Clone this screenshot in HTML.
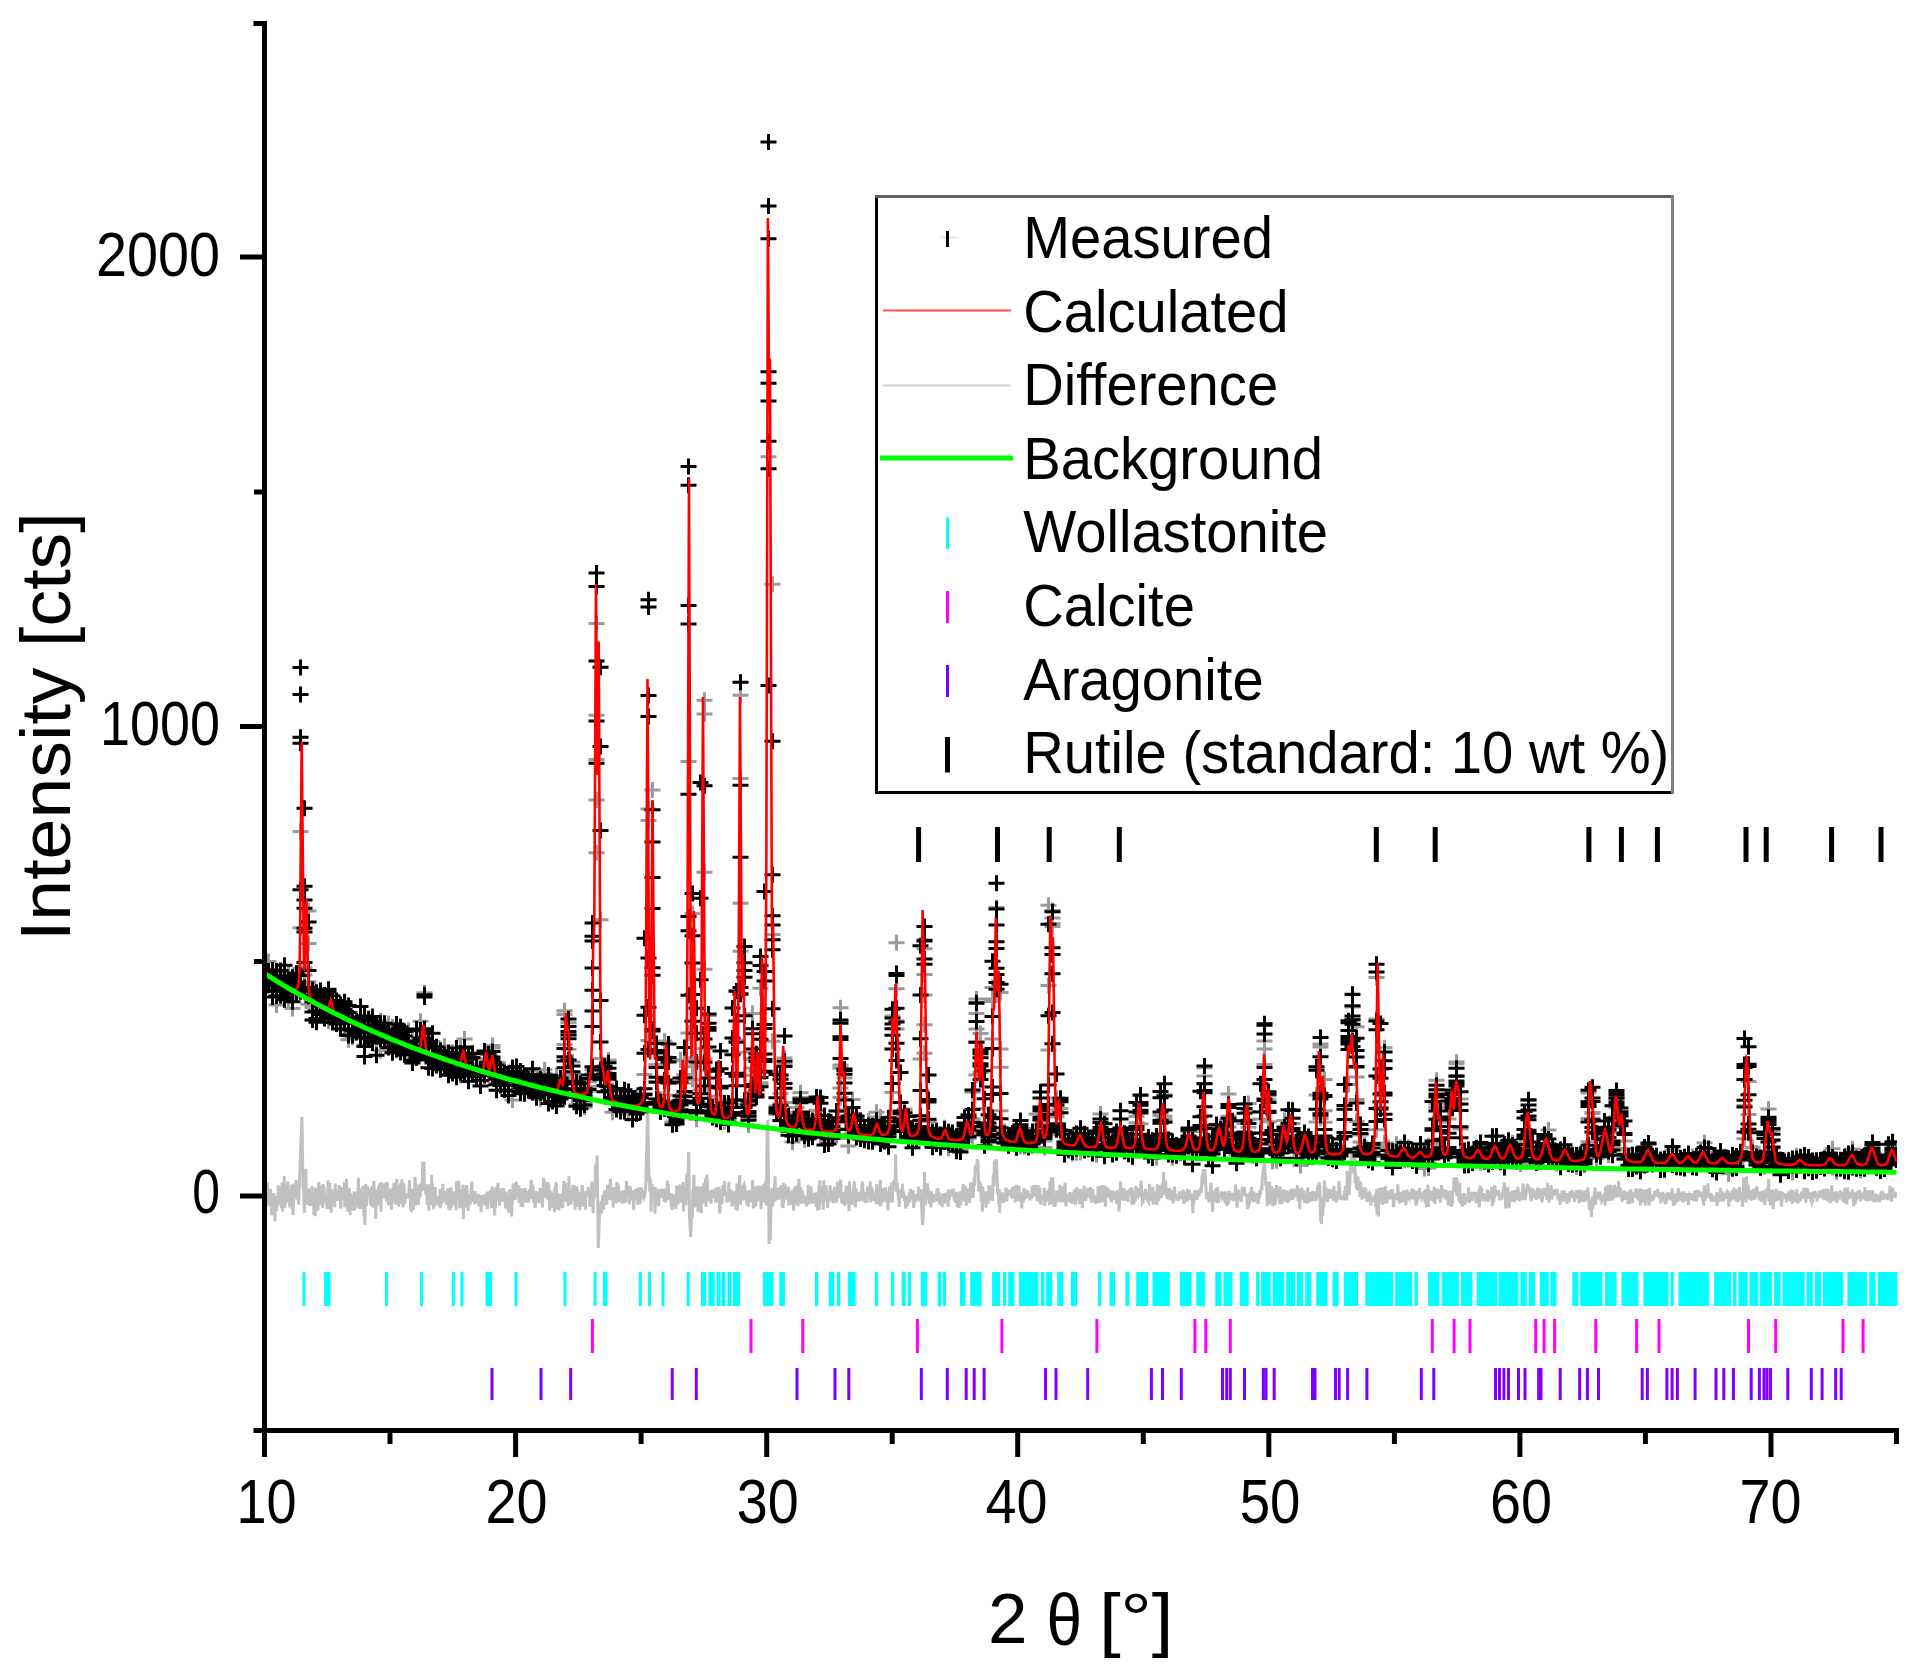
<!DOCTYPE html>
<html><head><meta charset="utf-8"><title>XRD Rietveld plot</title>
<style>
html,body{margin:0;padding:0;background:#fff;}
body{width:1912px;height:1675px;overflow:hidden;}
svg{display:block;}
text{font-family:"Liberation Sans",Arial,sans-serif;fill:#000;}
</style></head><body>
<svg width="1912" height="1675" viewBox="0 0 1912 1675">
<rect width="1912" height="1675" fill="#fff"/>
<defs><clipPath id="pc"><rect x="262" y="0" width="1635" height="1428"/></clipPath></defs>
<g clip-path="url(#pc)">
<polyline fill="none" stroke="#c0c0c0" stroke-width="3" stroke-linejoin="miter" points="264.5,1196 264.9,1192.9 265.7,1205.1 266.1,1200.6 266.5,1206.1 267.3,1182.3 267.7,1201 268.5,1191 269.7,1205.4 270.5,1188.9 271.7,1215.2 272.1,1209 272.5,1214.6 272.9,1198.3 273.3,1208.8 273.7,1193.2 274.5,1197.8 274.9,1221.3 275.7,1196.4 276.6,1211.3 277,1200.8 277.4,1205.8 277.8,1204.1 278.2,1185.3 278.6,1204 279.4,1187.1 279.8,1201.8 281,1195.3 281.4,1208.2 282.2,1182.4 282.6,1211.4 283,1187.4 283.8,1202.3 284.2,1176 285,1207.8 285.8,1190.2 286.2,1197.8 286.6,1189.1 287,1196.5 287.8,1181.6 288.2,1202.5 288.6,1193.8 289,1200.4 289.4,1194.6 289.8,1207.5 291.4,1184.5 291.8,1208.8 292.6,1189.3 293,1215.3 294.2,1183.2 295.4,1199 296.2,1180.1 296.6,1199.3 297.4,1191.2 298.6,1204.5 301.9,1116.9 303.1,1188.8 303.5,1179.8 304.3,1212.8 305.9,1168.8 306.3,1204.6 307.5,1189.9 308.3,1197.5 308.7,1188.6 309.5,1205.6 310.3,1195.3 310.7,1205.9 311.1,1193.2 311.5,1204 311.9,1186.4 313.1,1201.5 313.5,1196.9 313.9,1214.9 314.7,1192.4 315.1,1216.2 315.5,1187.8 315.9,1212.5 316.3,1188.7 316.7,1203.9 317.1,1188.5 317.9,1210.5 318.7,1182.2 320.3,1205.1 320.7,1185.5 321.1,1201.1 321.5,1196.4 322.8,1208 323.2,1184.1 323.6,1197.4 324,1186.9 324.8,1202.5 326,1195.9 327.2,1208.9 328,1180.4 328.8,1205.9 329.6,1182.6 330,1209.9 330.4,1198 331.2,1212.8 331.6,1189 332.8,1203 333.2,1191.7 334.8,1207.3 335.2,1183.6 335.6,1200.7 336,1193.3 337.2,1200.7 337.6,1190.2 338,1198.8 338.8,1195.8 339.2,1185.1 340.8,1208.7 341.2,1187.3 342,1197.3 342.4,1191 343.6,1187.5 344,1200.1 344.4,1182.1 344.8,1207.4 345.2,1188.1 345.6,1191.5 346.5,1178.8 347.7,1211.4 348.1,1188.6 348.5,1205.2 349.3,1188.4 350.1,1215.1 350.5,1193.6 351.3,1198.2 351.7,1195.6 352.5,1209.7 352.9,1197.5 353.7,1210.8 354.1,1191.4 354.5,1196.5 354.9,1192.3 355.3,1204.9 355.7,1201.9 356.1,1205 356.5,1204 356.9,1194.2 357.3,1203 358.5,1177.8 358.9,1208.5 359.3,1188 360.5,1209 361.3,1189.3 362.5,1198.6 362.9,1185.7 363.7,1215.6 364.1,1202.1 364.9,1224.9 365.7,1184.1 366.5,1206.4 367.3,1186 368.5,1196.5 369.4,1188.9 369.8,1191.1 370.6,1205.2 371.8,1186.3 372.2,1207.2 373,1196 373.4,1207.6 373.8,1180.9 374.6,1200.1 375,1189.2 375.4,1192.7 375.8,1218.9 376.2,1193.8 376.6,1196.5 377,1195.3 377.4,1205.4 378.6,1185.6 379.4,1196 379.8,1182.7 381,1211.8 381.4,1182.3 383.8,1198.2 385,1182.9 386.6,1201.5 387,1182.1 388.6,1205.5 389.4,1188.5 389.8,1199.4 391,1195 391.4,1209.6 392.7,1188.4 393.1,1202.6 393.9,1182.9 394.3,1198.6 394.7,1201.1 395.1,1194.3 395.9,1204.4 396.7,1178.8 397.1,1198.2 397.9,1204.9 398.3,1193.2 398.7,1206.6 399.5,1185.1 399.9,1203.6 400.3,1186.8 400.7,1183 401.1,1193.8 401.9,1179.4 403.1,1207.4 403.9,1183.4 404.7,1203.9 405.9,1193.5 406.3,1197.6 407.1,1193.4 407.5,1198.4 408.3,1194.2 408.7,1196.6 409.5,1180.2 410.7,1210 411.1,1192.6 411.5,1212.1 412.3,1188.7 413.5,1210 415.1,1176.8 416.4,1205.3 416.8,1195.9 417.6,1204.9 418,1194.3 418.4,1204.7 418.8,1185.7 419.6,1185.3 420,1197.6 420.4,1188.2 420.8,1191.7 421.6,1186.7 422,1190.1 422.8,1161.6 423.2,1167.9 424,1161.6 424.4,1190.8 425.2,1184.1 426,1194.6 426.4,1184.5 427.2,1204.5 428,1188.4 428.4,1191.4 428.8,1210.8 429.2,1184.3 429.6,1190.5 430,1184.5 431.2,1204.8 431.6,1175 432,1197.1 432.4,1182.8 433.6,1209.4 434.4,1187.8 434.8,1206 435.2,1187.1 436,1204.3 437.2,1196.3 438,1202.6 438.4,1198.4 439.3,1206.3 440.1,1188.8 440.5,1208.2 440.9,1195.9 441.7,1203.8 442.1,1189.1 442.5,1200.1 442.9,1183.9 443.3,1202.2 443.7,1192.8 444.5,1202 444.9,1191.2 445.3,1197.2 445.7,1191.1 446.5,1204.6 447.7,1188.3 448.9,1209.7 449.3,1190.8 450.1,1210.4 450.9,1187.2 451.3,1208.1 452.1,1201.9 452.5,1204.9 452.9,1193 453.7,1201.7 454.1,1191.3 454.5,1202 454.9,1192.5 456.1,1210.5 456.5,1181.3 456.9,1198.5 457.3,1194 457.7,1196.2 458.1,1194.7 458.5,1195.6 458.9,1180.9 459.7,1208.3 460.1,1204 460.5,1206.6 461.3,1189.4 462.2,1207.3 463,1184.5 463.4,1219.3 463.8,1191.6 464.2,1204.8 464.6,1187.6 465,1204.6 465.4,1198.3 465.8,1207.9 466.6,1185.1 468.2,1210.8 469,1196.2 469.8,1196.7 470.2,1204.7 471.8,1181.5 472.6,1201.9 473,1196.5 473.8,1201.7 474.2,1196.4 474.6,1204.1 475,1191.3 477,1203.3 478.2,1194.2 479,1206.5 479.4,1195.5 479.8,1206.3 480.6,1198.3 481,1211.9 481.4,1195.3 483,1198.9 483.4,1203.6 484.6,1195.3 485,1205.7 485.5,1194.1 486.7,1199.6 487.1,1191.6 487.5,1209.2 487.9,1192.4 488.3,1194.1 489.1,1193 489.5,1201 490.3,1191 491.5,1208.2 492.3,1186.5 493.5,1208.3 493.9,1188.6 494.7,1215.4 495.1,1193.1 495.5,1207.3 496.7,1186.4 497.1,1198.8 497.9,1182.8 499.5,1205.5 500.3,1192.8 501.1,1195.2 501.5,1188.5 501.9,1201.8 503.5,1188 504.3,1198.3 504.7,1193.3 505.5,1208.2 505.9,1191.7 506.3,1196.4 506.7,1193.7 507.1,1208.6 507.5,1198.7 508.8,1212.7 509.6,1189.3 510.4,1200.4 511.2,1190.4 511.6,1216.4 513.2,1183.4 514,1193.7 514.8,1190.2 515.2,1200 516.4,1181.6 516.8,1197.2 518,1186.1 518.4,1196.2 518.8,1185.2 519.2,1203.1 520.8,1188.4 521.2,1207 522,1193.5 522.8,1207.1 523.2,1188.4 524.4,1199.5 524.8,1188.5 525.2,1197.7 525.6,1188 526,1202.6 526.8,1194.5 527.2,1201.1 527.6,1191.1 528.4,1202.7 529.6,1189.4 530.4,1199.2 531.2,1179.8 532.1,1195.5 532.9,1184.9 533.7,1203 534.5,1192.7 535.3,1207.8 536.1,1191.2 536.5,1201.4 537.7,1191.6 538.1,1198.4 538.5,1192.4 538.9,1202.4 539.3,1198.6 539.7,1203.3 540.1,1187.9 540.9,1201.3 542.1,1191 542.5,1207.4 543.7,1177.9 544.5,1196.8 545.3,1181.4 545.7,1197.7 546.5,1187.4 547.7,1199.6 548.1,1182.3 549.3,1191.1 549.7,1210.4 550.1,1191.5 550.5,1197.4 551.3,1191.2 552.1,1207.9 552.5,1193.4 552.9,1201.2 553.3,1198.3 553.7,1200.3 554.1,1198.4 554.5,1212.3 554.9,1187.4 555.4,1194.2 556.2,1182 557,1208.7 558.6,1195.4 559,1210.5 559.4,1193.5 559.8,1207.1 560.2,1193.8 562.2,1200.4 562.6,1208.2 563.8,1181.1 565,1201.8 565.4,1183 565.8,1196.5 566.6,1198.6 567,1195.2 567.4,1199.8 567.8,1196.7 568.2,1205.6 569,1176.4 569.4,1196.6 569.8,1197.9 570.6,1190.5 571,1204.6 571.8,1189 572.6,1195.1 573,1184.8 573.4,1200.8 573.8,1195.4 574.2,1199.6 574.6,1185.6 575,1209.6 577,1186.3 577.4,1206.9 577.8,1190.8 578.7,1200.6 579.1,1192.3 579.9,1210.3 580.3,1198.5 580.7,1206.3 582.3,1185 583.1,1206.6 583.5,1201.2 584.3,1204.4 584.7,1192.9 585.5,1209.7 585.9,1191.1 586.3,1196.7 587.5,1191.5 587.9,1195.7 588.3,1187.1 588.7,1192.8 589.5,1192.8 589.9,1206.8 591.1,1194.1 591.5,1206.6 591.9,1181.7 593.1,1213.4 593.5,1197.6 593.9,1194.2 594.3,1198.7 594.7,1184.9 595.1,1188.8 595.5,1164.4 595.9,1182 597.1,1155.6 598.3,1248 599.9,1204 600.3,1209.2 601.1,1201 601.5,1213.4 602.8,1195.2 603.6,1209.8 604.4,1190.3 605.6,1202.5 606,1191.5 606.8,1204.8 607.6,1184.9 608,1194.3 608.4,1187.2 608.8,1199.6 609.2,1189.1 609.6,1200.3 610.4,1178.7 611.2,1199.4 612.4,1187.9 613.2,1207.6 614.8,1187.2 616,1203.3 616.8,1182.1 618,1195 618.4,1184.2 618.8,1202.1 620,1191.1 620.4,1198.8 620.8,1193.9 621.2,1197.8 621.6,1195.2 622.4,1203.5 623.2,1190.2 623.6,1202.3 624.4,1191.6 624.9,1203 625.3,1194.7 625.7,1202.9 626.5,1180.8 627.3,1197.4 627.7,1191.1 628.5,1195.3 628.9,1185.8 629.3,1204.5 629.7,1189 630.1,1196.2 630.5,1186.7 631.3,1200.3 632.1,1191.1 632.5,1195.6 632.9,1192.7 633.7,1209.7 634.1,1190 635.3,1195.4 635.7,1189 636.5,1200.4 637.3,1188 637.7,1204.7 638.1,1187.9 638.9,1202.8 639.3,1187.3 640.1,1204 641.3,1187.4 641.7,1198 642.5,1190.1 642.9,1199 643.3,1192 644.1,1197.3 644.5,1196.3 645.7,1186.8 647.7,1106.7 649,1182.1 649.4,1176.4 649.8,1191.7 650.6,1178.8 651,1211.7 652.2,1184.2 653,1196 653.8,1188.7 654.2,1196 654.6,1187 655,1213.6 655.4,1190.4 655.8,1203.9 656.2,1187.9 657,1202.3 657.4,1193 658.6,1206.2 659.8,1189.1 660.2,1196.7 660.6,1189 661.4,1196.4 662.2,1189 662.6,1198.1 663.8,1195.3 664.2,1202 664.6,1188.6 665.8,1202.7 666.2,1192.9 667,1199.3 667.4,1180.5 667.8,1193.2 668.2,1183.7 669,1200.2 669.8,1193.1 671,1197.8 671.5,1207.4 671.9,1197.4 672.3,1210 672.7,1193.6 673.1,1200.5 674.3,1194.2 674.7,1205 675.1,1207 675.5,1202.7 675.9,1208.8 676.7,1185.9 677.1,1202.6 677.5,1191.8 677.9,1204.6 678.3,1194 678.7,1198 679.1,1196.3 679.9,1184.6 681.1,1202.6 681.5,1191.7 681.9,1197.8 682.3,1189.4 682.7,1196.2 683.1,1182 683.5,1211.2 684.3,1189.4 685.9,1205.2 686.7,1173.9 687.5,1198.7 688.7,1152 689.5,1216.2 690.7,1237 691.9,1206.8 692.3,1217.7 692.7,1190.1 693.1,1203.6 693.9,1175 694.8,1207.4 695.6,1187.3 696,1201.4 696.8,1196.8 697.2,1206.6 697.6,1186.3 698,1211.8 698.8,1197.7 700,1193.9 700.4,1197.1 700.8,1186.7 701.2,1213.1 701.6,1193.8 702,1200.9 702.8,1186 703.2,1203.1 704,1182.7 704.8,1200.7 705.6,1178.3 706,1206.7 706.8,1174.9 708.4,1200.7 708.8,1197.7 709.2,1200.2 709.6,1190.5 710.8,1203.7 712.4,1189.5 712.8,1193.7 713.2,1192.8 714.8,1197.9 715.2,1191.2 715.6,1202.7 716,1187.5 716.8,1201 717.2,1199.4 717.6,1200.9 718.1,1194.7 718.5,1201.6 718.9,1186.8 719.7,1213.4 721.3,1189.1 722.1,1204.3 722.9,1185.1 723.7,1195.9 724.5,1181.1 725.3,1195.1 726.1,1192.2 726.9,1202.3 727.3,1195.6 727.7,1201.7 728.5,1195.3 728.9,1181.7 729.3,1201.1 730.9,1189.4 732.1,1206.7 732.9,1191.8 733.7,1204.7 734.9,1190.8 736.1,1209.8 736.9,1183.5 737.3,1210.5 739.7,1175.1 740.5,1204.6 740.9,1185.3 741.4,1197.5 743,1185.5 743.4,1200.5 743.8,1186.2 744.2,1185 744.6,1186.5 745,1185.6 745.4,1196.7 746.2,1190.5 746.6,1204.3 747,1194.5 748.2,1206.6 749.4,1190.2 751,1202 751.4,1192.7 751.8,1197.9 752.6,1180.4 753.4,1208.4 753.8,1202.7 754.2,1206.8 754.6,1204.5 755,1186.7 755.8,1206.8 756.6,1185.9 757.4,1201.4 759,1187.5 759.8,1187.5 760.2,1185.7 761,1209.2 762.6,1186.3 763.4,1202.5 763.8,1183.7 764.7,1192.1 765.5,1181.7 766.3,1205.4 767.1,1130.3 767.9,1120 769.1,1244 769.5,1195.8 770.3,1240.1 771.1,1193.8 771.5,1206.3 771.9,1187.7 772.7,1206.6 773.5,1187.8 773.9,1202 775.1,1176.2 775.5,1200.6 775.9,1187 776.7,1196.7 777.9,1188.2 778.7,1199.6 780.3,1187.2 780.7,1193.2 781.5,1185.2 782.3,1207.7 782.7,1205.7 783.1,1208 783.5,1182.7 783.9,1202.7 784.3,1186.6 784.7,1191.8 785.1,1184.4 785.9,1196.6 786.3,1197.2 787.1,1194.9 787.5,1199 788.4,1186.7 788.8,1205.8 789.2,1194.5 789.6,1201.2 790.4,1191.2 790.8,1196.3 791.2,1191.6 791.6,1205 792,1189.7 792.4,1199.4 792.8,1192.4 793.2,1194.9 793.6,1210.7 794.8,1187.1 796,1204.1 796.8,1185.4 798,1205.9 798.8,1178.8 800.4,1202.4 800.8,1187.4 801.2,1203.8 802.4,1190.7 804,1203.3 804.4,1195.6 805.2,1203.3 806,1198.7 806.4,1206.3 806.8,1203.5 807.2,1205.1 808.4,1184.8 808.8,1204.3 809.6,1190.9 810.4,1197.8 810.9,1186.5 812.1,1203.3 812.5,1194.1 813.3,1203.6 814.1,1193 814.9,1199.7 815.7,1192.5 816.1,1207 816.9,1193.2 817.7,1210.6 818.9,1185.8 819.3,1209.6 819.7,1180.2 820.1,1202.6 820.5,1190.5 820.9,1189 821.3,1190.5 822.1,1202.4 822.5,1192.5 823.3,1209.9 823.7,1180.4 824.9,1201 825.3,1187.9 826.1,1187.4 827.7,1208 828.5,1195.4 828.9,1201.4 829.7,1196.5 830.1,1185.3 830.9,1196.2 831.3,1189.3 831.7,1200.2 832.5,1190.9 832.9,1202.7 833.3,1197.4 833.7,1203.1 834.6,1186.8 835,1199.9 835.4,1194.5 836.6,1202.5 837.4,1181.6 838.2,1198.6 838.6,1188.5 839,1194 839.4,1183.6 839.8,1185.2 840.6,1179.6 841.8,1203.4 842.2,1194.9 842.6,1203.7 843,1195.2 843.4,1202.1 844.2,1192 844.6,1205.9 846.2,1185.6 847,1197.8 847.4,1187.6 847.8,1204.3 848.2,1187.5 849,1211.3 849.4,1181.2 850.2,1201.7 850.6,1195 851,1197.1 851.4,1195.3 851.8,1204.6 853.4,1188.5 853.8,1195.4 854.2,1181.4 855.4,1207.4 856.2,1188.3 856.6,1201.3 857,1193 857.9,1201.7 858.3,1197.9 859.1,1198.6 859.5,1191.9 860.7,1200.8 862.3,1181.7 863.9,1200.6 864.7,1201.3 865.5,1198.3 865.9,1192 867.1,1202.5 867.5,1187.2 867.9,1193.3 868.3,1186.4 868.7,1191.7 869.1,1188 869.5,1197.3 870.3,1181.5 870.7,1202.5 871.5,1186.9 871.9,1193.7 872.7,1189.1 873.1,1199.6 873.5,1193.7 873.9,1200.8 875.9,1193.3 876.3,1204.3 876.7,1184.2 877.9,1198.1 879.1,1193.6 879.5,1205.4 880.3,1179.7 880.8,1206.2 881.2,1190.4 882,1196.5 882.4,1188.4 882.8,1202.4 883.6,1187.9 884,1197 884.4,1198.2 884.8,1195.2 885.2,1198.3 885.6,1187.3 886,1200.9 886.4,1191 886.8,1202.8 887.2,1192.1 888,1210.3 888.4,1195.8 888.8,1201.8 889.6,1186.6 890.4,1202.2 890.8,1185.7 891.2,1194.5 891.6,1182.7 892.4,1202.8 893.2,1181.3 894,1187.1 894.8,1179.4 895.2,1180.7 895.6,1154.4 896.4,1191.7 897.2,1182.7 898.4,1199.9 898.8,1194.7 899.2,1207.2 900,1190.4 900.4,1198.4 901.2,1188.6 902,1195.6 902.4,1183.7 903.2,1197.8 903.6,1191.5 904.5,1201.1 904.9,1195.4 905.3,1196.9 905.7,1208.8 906.1,1197 907.3,1206.1 908.1,1196.1 908.9,1202.3 909.3,1192.4 909.7,1202.6 910.5,1188.8 910.9,1199.7 911.7,1190.1 912.1,1198 913.3,1190.2 913.7,1208 914.1,1200.5 914.9,1201.9 915.7,1200.6 916.1,1194.3 916.5,1200.9 917.3,1193.8 917.7,1200.1 918.5,1186.7 919.3,1199.8 919.7,1196.3 920.1,1201.6 920.9,1189.4 922.5,1225 924.1,1200.4 924.5,1171.9 924.9,1199.4 925.7,1201 926.5,1191.2 926.9,1194.7 927.4,1183.3 927.8,1194.7 928.2,1187.8 929.4,1203.8 929.8,1196.7 930.6,1197.3 931,1207.4 931.4,1191.3 931.8,1198 933,1197.2 933.4,1193.8 933.8,1202.6 934.6,1194.4 936.2,1200.3 937,1189.8 937.4,1201.4 937.8,1188.1 938.6,1198.3 939,1191.9 939.8,1204.9 940.6,1198.1 941.4,1198.6 941.8,1195.4 942.2,1207.2 942.6,1193.3 943,1203.6 943.8,1198.2 944.6,1203.6 945.8,1192.7 946.6,1201.3 947,1200.2 947.4,1200.8 947.8,1193.6 948.2,1206.6 948.6,1189.5 949.4,1200 950.2,1190.6 950.7,1194.2 951.1,1190.5 951.5,1195.2 952.3,1189.5 952.7,1196.4 953.1,1188.5 954.3,1200.6 955.1,1191.9 955.5,1202.6 955.9,1192.5 956.7,1194.4 957.1,1207.2 957.9,1192.5 959.1,1208 959.5,1192.4 959.9,1199.2 960.3,1191.3 960.7,1205.3 961.1,1192.2 961.5,1197 961.9,1191.6 962.7,1199 963.1,1184 963.5,1200.1 964.3,1197.2 964.7,1201.3 965.5,1185.8 966.3,1205.6 966.7,1188.6 967.5,1190.6 967.9,1188.7 968.3,1200.3 968.7,1196.2 969.5,1202.9 970.7,1182.5 971.5,1197.7 972.3,1183.3 973.1,1198 974,1177.5 974.4,1185.9 974.8,1183.8 975.2,1165.6 976,1173.2 977.2,1159.1 977.6,1164.3 978,1160.6 978.8,1191.4 979.2,1180.8 980,1186.2 980.4,1183.3 981.2,1201.4 981.6,1186.1 982.4,1211.6 982.8,1187.2 984,1203.5 985.6,1193.3 986,1207.7 986.4,1191.3 986.8,1201.7 987.6,1191.7 988.4,1203.6 988.8,1185.4 989.2,1200 990.4,1187 990.8,1197.9 991.2,1188.3 991.6,1200.3 992,1185.7 992.4,1201 993.2,1174.9 994,1186.3 994.4,1160.8 995.2,1179.8 995.6,1159 996,1181.2 996.4,1159.9 997.7,1194.4 998.1,1189.5 998.9,1204 999.3,1189.1 999.7,1212.8 1000.1,1198.5 1001.3,1193.6 1001.7,1202.4 1002.1,1192.3 1003.3,1202.9 1004.1,1193.8 1004.5,1200.7 1006.1,1187.8 1006.9,1201.4 1007.3,1190.6 1007.7,1194.2 1008.1,1190.1 1008.5,1195.8 1008.9,1189.8 1010.9,1194.7 1011.7,1190.9 1012.1,1198.5 1012.5,1187.1 1012.9,1196.4 1013.3,1190.9 1014.1,1197.2 1014.5,1185.7 1015.3,1202.4 1016.5,1184.8 1017.7,1201.2 1018.9,1185.9 1019.3,1199.8 1019.7,1192.5 1020.6,1201.7 1021,1196 1021.4,1197.4 1021.8,1208.5 1022.2,1192.8 1023.4,1202.8 1023.8,1188.4 1024.2,1194.6 1025,1188.9 1025.4,1198.6 1025.8,1191.9 1026.2,1197.2 1027.4,1196 1027.8,1190.4 1028.6,1196.7 1029.4,1194.2 1029.8,1200.4 1030.6,1196.2 1031,1198.8 1031.4,1196.5 1031.8,1199 1032.2,1185.9 1033.4,1196.2 1033.8,1185 1034.6,1196.4 1035.8,1188.8 1036.2,1196 1036.6,1185.1 1037,1200.6 1037.4,1192.2 1037.8,1201.5 1038.2,1185.4 1038.6,1197.9 1039.8,1187.5 1040.2,1203.4 1040.6,1198.2 1041,1204.7 1041.4,1195.1 1042.6,1199.6 1043,1197.9 1043.5,1199.8 1044.3,1187.9 1044.7,1205.9 1045.9,1193.1 1046.3,1200.8 1046.7,1196.3 1047.1,1201.3 1047.5,1190.9 1048.3,1194.8 1048.7,1189.4 1049.5,1204.9 1049.9,1181.1 1050.7,1189.3 1051.5,1177.3 1051.9,1204.1 1052.7,1177.4 1053.9,1206.8 1054.7,1199.5 1055.1,1206.7 1055.5,1195.6 1056.3,1202.9 1056.7,1190.5 1057.1,1199.9 1058.3,1190.5 1059.5,1201.4 1059.9,1184.8 1060.7,1202.3 1062.3,1186.5 1063.9,1202.3 1065.1,1182.6 1065.9,1206.3 1066.8,1195.4 1067.2,1202.1 1068.4,1194.3 1069.2,1200.3 1069.6,1192.1 1070.8,1202.7 1071.6,1192.8 1072,1203.8 1072.8,1192.5 1074,1201.4 1074.4,1189.6 1075.6,1204.6 1076.8,1187.3 1078,1199.1 1079.2,1193.7 1079.6,1204.1 1080.4,1188.9 1080.8,1202.1 1081.6,1194.1 1082.4,1208.1 1082.8,1191.9 1083.6,1198.3 1084,1185.6 1084.8,1199.6 1085.2,1195.5 1085.6,1201 1086.4,1194.1 1087.2,1198.1 1087.6,1187.9 1088,1191.8 1089.2,1193.7 1089.6,1189 1090.1,1196.1 1090.5,1187.1 1090.9,1200.5 1091.3,1197.2 1091.7,1202.6 1092.9,1189 1093.3,1199.2 1093.7,1195.9 1094.9,1201.7 1095.3,1195.7 1095.7,1204.3 1096.1,1195.4 1097.7,1202.9 1098.1,1186.4 1098.5,1203 1098.9,1187.7 1100.1,1202.6 1100.9,1185.9 1101.3,1201.4 1102.9,1185.2 1104.1,1202.3 1104.5,1185.6 1105.3,1206.7 1106.5,1186.8 1106.9,1197.6 1108.1,1188.4 1108.5,1196.3 1108.9,1191 1110.9,1200.3 1111.3,1190.2 1111.7,1202.5 1112.1,1190.4 1113.4,1199.6 1115.4,1191.2 1116.6,1203.6 1117,1192.2 1117.8,1198.1 1118.2,1189.9 1119,1211.4 1120.6,1181.6 1121,1198.9 1123,1189.3 1123.4,1200.9 1123.8,1188.1 1124.2,1200.5 1125,1190.3 1125.8,1200.4 1127.4,1190.4 1127.8,1202 1128.2,1193.6 1128.6,1193 1129.4,1193.6 1129.8,1188.6 1130.2,1193.5 1130.6,1191.7 1131,1193.1 1131.4,1187.2 1131.8,1204.7 1132.2,1189.6 1133.8,1204.4 1135,1192.3 1135.4,1201.8 1135.8,1186.2 1136.7,1193.4 1137.9,1195.8 1139.1,1188.2 1139.5,1196.6 1139.9,1189.8 1140.3,1194.6 1141.1,1180.6 1142.3,1202.3 1142.7,1201.5 1143.1,1203.1 1143.5,1191.5 1143.9,1199 1144.3,1195.1 1144.7,1198.5 1145.5,1189 1145.9,1198.9 1146.3,1197.3 1146.7,1199.5 1147.1,1191.6 1147.5,1200.5 1148.7,1202.3 1149.5,1183.7 1149.9,1200.4 1150.3,1191.3 1151.1,1200.9 1151.5,1197 1152.3,1198.9 1152.7,1186.7 1153.1,1204.6 1153.5,1193.9 1154.3,1198.4 1155.1,1191.5 1155.5,1194.8 1156.3,1192.2 1156.7,1205 1157.5,1184.3 1158.7,1201.2 1160.4,1185.3 1161.6,1197.8 1162.4,1182.8 1163.2,1188 1163.6,1172.1 1164,1193.2 1164.8,1193.5 1165.6,1180.4 1166.4,1197.2 1167.2,1189.5 1167.6,1199.3 1168,1188.3 1168.8,1195.1 1170,1188.3 1170.4,1200.5 1170.8,1190.2 1171.2,1197.4 1171.6,1199.3 1172,1195.2 1173.2,1203.2 1174.4,1186.7 1175.6,1198.2 1176.4,1194.5 1176.8,1200.8 1177.6,1195.4 1178.4,1200.8 1179.6,1191.2 1180,1195.9 1180.4,1197.3 1180.8,1195.3 1181.6,1199 1183.3,1189.9 1183.7,1203.8 1184.9,1195.1 1185.7,1198.4 1186.1,1192 1186.9,1201.8 1187.3,1188.9 1188.1,1198.9 1188.5,1191.4 1188.9,1199.8 1189.3,1189.8 1190.1,1200.1 1190.5,1197.8 1190.9,1199.8 1191.3,1194.8 1192.1,1195.6 1192.9,1213.4 1193.3,1195.3 1193.7,1204.7 1194.5,1190.4 1195.3,1197.5 1196.1,1196.2 1197.3,1199.8 1197.7,1189.8 1198.1,1195.3 1198.5,1190.6 1198.9,1196.1 1200.5,1188.2 1201.3,1193.1 1202.1,1174.5 1202.5,1184.3 1203.3,1169 1204.5,1184.5 1204.9,1169.2 1206.6,1199.4 1207.4,1192 1209,1202 1209.4,1196.9 1209.8,1202.2 1211,1182.5 1212.6,1211.7 1213.8,1191.2 1215,1194.8 1215.8,1188.6 1216.2,1201.3 1216.6,1198.2 1217,1203.2 1217.4,1187.1 1218.6,1202.6 1219,1194.9 1219.4,1197.2 1219.8,1195.4 1220.2,1196.9 1220.6,1193.1 1221,1198 1221.4,1191.4 1222.2,1197.4 1222.6,1196.5 1223,1198.1 1223.4,1191.9 1223.8,1197.2 1224.2,1194.5 1225,1203.4 1225.4,1191.2 1225.8,1201.6 1226.6,1193.5 1227,1206 1227.8,1199.3 1228.6,1203.9 1229,1190.9 1229.5,1197.5 1229.9,1193.5 1230.3,1198.6 1230.7,1194.1 1231.1,1200.1 1231.9,1192.9 1233.1,1201.1 1233.9,1194.3 1234.7,1199.5 1235.5,1184.5 1237.1,1207.7 1238.3,1189.6 1239.1,1199.5 1239.9,1195.2 1240.3,1198.5 1240.7,1196.2 1241.1,1202.2 1242.3,1186.6 1243.1,1194.6 1244.3,1186.8 1245.1,1196.6 1245.5,1194.3 1246.7,1194.6 1247.5,1209.2 1247.9,1200 1248.3,1207.8 1248.7,1195.5 1249.5,1204.6 1249.9,1192.4 1250.7,1195.4 1251.5,1187.1 1251.9,1201.4 1252.3,1191 1252.8,1193.8 1253.6,1191.5 1254,1199 1254.4,1198.4 1255.2,1199.1 1255.6,1196.1 1256,1202.2 1256.8,1192.9 1257.2,1195.8 1257.6,1193.7 1258,1204 1259.2,1194.9 1259.6,1197.6 1260,1190.1 1260.4,1194.3 1261.6,1185.7 1262,1189.6 1262.4,1175.7 1264.4,1163.1 1266,1186 1266.4,1181.9 1267.2,1206.2 1267.6,1185.2 1268.4,1203 1268.8,1196.4 1269.2,1201.2 1269.6,1181.6 1270.4,1204.4 1271.6,1186.2 1272.4,1206.2 1272.8,1195.4 1274,1205.5 1274.8,1188.2 1275.2,1204.4 1276.5,1185.2 1277.3,1196.7 1277.7,1190.8 1278.5,1198.5 1278.9,1192.6 1279.7,1204.2 1280.1,1186.3 1280.5,1197.5 1280.9,1198.9 1281.3,1194.2 1281.7,1204 1283.7,1189.5 1284.1,1198.6 1284.9,1192.6 1285.3,1201.7 1285.7,1194.7 1286.1,1200.7 1286.5,1190.5 1287.7,1202.8 1288.9,1191.9 1289.7,1200.8 1290.1,1190.2 1290.9,1199.6 1291.3,1188.9 1291.7,1197.7 1292.5,1195.2 1292.9,1199.9 1294.1,1188.6 1294.9,1197.1 1295.3,1188.5 1295.7,1196.1 1296.5,1191.9 1296.9,1194.6 1297.3,1185.1 1298.1,1201.3 1298.5,1190 1299.4,1197.3 1299.8,1209.5 1300.2,1191.3 1301,1192.2 1301.8,1187.8 1303,1199.7 1303.8,1190.4 1304.6,1203 1305,1194 1305.8,1200.2 1306.2,1193.6 1307,1203.8 1307.8,1187.2 1308.2,1203.1 1309,1193 1309.8,1201.5 1311,1192.2 1311.8,1201.1 1312.6,1190.8 1313.4,1198.5 1314.6,1191.6 1315,1201.3 1315.4,1194.6 1316.2,1200 1317.8,1185.2 1318.2,1197.6 1319,1182.5 1319.4,1186.1 1319.8,1184.7 1320.6,1221.3 1321,1219.3 1321.4,1224 1321.8,1209.9 1322.7,1215.7 1323.1,1197 1323.9,1207.7 1324.3,1180.6 1324.7,1194.7 1325.9,1187.3 1327.5,1202.2 1328.3,1189.2 1329.9,1198.8 1330.3,1188.9 1331.1,1193.4 1331.9,1191 1332.3,1193.4 1332.7,1192.3 1333.1,1200.8 1333.9,1185.9 1334.3,1197.8 1335.5,1191.2 1336.3,1202.6 1336.7,1193.2 1337.1,1200.6 1337.9,1192.8 1338.3,1196.5 1339.1,1181.1 1340.3,1199 1340.7,1197.8 1341.1,1199.6 1341.5,1197.1 1341.9,1199.5 1342.7,1195.2 1343.9,1200.2 1344.3,1190.9 1344.7,1192.5 1345.6,1185.6 1346,1193.5 1346.4,1186.1 1346.8,1200.5 1347.2,1171.1 1348.4,1194.4 1348.8,1179.2 1349.2,1195.1 1351.2,1152.9 1351.6,1167.7 1352,1155.2 1352.8,1167.2 1353.2,1158.9 1353.6,1173.2 1354,1153.3 1354.4,1175.1 1354.8,1157.1 1355.2,1183.2 1355.6,1171.4 1356.4,1189 1357.2,1176.6 1357.6,1190.5 1358,1176.4 1358.4,1189 1358.8,1184.9 1359.6,1184.6 1360,1197 1360.4,1181.7 1362,1199.5 1362.8,1190.3 1363.6,1198.5 1364.4,1187.1 1364.8,1195.7 1365.6,1188.6 1367.2,1201.9 1368.9,1193.8 1369.3,1193 1370.1,1194.5 1370.9,1205.3 1371.3,1198 1371.7,1200.1 1372.5,1197.2 1372.9,1201.8 1374.1,1196 1374.5,1200.4 1374.9,1194.9 1375.7,1207.5 1376.5,1189.3 1376.9,1214.9 1378.1,1195.5 1378.5,1216.6 1378.9,1188.1 1379.7,1202.6 1380.5,1194.1 1381.3,1197.9 1381.7,1187.3 1382.5,1204.6 1382.9,1189.7 1383.3,1190.5 1383.7,1187.7 1384.1,1203.8 1384.5,1188.9 1384.9,1193.1 1385.3,1186.1 1385.7,1202.5 1386.1,1194.9 1386.9,1203.3 1387.7,1190.9 1388.5,1199.1 1388.9,1192.1 1389.7,1191.6 1390.1,1199.4 1390.9,1191.4 1391.7,1199.2 1392.6,1189.2 1393.4,1207.1 1395,1193.3 1395.8,1198.9 1396.2,1195.3 1396.6,1200.1 1397,1196.1 1397.4,1198.7 1397.8,1184.3 1398.6,1199.6 1399,1200.3 1399.4,1197.9 1399.8,1203.3 1401,1191.9 1402.2,1202.2 1403.8,1190.5 1404.2,1198.9 1404.6,1191 1405.4,1196 1405.8,1205.1 1407,1189.7 1408.2,1197.7 1409,1198.8 1409.4,1191.8 1410.2,1196.9 1411,1193.6 1411.4,1194.6 1411.8,1199.5 1412.2,1188.6 1413,1195.9 1413.4,1189.7 1414.2,1196.3 1414.6,1193.6 1415,1200.5 1415.5,1198.7 1415.9,1205.7 1416.3,1190.6 1416.7,1204.2 1417.1,1192.9 1417.9,1200.3 1419.5,1187.9 1420.7,1198.6 1421.1,1192.7 1421.9,1198 1423.5,1194.2 1424.3,1199.1 1424.7,1192.7 1425.1,1203.2 1425.9,1189.3 1426.3,1207.5 1427.1,1193 1427.5,1203 1427.9,1184.8 1428.3,1207 1428.7,1189.7 1429.9,1196.8 1430.3,1194.3 1430.7,1199.8 1431.1,1192.2 1431.5,1200.8 1432.3,1191 1432.7,1200.9 1433.5,1194 1433.9,1202.4 1434.3,1186.7 1435.1,1204 1435.5,1193.4 1435.9,1198.7 1436.7,1193.2 1437.1,1198.8 1437.5,1188.5 1437.9,1199.3 1438.3,1189.3 1438.8,1195.7 1439.2,1190.4 1440.4,1202.5 1441.6,1185.1 1442.8,1196.8 1443.2,1194.1 1443.6,1196 1444,1189.4 1444.8,1199.5 1445.6,1189.8 1446.4,1196.8 1446.8,1190.5 1448.4,1205.5 1448.8,1191.2 1449.2,1202.3 1450.4,1190.8 1451.6,1206.8 1452,1195.5 1452.4,1204.4 1452.8,1191.9 1453.2,1190.7 1453.6,1192.1 1454,1177.6 1454.4,1185.7 1454.8,1183.6 1455.6,1186.7 1456.4,1177.3 1456.8,1195.9 1457.2,1180.2 1459.2,1201.9 1459.6,1182.6 1460.4,1203.6 1460.8,1193.4 1462.1,1206.7 1462.9,1194.5 1463.7,1196.8 1464.5,1193.2 1464.9,1204.9 1465.3,1197.1 1466.1,1201.1 1467.3,1197 1467.7,1202 1468.5,1187.4 1469.3,1203 1470.1,1193.4 1470.9,1200.6 1471.3,1191.7 1472.1,1200.7 1473.3,1192.9 1474.1,1196 1474.5,1191.9 1474.9,1195.6 1475.3,1191.9 1476.1,1203.1 1476.5,1192.4 1476.9,1202.4 1477.3,1197.3 1477.7,1196.4 1478.5,1198.1 1478.9,1189.5 1479.3,1207.5 1480.1,1185.6 1480.5,1195.8 1481.7,1188 1482.1,1201.1 1482.5,1195.6 1482.9,1196.8 1483.3,1193.6 1483.7,1195.3 1484.1,1193.2 1484.5,1197.7 1484.9,1195.8 1485.4,1198.8 1486.6,1196.6 1487,1200.9 1487.4,1189.4 1488.2,1201.8 1488.6,1191.3 1489,1199.1 1489.4,1193.8 1489.8,1196 1490.6,1195.2 1491,1198.5 1491.8,1186.8 1492.2,1206.1 1493,1193.9 1493.8,1202.5 1494.2,1185.6 1494.6,1197.8 1495,1185.9 1495.8,1195.6 1497,1190.5 1498.2,1195.2 1498.6,1190 1499.4,1200.3 1500.2,1194.5 1501.4,1200 1502.6,1191.8 1503,1195.9 1503.4,1187.2 1503.8,1196.3 1504.2,1182.4 1505.8,1208.3 1507,1187.2 1507.4,1202.3 1507.8,1187 1508.2,1197.1 1508.7,1192.5 1509.1,1208.2 1510.3,1192.6 1511.1,1201.5 1511.5,1191.4 1512.3,1193.1 1513.1,1190.9 1514.3,1202 1514.7,1190.1 1515.9,1197.7 1516.7,1195.8 1517.5,1198.8 1517.9,1186.8 1519.1,1201.2 1520.3,1192.5 1521.9,1200.2 1523.1,1183.5 1523.5,1198.1 1524.3,1189.2 1525.1,1200.1 1527.5,1183.8 1528.7,1192.4 1529.5,1186.9 1531.1,1201 1532.8,1188.3 1533.2,1195.2 1534,1190 1534.8,1198.3 1535.6,1195.2 1536,1199.9 1536.8,1191.6 1537.2,1197.8 1537.6,1187.6 1538,1197.1 1538.8,1196.9 1539.2,1198.9 1540.4,1188.8 1542,1202.3 1543.2,1191.4 1543.6,1196.1 1544,1187.7 1545.2,1194.8 1546.4,1191.2 1546.8,1199.6 1547.6,1182.9 1548,1196.4 1549.2,1202.7 1549.6,1190.6 1550.4,1194.6 1551.2,1185.2 1551.6,1199.7 1552,1191.5 1553.6,1196.1 1554,1189.4 1554.9,1194.5 1555.3,1190.9 1556.5,1194.6 1556.9,1188.8 1558.1,1199.5 1558.5,1197.4 1558.9,1200.3 1559.7,1194.9 1560.1,1204.6 1560.9,1193.2 1561.7,1200.1 1562.1,1190.4 1562.9,1201.5 1564.5,1190.6 1565.3,1201.5 1566.5,1196.8 1566.9,1204 1567.7,1193.1 1568.1,1196.6 1568.5,1194 1569.3,1202.1 1570.1,1191.2 1570.9,1197.9 1571.3,1191 1571.7,1197.3 1572.1,1189.8 1572.9,1197.8 1573.3,1192.8 1574.5,1201.9 1574.9,1194.9 1576.1,1197.7 1576.5,1190.2 1577.3,1198.9 1578.2,1190.2 1579,1203.1 1580.6,1189.7 1581,1201.6 1582.2,1190.6 1582.6,1196.3 1583,1191.7 1583.8,1201.9 1584.6,1198.6 1585,1200.4 1585.8,1190.1 1586.6,1200.7 1587,1196.4 1587.4,1199.2 1587.8,1187.4 1589.4,1209.7 1590.6,1200.9 1591.4,1217 1592.2,1196.5 1592.6,1209 1595,1187.5 1595.4,1204.9 1595.8,1196.3 1597.4,1197.6 1597.8,1191.7 1598.2,1198.1 1599.4,1195.5 1599.8,1196.8 1600.2,1191.5 1600.6,1196 1601,1195.2 1601.5,1196.2 1601.9,1200.9 1602.3,1200.1 1602.7,1201.3 1603.1,1194.9 1603.9,1201.7 1604.7,1193 1605.1,1205.7 1605.5,1186.5 1605.9,1195.7 1606.7,1190.2 1607.5,1198.9 1607.9,1184.9 1608.3,1201.1 1609.1,1191.8 1609.5,1200.7 1610.7,1184.7 1611.1,1199.5 1611.9,1191.9 1612.7,1200.4 1614.3,1185 1615.5,1188.1 1615.9,1197.6 1616.7,1189 1617.9,1197.4 1618.7,1181 1619.1,1196.4 1619.5,1192.2 1619.9,1196.3 1620.3,1187.6 1622.3,1201.7 1622.7,1191.9 1623.1,1199.7 1623.5,1193 1623.9,1195.2 1624.3,1190.6 1624.8,1195.9 1625.2,1191.3 1625.6,1199.9 1626,1193.3 1626.4,1196.8 1627.6,1192.1 1628,1204.2 1628.4,1194.6 1628.8,1202 1629.2,1191 1629.6,1203.9 1630,1200 1630.4,1202.7 1630.8,1189.3 1631.2,1201.1 1631.6,1195.5 1632.4,1203.2 1633.2,1193.3 1633.6,1196.7 1634,1192.2 1634.4,1197.4 1634.8,1195.9 1635.2,1197.5 1636,1188.4 1637.6,1199 1638,1190.1 1638.4,1200.4 1639.2,1196.4 1639.6,1197.7 1640,1188.2 1640.4,1205.4 1640.8,1194.5 1641.6,1200.5 1642.8,1189.3 1643.6,1202.6 1644.4,1189.5 1645.2,1205.7 1645.6,1189.6 1646,1196.9 1646.4,1190.9 1647.6,1198.1 1648.1,1189.1 1648.9,1205.8 1649.7,1187.9 1650.5,1202 1650.9,1196 1652.1,1198 1652.5,1197.3 1652.9,1197.9 1653.3,1194.6 1653.7,1199.3 1654.9,1190.8 1655.7,1196.4 1656.9,1191.7 1657.3,1194 1657.7,1188.9 1658.9,1197.6 1659.3,1192.5 1659.7,1194 1660.9,1203.2 1661.7,1193 1662.5,1201.1 1662.9,1191.9 1663.3,1198.1 1664.1,1194.3 1665.3,1204.2 1665.7,1199.6 1666.1,1203.2 1667.3,1192.3 1668.1,1198.6 1669.3,1193.4 1670.1,1200.3 1670.5,1196 1671.4,1197.4 1672.2,1188.4 1673.4,1205.8 1673.8,1196.5 1674.6,1205.2 1675.4,1193.5 1675.8,1199 1676.2,1197.5 1676.6,1199.9 1677,1192.9 1677.4,1202.1 1678.2,1188.2 1679.8,1200.6 1680.6,1194.4 1681,1200 1682.2,1191.7 1682.6,1202.3 1683,1199.9 1683.4,1202.5 1683.8,1191.6 1685.4,1200.9 1685.8,1195.7 1686.6,1199.6 1687.4,1193.2 1688.6,1205.1 1689,1197.1 1689.4,1195.3 1690.6,1198.9 1691,1193 1692.2,1199.9 1693,1195.3 1693.8,1201 1694.7,1191.2 1695.1,1195.2 1695.5,1190.2 1696.7,1201.5 1697.5,1190.2 1697.9,1194.7 1698.7,1193.1 1699.5,1196.8 1700.3,1193.1 1701.1,1193.8 1702.7,1200.3 1703.1,1191.4 1703.5,1205.5 1704.3,1185.3 1705.1,1200.9 1705.9,1190.5 1706.3,1196.7 1706.7,1193.4 1707.5,1197.5 1707.9,1183.3 1708.7,1198.1 1710.3,1192.9 1711.1,1201.6 1711.5,1193.9 1712.7,1201.8 1713.9,1196.1 1714.3,1201.7 1714.7,1195.8 1715.5,1200.4 1715.9,1198.4 1716.3,1199.4 1716.7,1192.4 1717.1,1206 1717.6,1197.3 1718,1202.6 1718.8,1192.5 1719.2,1198.5 1719.6,1195.4 1720,1199.5 1720.4,1187.9 1721.6,1201.6 1722.4,1191.4 1722.8,1196.8 1723.6,1194.6 1724,1201.2 1724.4,1192.8 1725.6,1198.7 1726,1193.9 1726.4,1198.8 1726.8,1192.2 1727.2,1191.5 1728.4,1193.5 1728.8,1206.6 1729.2,1192.7 1730.8,1201.4 1732,1190.4 1732.8,1199.5 1733.2,1190.2 1733.6,1199.4 1734,1187.8 1734.8,1199.4 1735.6,1189.2 1736,1201.5 1736.4,1189.7 1736.8,1197 1737.2,1189.9 1738,1202.1 1739.2,1187.2 1740.4,1196.5 1740.9,1197.7 1741.3,1196.6 1741.7,1198.8 1742.1,1196.1 1742.5,1206.6 1743.7,1177.5 1744.5,1193.5 1744.9,1185.3 1746.1,1202.5 1746.5,1176.4 1747.3,1198.9 1748.1,1184.6 1749.3,1199.5 1750.5,1190.4 1751.3,1200.7 1751.7,1190.4 1752.1,1199.7 1752.5,1191.1 1752.9,1194.7 1753.7,1188.6 1754.9,1199.5 1756.9,1186.6 1757.3,1194.6 1758.1,1191.8 1759.3,1200 1759.7,1191.9 1760.1,1200.1 1760.5,1193.7 1760.9,1201.4 1761.3,1191.4 1761.7,1199.8 1762.1,1192.3 1762.5,1202.1 1763.3,1190.4 1765,1205 1765.8,1190.6 1766.2,1198.3 1766.6,1188.4 1767,1195.9 1767.8,1191.2 1768.2,1195.6 1768.6,1179 1769,1201.5 1769.4,1189.2 1770.2,1205.2 1771,1192 1771.4,1198 1772.2,1189.5 1773.4,1209 1773.8,1194.8 1774.2,1200 1775,1194.9 1775.4,1201.6 1775.8,1188.9 1777,1200.6 1777.4,1197.5 1778.2,1197.5 1778.6,1200.3 1779,1194.2 1779.4,1195 1779.8,1194.5 1780.2,1197.9 1780.6,1191 1781.4,1206.5 1782.6,1192.2 1783.8,1198.5 1784.2,1193.4 1785.4,1198.8 1785.8,1193.8 1786.6,1202.4 1787,1193.6 1787.5,1198.7 1788.7,1191.4 1790.3,1200.9 1790.7,1189.6 1791.1,1194.3 1791.5,1190.6 1792.3,1203.8 1792.7,1190.1 1793.1,1195.6 1793.9,1195.8 1794.7,1193.9 1795.1,1202.2 1795.5,1191.7 1796.3,1197.8 1796.7,1189.2 1797.9,1203.5 1798.7,1193.8 1799.5,1201.1 1799.9,1199.2 1800.3,1201.1 1801.5,1191.8 1801.9,1198.9 1802.7,1193.8 1803.1,1198 1803.9,1187.7 1804.3,1195.2 1804.7,1192.6 1805.1,1197.7 1805.5,1195.8 1805.9,1202.6 1807.1,1188 1808.7,1198.3 1809.5,1193.7 1809.9,1199 1810.3,1192.4 1811.2,1202.7 1811.6,1199.8 1812,1202.3 1812.4,1201.2 1812.8,1191.7 1813.2,1196.8 1814.4,1191.2 1814.8,1197.9 1815.2,1191 1816,1196 1816.4,1194.3 1816.8,1201.4 1818,1193.7 1818.4,1197.4 1819.6,1190.6 1820,1193.1 1820.4,1191.2 1820.8,1197.5 1821.6,1194.8 1822.4,1197.9 1822.8,1189.7 1823.6,1199.7 1824.4,1188.9 1824.8,1195.7 1825.2,1191.2 1825.6,1197.7 1826.4,1198.7 1827.2,1188.6 1827.6,1200.7 1828,1189.3 1828.4,1200.2 1829.2,1192.5 1830.4,1203 1830.8,1194.5 1831.2,1200.3 1831.6,1185.3 1832.8,1200.6 1833.2,1197.9 1833.6,1201.1 1834.1,1192.1 1834.5,1197 1834.9,1193.8 1835.7,1197.9 1836.1,1191.1 1836.9,1202.9 1837.3,1194.4 1837.7,1200.3 1838.5,1192.5 1838.9,1199.1 1839.3,1192.7 1839.7,1198.6 1840.1,1190.3 1841.7,1199.2 1842.5,1191.6 1842.9,1201.5 1843.3,1192.5 1844.5,1202.8 1844.9,1187.9 1846.1,1198.6 1846.5,1191.9 1846.9,1204.2 1847.7,1187.2 1848.1,1197.5 1848.9,1193.2 1849.3,1199.4 1850.1,1191.9 1851.3,1197.5 1852.5,1189.6 1853.7,1206.4 1854.1,1193 1855.3,1204.1 1856.1,1192.3 1856.5,1200.2 1857.8,1191.3 1859,1198.1 1859.4,1189.8 1860.6,1201.3 1861.4,1193.8 1861.8,1198.7 1862.2,1192.6 1862.6,1194.6 1863.4,1193.5 1863.8,1194.1 1864.2,1199.3 1865,1187 1865.4,1200.7 1866.2,1191.8 1867.4,1201.4 1868.6,1190.1 1869,1195.8 1869.4,1191.4 1869.8,1200.6 1870.2,1195.2 1870.6,1199.1 1871.8,1190.9 1872.2,1200.7 1872.6,1190 1873,1198.2 1873.4,1200.7 1873.8,1196.8 1874.2,1202.5 1874.6,1196 1875,1194.7 1875.4,1196.8 1875.8,1193.8 1877,1201.7 1877.4,1195.8 1877.8,1199.3 1879,1195.3 1879.8,1202 1880.7,1194.2 1881.9,1191 1883.1,1199.9 1884.3,1195 1885.5,1196.6 1885.9,1193.6 1886.3,1195.2 1887.1,1194.8 1887.9,1200.2 1888.3,1194 1889.5,1197.8 1889.9,1185.9 1890.3,1199.4 1891.1,1194.8 1891.5,1201.3 1892.3,1187.7 1893.9,1195.5 1894.3,1191.8 1895.1,1197.8 1895.9,1192.3 1896.3,1194.7"/>
<path fill="none" stroke="#9a9a9a" stroke-width="3" d="M256.5 973.3h16m-8-8v16M256.5 983.2h16m-8-8v16M256.5 979h16m-8-8v16M260.5 974.2h16m-8-8v16M260.5 961.5h16m-8-8v16M260.5 986.1h16m-8-8v16M260.5 977.2h16m-8-8v16M264.5 981h16m-8-8v16M268.5 1005.1h16m-8-8v16M268.5 979.4h16m-8-8v16M268.5 985.8h16m-8-8v16M268.5 991.1h16m-8-8v16M272.5 990h16m-8-8v16M272.5 973.5h16m-8-8v16M272.5 984h16m-8-8v16M272.5 982h16m-8-8v16M272.5 982.7h16m-8-8v16M276.5 983.5h16m-8-8v16M276.5 991.3h16m-8-8v16M276.5 985h16m-8-8v16M276.5 980.3h16m-8-8v16M280.5 972.7h16m-8-8v16M280.5 993.9h16m-8-8v16M280.5 985.4h16m-8-8v16M280.5 999.6h16m-8-8v16M284.5 990.2h16m-8-8v16M284.5 979.5h16m-8-8v16M284.5 996.6h16m-8-8v16M284.5 1008.6h16m-8-8v16M284.5 993.6h16m-8-8v16M284.5 990h16m-8-8v16M284.5 976.6h16m-8-8v16M288.5 991h16m-8-8v16M288.5 992h16m-8-8v16M292.5 968.4h16m-8-8v16M292.5 927.8h16m-8-8v16M292.5 831.6h16m-8-8v16M296.5 974.9h16m-8-8v16M296.5 967.7h16m-8-8v16M300.5 911h16m-8-8v16M300.5 943.5h16m-8-8v16M300.5 983.5h16m-8-8v16M300.5 981.7h16m-8-8v16M300.5 1004.3h16m-8-8v16M304.5 1007.4h16m-8-8v16M304.5 1006.7h16m-8-8v16M304.5 997.6h16m-8-8v16M304.5 999h16m-8-8v16M304.5 1005.9h16m-8-8v16M308.5 994.1h16m-8-8v16M308.5 995.9h16m-8-8v16M308.5 1002.3h16m-8-8v16M312.5 1007.4h16m-8-8v16M312.5 995.1h16m-8-8v16M312.5 1006.4h16m-8-8v16M316.5 1008.4h16m-8-8v16M316.5 1007.3h16m-8-8v16M316.5 1014.1h16m-8-8v16M316.5 1008h16m-8-8v16M320.5 1021.2h16m-8-8v16M320.5 1015.8h16m-8-8v16M324.5 1017.8h16m-8-8v16M324.5 1005h16m-8-8v16M324.5 1015.9h16m-8-8v16M324.5 1013h16m-8-8v16M328.5 1014h16m-8-8v16M328.5 1016.2h16m-8-8v16M332.5 1018h16m-8-8v16M336.5 1029.5h16m-8-8v16M336.5 1010.7h16m-8-8v16M340.5 1012.3h16m-8-8v16M340.5 1039.8h16m-8-8v16M344.5 1023.5h16m-8-8v16M344.5 1021.1h16m-8-8v16M344.5 1029.4h16m-8-8v16M344.5 1037.2h16m-8-8v16M348.5 1019.3h16m-8-8v16M348.5 1029.3h16m-8-8v16M348.5 1022.1h16m-8-8v16M348.5 1031.1h16m-8-8v16M352.5 1025.5h16m-8-8v16M352.5 1038.5h16m-8-8v16M352.5 1026.9h16m-8-8v16M352.5 1025.6h16m-8-8v16M356.5 1029.1h16m-8-8v16M356.5 1033.4h16m-8-8v16M356.5 1044.9h16m-8-8v16M360.5 1029.7h16m-8-8v16M360.5 1022.5h16m-8-8v16M364.5 1036.5h16m-8-8v16M364.5 1018.9h16m-8-8v16M368.5 1035.9h16m-8-8v16M368.5 1042.5h16m-8-8v16M368.5 1035h16m-8-8v16M372.5 1020.8h16m-8-8v16M372.5 1050.5h16m-8-8v16M372.5 1021.2h16m-8-8v16M376.5 1041.9h16m-8-8v16M380.5 1023.4h16m-8-8v16M380.5 1033h16m-8-8v16M380.5 1041.7h16m-8-8v16M380.5 1040.5h16m-8-8v16M384.5 1031.9h16m-8-8v16M384.5 1046.3h16m-8-8v16M384.5 1027h16m-8-8v16M384.5 1042.9h16m-8-8v16M388.5 1045.5h16m-8-8v16M388.5 1043.5h16m-8-8v16M388.5 1050.5h16m-8-8v16M392.5 1031.4h16m-8-8v16M396.5 1048.5h16m-8-8v16M396.5 1051.7h16m-8-8v16M396.5 1048.8h16m-8-8v16M396.5 1042.3h16m-8-8v16M400.5 1043.9h16m-8-8v16M400.5 1041.7h16m-8-8v16M400.5 1030.4h16m-8-8v16M404.5 1043.4h16m-8-8v16M404.5 1058.7h16m-8-8v16M404.5 1039.9h16m-8-8v16M404.5 1041.3h16m-8-8v16M404.5 1048.5h16m-8-8v16M404.5 1050.6h16m-8-8v16M408.5 1042.4h16m-8-8v16M408.5 1048.6h16m-8-8v16M408.5 1057.7h16m-8-8v16M408.5 1047.1h16m-8-8v16M412.5 1038.6h16m-8-8v16M412.5 1038.7h16m-8-8v16M412.5 1039.5h16m-8-8v16M412.5 1021.3h16m-8-8v16M416.5 992.8h16m-8-8v16M416.5 1036h16m-8-8v16M424.5 1041.4h16m-8-8v16M424.5 1047.2h16m-8-8v16M428.5 1053h16m-8-8v16M428.5 1056.7h16m-8-8v16M432.5 1062.4h16m-8-8v16M436.5 1046.3h16m-8-8v16M436.5 1060.5h16m-8-8v16M440.5 1074.2h16m-8-8v16M440.5 1055.4h16m-8-8v16M444.5 1052.3h16m-8-8v16M444.5 1058.8h16m-8-8v16M444.5 1068.3h16m-8-8v16M444.5 1067.8h16m-8-8v16M448.5 1068.3h16m-8-8v16M448.5 1059h16m-8-8v16M448.5 1070.2h16m-8-8v16M452.5 1048.2h16m-8-8v16M452.5 1071.5h16m-8-8v16M452.5 1075.5h16m-8-8v16M456.5 1055.3h16m-8-8v16M456.5 1039h16m-8-8v16M456.5 1073.4h16m-8-8v16M456.5 1063.7h16m-8-8v16M456.5 1072h16m-8-8v16M460.5 1073h16m-8-8v16M460.5 1069.6h16m-8-8v16M460.5 1067h16m-8-8v16M464.5 1074h16m-8-8v16M468.5 1064.1h16m-8-8v16M468.5 1073.8h16m-8-8v16M472.5 1071.2h16m-8-8v16M476.5 1072.9h16m-8-8v16M476.5 1059.8h16m-8-8v16M480.5 1058.4h16m-8-8v16M480.5 1075.1h16m-8-8v16M480.5 1061.4h16m-8-8v16M480.5 1074.6h16m-8-8v16M480.5 1070.7h16m-8-8v16M484.5 1070.7h16m-8-8v16M484.5 1045.5h16m-8-8v16M484.5 1047.9h16m-8-8v16M488.5 1083.8h16m-8-8v16M488.5 1062.2h16m-8-8v16M488.5 1063.5h16m-8-8v16M492.5 1076.5h16m-8-8v16M492.5 1077.4h16m-8-8v16M496.5 1071.6h16m-8-8v16M496.5 1069.3h16m-8-8v16M496.5 1075h16m-8-8v16M496.5 1073.7h16m-8-8v16M496.5 1078.6h16m-8-8v16M500.5 1083.1h16m-8-8v16M500.5 1072.4h16m-8-8v16M500.5 1076.4h16m-8-8v16M500.5 1083.8h16m-8-8v16M504.5 1079.5h16m-8-8v16M504.5 1074h16m-8-8v16M504.5 1100.1h16m-8-8v16M504.5 1080.7h16m-8-8v16M504.5 1075.9h16m-8-8v16M504.5 1078h16m-8-8v16M504.5 1078.2h16m-8-8v16M508.5 1074.8h16m-8-8v16M508.5 1084.6h16m-8-8v16M508.5 1082.3h16m-8-8v16M508.5 1081.6h16m-8-8v16M508.5 1079.9h16m-8-8v16M512.5 1088.8h16m-8-8v16M512.5 1083.2h16m-8-8v16M512.5 1089.1h16m-8-8v16M512.5 1080h16m-8-8v16M516.5 1085.1h16m-8-8v16M520.5 1082.3h16m-8-8v16M520.5 1088.9h16m-8-8v16M520.5 1083.7h16m-8-8v16M520.5 1077.8h16m-8-8v16M524.5 1070.5h16m-8-8v16M524.5 1083.6h16m-8-8v16M524.5 1086.3h16m-8-8v16M528.5 1091.6h16m-8-8v16M528.5 1087.3h16m-8-8v16M532.5 1089.4h16m-8-8v16M532.5 1094.3h16m-8-8v16M532.5 1099h16m-8-8v16M536.5 1069.8h16m-8-8v16M536.5 1081.1h16m-8-8v16M536.5 1073.6h16m-8-8v16M536.5 1091h16m-8-8v16M540.5 1085h16m-8-8v16M540.5 1083.9h16m-8-8v16M540.5 1092.3h16m-8-8v16M544.5 1092h16m-8-8v16M548.5 1081.2h16m-8-8v16M548.5 1075.8h16m-8-8v16M548.5 1095.4h16m-8-8v16M548.5 1091.1h16m-8-8v16M552.5 1080.4h16m-8-8v16M552.5 1080.8h16m-8-8v16M552.5 1088.6h16m-8-8v16M556.5 1044.6h16m-8-8v16M556.5 1010.7h16m-8-8v16M556.5 1014.5h16m-8-8v16M556.5 1014.3h16m-8-8v16M560.5 1022.8h16m-8-8v16M560.5 1034.4h16m-8-8v16M560.5 1049.3h16m-8-8v16M560.5 1060.3h16m-8-8v16M564.5 1062.1h16m-8-8v16M564.5 1077.4h16m-8-8v16M564.5 1075.3h16m-8-8v16M564.5 1074.4h16m-8-8v16M564.5 1093.2h16m-8-8v16M564.5 1095h16m-8-8v16M568.5 1096.8h16m-8-8v16M568.5 1104.7h16m-8-8v16M572.5 1098.7h16m-8-8v16M572.5 1098.9h16m-8-8v16M576.5 1102.5h16m-8-8v16M576.5 1107.3h16m-8-8v16M580.5 1090.1h16m-8-8v16M580.5 1091.2h16m-8-8v16M580.5 1086.6h16m-8-8v16M580.5 1078.8h16m-8-8v16M580.5 1081.8h16m-8-8v16M580.5 1086.3h16m-8-8v16M584.5 1074.1h16m-8-8v16M584.5 1069.8h16m-8-8v16M588.5 852.8h16m-8-8v16M588.5 759.5h16m-8-8v16M588.5 623.6h16m-8-8v16M588.5 800.1h16m-8-8v16M588.5 715.3h16m-8-8v16M592.5 919.8h16m-8-8v16M592.5 1058.4h16m-8-8v16M596.5 1070.6h16m-8-8v16M596.5 1079.5h16m-8-8v16M600.5 1080.1h16m-8-8v16M600.5 1059.9h16m-8-8v16M600.5 1089.7h16m-8-8v16M604.5 1090.4h16m-8-8v16M604.5 1091.8h16m-8-8v16M604.5 1112.3h16m-8-8v16M608.5 1092.8h16m-8-8v16M608.5 1091.2h16m-8-8v16M612.5 1101.6h16m-8-8v16M612.5 1104.8h16m-8-8v16M616.5 1105.9h16m-8-8v16M616.5 1100.1h16m-8-8v16M616.5 1111.5h16m-8-8v16M620.5 1106.4h16m-8-8v16M620.5 1104.3h16m-8-8v16M620.5 1095.1h16m-8-8v16M620.5 1113.8h16m-8-8v16M620.5 1105.6h16m-8-8v16M624.5 1104.2h16m-8-8v16M624.5 1103.7h16m-8-8v16M624.5 1100.7h16m-8-8v16M624.5 1105.3h16m-8-8v16M628.5 1098.7h16m-8-8v16M628.5 1097.4h16m-8-8v16M628.5 1097.2h16m-8-8v16M632.5 1112.3h16m-8-8v16M632.5 1104.4h16m-8-8v16M636.5 1094h16m-8-8v16M636.5 1074.5h16m-8-8v16M640.5 808.9h16m-8-8v16M640.5 820.4h16m-8-8v16M640.5 1040.5h16m-8-8v16M644.5 790h16m-8-8v16M648.5 1064.5h16m-8-8v16M652.5 1103.7h16m-8-8v16M652.5 1098.9h16m-8-8v16M652.5 1107h16m-8-8v16M652.5 1099.7h16m-8-8v16M652.5 1100.1h16m-8-8v16M656.5 1101.2h16m-8-8v16M656.5 1041h16m-8-8v16M660.5 1083.1h16m-8-8v16M660.5 1095.3h16m-8-8v16M664.5 1112h16m-8-8v16M664.5 1121.9h16m-8-8v16M664.5 1115.6h16m-8-8v16M668.5 1101h16m-8-8v16M668.5 1108.3h16m-8-8v16M672.5 1059.7h16m-8-8v16M676.5 1060.7h16m-8-8v16M676.5 1083.3h16m-8-8v16M676.5 1078.7h16m-8-8v16M676.5 1095.4h16m-8-8v16M676.5 1074.4h16m-8-8v16M680.5 1033.1h16m-8-8v16M680.5 761.4h16m-8-8v16M684.5 1066.7h16m-8-8v16M684.5 1079.6h16m-8-8v16M684.5 1065.8h16m-8-8v16M684.5 1057.7h16m-8-8v16M684.5 913.5h16m-8-8v16M688.5 1093.2h16m-8-8v16M688.5 1093.4h16m-8-8v16M688.5 1119.3h16m-8-8v16M692.5 1102.9h16m-8-8v16M692.5 1089.7h16m-8-8v16M692.5 1063.6h16m-8-8v16M692.5 1057.6h16m-8-8v16M696.5 700.2h16m-8-8v16M696.5 714h16m-8-8v16M696.5 872.2h16m-8-8v16M696.5 969.2h16m-8-8v16M696.5 1048.8h16m-8-8v16M696.5 1059h16m-8-8v16M700.5 1015.6h16m-8-8v16M700.5 1070.4h16m-8-8v16M700.5 1098.5h16m-8-8v16M704.5 1115.7h16m-8-8v16M704.5 1110.8h16m-8-8v16M708.5 1109h16m-8-8v16M708.5 1101.7h16m-8-8v16M708.5 1106.2h16m-8-8v16M708.5 1096h16m-8-8v16M712.5 1105.3h16m-8-8v16M712.5 1100.2h16m-8-8v16M712.5 1099.6h16m-8-8v16M712.5 1106.8h16m-8-8v16M716.5 1105.5h16m-8-8v16M716.5 1115h16m-8-8v16M716.5 1121.8h16m-8-8v16M720.5 1116.9h16m-8-8v16M724.5 1114.2h16m-8-8v16M724.5 1099.8h16m-8-8v16M728.5 1074.8h16m-8-8v16M728.5 1040.1h16m-8-8v16M732.5 903.3h16m-8-8v16M732.5 695.2h16m-8-8v16M732.5 778.5h16m-8-8v16M732.5 951.3h16m-8-8v16M736.5 1052.2h16m-8-8v16M736.5 1075.3h16m-8-8v16M736.5 1104.5h16m-8-8v16M740.5 1116.9h16m-8-8v16M740.5 1124.9h16m-8-8v16M740.5 1119.3h16m-8-8v16M744.5 1092.6h16m-8-8v16M744.5 1059.8h16m-8-8v16M744.5 1013.4h16m-8-8v16M744.5 1058.4h16m-8-8v16M744.5 1067.9h16m-8-8v16M748.5 1082.7h16m-8-8v16M748.5 1070.8h16m-8-8v16M748.5 1057.1h16m-8-8v16M748.5 1068.3h16m-8-8v16M752.5 1082.8h16m-8-8v16M752.5 1084.6h16m-8-8v16M752.5 988.3h16m-8-8v16M760.5 456.7h16m-8-8v16M764.5 584.2h16m-8-8v16M764.5 934.6h16m-8-8v16M764.5 1041.2h16m-8-8v16M768.5 1071.8h16m-8-8v16M768.5 1106.1h16m-8-8v16M768.5 1114.6h16m-8-8v16M772.5 1120.7h16m-8-8v16M772.5 1104h16m-8-8v16M772.5 1093.4h16m-8-8v16M772.5 1075.8h16m-8-8v16M776.5 1058.1h16m-8-8v16M776.5 1064.4h16m-8-8v16M776.5 1102.5h16m-8-8v16M776.5 1120.3h16m-8-8v16M780.5 1127h16m-8-8v16M780.5 1124.3h16m-8-8v16M784.5 1127h16m-8-8v16M784.5 1122.4h16m-8-8v16M784.5 1120.8h16m-8-8v16M784.5 1142h16m-8-8v16M784.5 1125.9h16m-8-8v16M788.5 1118.2h16m-8-8v16M788.5 1124.8h16m-8-8v16M788.5 1112.4h16m-8-8v16M788.5 1107.5h16m-8-8v16M792.5 1092.8h16m-8-8v16M792.5 1097.4h16m-8-8v16M792.5 1118.2h16m-8-8v16M792.5 1114.8h16m-8-8v16M796.5 1130h16m-8-8v16M796.5 1134.2h16m-8-8v16M796.5 1127.3h16m-8-8v16M796.5 1132.3h16m-8-8v16M796.5 1139.8h16m-8-8v16M800.5 1128.7h16m-8-8v16M800.5 1138.3h16m-8-8v16M804.5 1136.5h16m-8-8v16M808.5 1115.5h16m-8-8v16M808.5 1125h16m-8-8v16M808.5 1110.2h16m-8-8v16M808.5 1099.6h16m-8-8v16M808.5 1110.6h16m-8-8v16M812.5 1136.8h16m-8-8v16M816.5 1122.9h16m-8-8v16M820.5 1131.8h16m-8-8v16M820.5 1132.8h16m-8-8v16M820.5 1141.2h16m-8-8v16M820.5 1132.5h16m-8-8v16M824.5 1124.7h16m-8-8v16M824.5 1125.1h16m-8-8v16M824.5 1138.3h16m-8-8v16M828.5 1134.6h16m-8-8v16M828.5 1128.8h16m-8-8v16M828.5 1135.5h16m-8-8v16M828.5 1135.1h16m-8-8v16M828.5 1118.5h16m-8-8v16M828.5 1117.5h16m-8-8v16M832.5 1097.4h16m-8-8v16M832.5 1088h16m-8-8v16M832.5 1007.7h16m-8-8v16M832.5 1064.9h16m-8-8v16M832.5 1068.3h16m-8-8v16M836.5 1078.1h16m-8-8v16M836.5 1111.6h16m-8-8v16M836.5 1109.8h16m-8-8v16M836.5 1110.7h16m-8-8v16M840.5 1120.8h16m-8-8v16M840.5 1138.2h16m-8-8v16M840.5 1122h16m-8-8v16M840.5 1134.2h16m-8-8v16M840.5 1146.1h16m-8-8v16M844.5 1132.3h16m-8-8v16M844.5 1116.1h16m-8-8v16M844.5 1113.5h16m-8-8v16M844.5 1099.6h16m-8-8v16M848.5 1131.4h16m-8-8v16M848.5 1117.3h16m-8-8v16M852.5 1130.4h16m-8-8v16M852.5 1137.2h16m-8-8v16M852.5 1132.8h16m-8-8v16M856.5 1134.9h16m-8-8v16M856.5 1137.3h16m-8-8v16M856.5 1131.1h16m-8-8v16M860.5 1126.4h16m-8-8v16M860.5 1132.5h16m-8-8v16M860.5 1120.7h16m-8-8v16M864.5 1137.4h16m-8-8v16M868.5 1129.7h16m-8-8v16M868.5 1112.3h16m-8-8v16M868.5 1117.1h16m-8-8v16M868.5 1127.5h16m-8-8v16M872.5 1125.3h16m-8-8v16M872.5 1116.9h16m-8-8v16M872.5 1127.3h16m-8-8v16M880.5 1131.7h16m-8-8v16M880.5 1129.1h16m-8-8v16M884.5 1092.5h16m-8-8v16M884.5 1016h16m-8-8v16M888.5 988.7h16m-8-8v16M888.5 942.8h16m-8-8v16M888.5 1021.1h16m-8-8v16M888.5 1029.1h16m-8-8v16M892.5 1124.7h16m-8-8v16M896.5 1115.7h16m-8-8v16M896.5 1109.1h16m-8-8v16M896.5 1111.6h16m-8-8v16M900.5 1128.6h16m-8-8v16M900.5 1125.2h16m-8-8v16M900.5 1129.5h16m-8-8v16M904.5 1139.4h16m-8-8v16M904.5 1138.6h16m-8-8v16M904.5 1130.1h16m-8-8v16M908.5 1141.3h16m-8-8v16M908.5 1139.1h16m-8-8v16M908.5 1133.1h16m-8-8v16M908.5 1130.9h16m-8-8v16M912.5 1120.9h16m-8-8v16M912.5 1059.1h16m-8-8v16M916.5 948.8h16m-8-8v16M916.5 974.5h16m-8-8v16M916.5 994.9h16m-8-8v16M916.5 1024.7h16m-8-8v16M916.5 1053.2h16m-8-8v16M920.5 1121.6h16m-8-8v16M920.5 1128.5h16m-8-8v16M924.5 1138.5h16m-8-8v16M924.5 1135.4h16m-8-8v16M924.5 1144.3h16m-8-8v16M928.5 1136.5h16m-8-8v16M928.5 1141.3h16m-8-8v16M932.5 1146.3h16m-8-8v16M936.5 1137.2h16m-8-8v16M936.5 1137.8h16m-8-8v16M936.5 1135.5h16m-8-8v16M936.5 1127.8h16m-8-8v16M940.5 1138.9h16m-8-8v16M940.5 1140.7h16m-8-8v16M940.5 1134.5h16m-8-8v16M940.5 1148.3h16m-8-8v16M940.5 1134.2h16m-8-8v16M944.5 1134.3h16m-8-8v16M944.5 1139h16m-8-8v16M948.5 1141.4h16m-8-8v16M948.5 1136h16m-8-8v16M952.5 1135.1h16m-8-8v16M952.5 1148.9h16m-8-8v16M952.5 1140.4h16m-8-8v16M956.5 1141.3h16m-8-8v16M956.5 1140.8h16m-8-8v16M956.5 1138.9h16m-8-8v16M960.5 1117.3h16m-8-8v16M960.5 1138.4h16m-8-8v16M964.5 1120.7h16m-8-8v16M964.5 1132.5h16m-8-8v16M964.5 1135.7h16m-8-8v16M964.5 1118.8h16m-8-8v16M964.5 1126.7h16m-8-8v16M964.5 1092.2h16m-8-8v16M968.5 1075h16m-8-8v16M968.5 1028.9h16m-8-8v16M968.5 999h16m-8-8v16M968.5 1013.5h16m-8-8v16M968.5 1041.9h16m-8-8v16M972.5 1072.5h16m-8-8v16M972.5 1033.6h16m-8-8v16M976.5 1108.6h16m-8-8v16M976.5 1130.4h16m-8-8v16M976.5 1129.9h16m-8-8v16M980.5 1134.4h16m-8-8v16M984.5 1039h16m-8-8v16M984.5 987.4h16m-8-8v16M984.5 1001.6h16m-8-8v16M984.5 999h16m-8-8v16M988.5 907.6h16m-8-8v16M992.5 992.4h16m-8-8v16M992.5 1049h16m-8-8v16M992.5 1067.3h16m-8-8v16M992.5 1110.8h16m-8-8v16M996.5 1143.1h16m-8-8v16M996.5 1142.9h16m-8-8v16M996.5 1135.5h16m-8-8v16M996.5 1134h16m-8-8v16M996.5 1131.6h16m-8-8v16M996.5 1141.4h16m-8-8v16M1004.5 1139.4h16m-8-8v16M1004.5 1144.3h16m-8-8v16M1004.5 1143h16m-8-8v16M1008.5 1142h16m-8-8v16M1008.5 1137.6h16m-8-8v16M1012.5 1133.4h16m-8-8v16M1012.5 1146.4h16m-8-8v16M1012.5 1132.6h16m-8-8v16M1016.5 1134.6h16m-8-8v16M1016.5 1146.8h16m-8-8v16M1016.5 1136.8h16m-8-8v16M1016.5 1135.2h16m-8-8v16M1016.5 1138.6h16m-8-8v16M1016.5 1143.9h16m-8-8v16M1024.5 1143.3h16m-8-8v16M1024.5 1145.9h16m-8-8v16M1024.5 1146h16m-8-8v16M1024.5 1132.9h16m-8-8v16M1028.5 1142.7h16m-8-8v16M1028.5 1134.1h16m-8-8v16M1028.5 1128.6h16m-8-8v16M1028.5 1135.8h16m-8-8v16M1028.5 1114h16m-8-8v16M1032.5 1119.7h16m-8-8v16M1032.5 1125h16m-8-8v16M1032.5 1131.5h16m-8-8v16M1036.5 1140.9h16m-8-8v16M1036.5 1129.7h16m-8-8v16M1036.5 1147.5h16m-8-8v16M1040.5 1131.5h16m-8-8v16M1040.5 1050.1h16m-8-8v16M1040.5 985.5h16m-8-8v16M1040.5 905.2h16m-8-8v16M1044.5 910.4h16m-8-8v16M1044.5 923.8h16m-8-8v16M1044.5 917.9h16m-8-8v16M1044.5 926.6h16m-8-8v16M1048.5 1109.9h16m-8-8v16M1048.5 1117.1h16m-8-8v16M1048.5 1115.2h16m-8-8v16M1048.5 1097.9h16m-8-8v16M1052.5 1108.4h16m-8-8v16M1052.5 1129.7h16m-8-8v16M1052.5 1130.5h16m-8-8v16M1052.5 1135h16m-8-8v16M1052.5 1130.3h16m-8-8v16M1056.5 1149.4h16m-8-8v16M1060.5 1150.9h16m-8-8v16M1060.5 1141.4h16m-8-8v16M1064.5 1149.3h16m-8-8v16M1064.5 1153.4h16m-8-8v16M1064.5 1145.8h16m-8-8v16M1064.5 1144.2h16m-8-8v16M1064.5 1150.7h16m-8-8v16M1068.5 1152.8h16m-8-8v16M1068.5 1133.5h16m-8-8v16M1072.5 1143.3h16m-8-8v16M1072.5 1129.9h16m-8-8v16M1072.5 1143.9h16m-8-8v16M1072.5 1142.5h16m-8-8v16M1072.5 1152.4h16m-8-8v16M1076.5 1145.8h16m-8-8v16M1076.5 1144.1h16m-8-8v16M1076.5 1149h16m-8-8v16M1076.5 1151h16m-8-8v16M1080.5 1148.8h16m-8-8v16M1080.5 1138.7h16m-8-8v16M1080.5 1144.3h16m-8-8v16M1080.5 1144.6h16m-8-8v16M1084.5 1151.5h16m-8-8v16M1084.5 1148.2h16m-8-8v16M1084.5 1148.6h16m-8-8v16M1088.5 1152.4h16m-8-8v16M1088.5 1154.7h16m-8-8v16M1088.5 1145.5h16m-8-8v16M1088.5 1145.4h16m-8-8v16M1088.5 1148h16m-8-8v16M1092.5 1129.5h16m-8-8v16M1092.5 1114h16m-8-8v16M1096.5 1140.3h16m-8-8v16M1096.5 1133.1h16m-8-8v16M1096.5 1148.3h16m-8-8v16M1096.5 1147.3h16m-8-8v16M1100.5 1140h16m-8-8v16M1100.5 1149.2h16m-8-8v16M1104.5 1142.3h16m-8-8v16M1104.5 1148.2h16m-8-8v16M1104.5 1145.3h16m-8-8v16M1108.5 1143.9h16m-8-8v16M1108.5 1149.2h16m-8-8v16M1108.5 1141.3h16m-8-8v16M1108.5 1142.1h16m-8-8v16M1112.5 1147.1h16m-8-8v16M1112.5 1128.5h16m-8-8v16M1112.5 1129.3h16m-8-8v16M1112.5 1132.8h16m-8-8v16M1116.5 1133.9h16m-8-8v16M1116.5 1152h16m-8-8v16M1120.5 1150.1h16m-8-8v16M1120.5 1145.9h16m-8-8v16M1120.5 1145.3h16m-8-8v16M1120.5 1145.5h16m-8-8v16M1124.5 1148.4h16m-8-8v16M1124.5 1151.3h16m-8-8v16M1128.5 1122.8h16m-8-8v16M1128.5 1116.5h16m-8-8v16M1132.5 1123.8h16m-8-8v16M1136.5 1147.5h16m-8-8v16M1136.5 1150.2h16m-8-8v16M1136.5 1150h16m-8-8v16M1140.5 1152.3h16m-8-8v16M1140.5 1154.2h16m-8-8v16M1140.5 1146.9h16m-8-8v16M1144.5 1147.4h16m-8-8v16M1148.5 1157.6h16m-8-8v16M1148.5 1139.8h16m-8-8v16M1152.5 1115.4h16m-8-8v16M1156.5 1094.7h16m-8-8v16M1156.5 1116.2h16m-8-8v16M1156.5 1118h16m-8-8v16M1156.5 1119.6h16m-8-8v16M1156.5 1143.4h16m-8-8v16M1160.5 1141.3h16m-8-8v16M1164.5 1157.7h16m-8-8v16M1168.5 1147.5h16m-8-8v16M1168.5 1149.3h16m-8-8v16M1168.5 1150.3h16m-8-8v16M1172.5 1152.1h16m-8-8v16M1172.5 1153.6h16m-8-8v16M1180.5 1131.7h16m-8-8v16M1180.5 1131.6h16m-8-8v16M1180.5 1138.5h16m-8-8v16M1180.5 1140.2h16m-8-8v16M1180.5 1139.4h16m-8-8v16M1188.5 1143.9h16m-8-8v16M1188.5 1150.5h16m-8-8v16M1188.5 1152.1h16m-8-8v16M1188.5 1153.5h16m-8-8v16M1188.5 1143.4h16m-8-8v16M1192.5 1143.5h16m-8-8v16M1192.5 1144.4h16m-8-8v16M1192.5 1131.6h16m-8-8v16M1196.5 1067.7h16m-8-8v16M1196.5 1076h16m-8-8v16M1196.5 1083.4h16m-8-8v16M1200.5 1141.6h16m-8-8v16M1200.5 1146h16m-8-8v16M1204.5 1144.5h16m-8-8v16M1204.5 1145.9h16m-8-8v16M1204.5 1152.8h16m-8-8v16M1204.5 1152.4h16m-8-8v16M1204.5 1145.2h16m-8-8v16M1208.5 1135.5h16m-8-8v16M1208.5 1124.2h16m-8-8v16M1208.5 1125.4h16m-8-8v16M1212.5 1126.9h16m-8-8v16M1212.5 1130.5h16m-8-8v16M1212.5 1138.8h16m-8-8v16M1212.5 1143.3h16m-8-8v16M1216.5 1143.9h16m-8-8v16M1216.5 1145.7h16m-8-8v16M1220.5 1121.2h16m-8-8v16M1220.5 1127.1h16m-8-8v16M1220.5 1116.2h16m-8-8v16M1220.5 1094.1h16m-8-8v16M1224.5 1134.6h16m-8-8v16M1224.5 1142.4h16m-8-8v16M1224.5 1147.5h16m-8-8v16M1224.5 1147.8h16m-8-8v16M1228.5 1154h16m-8-8v16M1228.5 1154.8h16m-8-8v16M1236.5 1143h16m-8-8v16M1236.5 1123.4h16m-8-8v16M1236.5 1121.5h16m-8-8v16M1240.5 1103.6h16m-8-8v16M1240.5 1111.5h16m-8-8v16M1240.5 1119.7h16m-8-8v16M1240.5 1127.3h16m-8-8v16M1240.5 1133.2h16m-8-8v16M1240.5 1146.7h16m-8-8v16M1240.5 1140.5h16m-8-8v16M1244.5 1140.6h16m-8-8v16M1244.5 1155.8h16m-8-8v16M1244.5 1146h16m-8-8v16M1244.5 1147.1h16m-8-8v16M1248.5 1148.5h16m-8-8v16M1248.5 1159.1h16m-8-8v16M1252.5 1141.9h16m-8-8v16M1252.5 1119.1h16m-8-8v16M1256.5 1049.1h16m-8-8v16M1256.5 1041h16m-8-8v16M1256.5 1064.4h16m-8-8v16M1260.5 1121.8h16m-8-8v16M1260.5 1095.7h16m-8-8v16M1260.5 1099.8h16m-8-8v16M1260.5 1092.9h16m-8-8v16M1264.5 1159.3h16m-8-8v16M1264.5 1152.2h16m-8-8v16M1264.5 1161.2h16m-8-8v16M1268.5 1144.3h16m-8-8v16M1268.5 1160.7h16m-8-8v16M1268.5 1150.4h16m-8-8v16M1268.5 1147.2h16m-8-8v16M1268.5 1154.5h16m-8-8v16M1272.5 1139h16m-8-8v16M1272.5 1147.6h16m-8-8v16M1276.5 1132.2h16m-8-8v16M1276.5 1120.5h16m-8-8v16M1276.5 1130.5h16m-8-8v16M1276.5 1141.3h16m-8-8v16M1276.5 1137.1h16m-8-8v16M1280.5 1139.7h16m-8-8v16M1280.5 1141.1h16m-8-8v16M1280.5 1135.7h16m-8-8v16M1280.5 1136.6h16m-8-8v16M1284.5 1109.5h16m-8-8v16M1284.5 1123.4h16m-8-8v16M1288.5 1143.8h16m-8-8v16M1288.5 1148.6h16m-8-8v16M1288.5 1151.5h16m-8-8v16M1288.5 1142.1h16m-8-8v16M1292.5 1147h16m-8-8v16M1292.5 1154.6h16m-8-8v16M1292.5 1153.8h16m-8-8v16M1292.5 1165.6h16m-8-8v16M1292.5 1146.1h16m-8-8v16M1292.5 1145.7h16m-8-8v16M1296.5 1139h16m-8-8v16M1296.5 1134.3h16m-8-8v16M1296.5 1136.2h16m-8-8v16M1300.5 1141.5h16m-8-8v16M1300.5 1147.2h16m-8-8v16M1300.5 1147.5h16m-8-8v16M1304.5 1157.6h16m-8-8v16M1304.5 1147.1h16m-8-8v16M1304.5 1149.1h16m-8-8v16M1308.5 1122.1h16m-8-8v16M1308.5 1095h16m-8-8v16M1312.5 1043.9h16m-8-8v16M1312.5 1047.1h16m-8-8v16M1312.5 1118.4h16m-8-8v16M1316.5 1079.4h16m-8-8v16M1316.5 1110.8h16m-8-8v16M1316.5 1122.3h16m-8-8v16M1320.5 1155.8h16m-8-8v16M1320.5 1145.8h16m-8-8v16M1320.5 1146h16m-8-8v16M1320.5 1152.2h16m-8-8v16M1320.5 1156.7h16m-8-8v16M1320.5 1146.9h16m-8-8v16M1328.5 1154.7h16m-8-8v16M1328.5 1151.6h16m-8-8v16M1328.5 1158.9h16m-8-8v16M1332.5 1149.5h16m-8-8v16M1332.5 1149.1h16m-8-8v16M1332.5 1153.2h16m-8-8v16M1332.5 1152.4h16m-8-8v16M1336.5 1151.8h16m-8-8v16M1336.5 1149.1h16m-8-8v16M1340.5 1084.4h16m-8-8v16M1344.5 1006.9h16m-8-8v16M1344.5 1019.6h16m-8-8v16M1348.5 1026.8h16m-8-8v16M1348.5 1076.9h16m-8-8v16M1348.5 1099.5h16m-8-8v16M1348.5 1121.4h16m-8-8v16M1352.5 1134.9h16m-8-8v16M1352.5 1141.9h16m-8-8v16M1356.5 1147.5h16m-8-8v16M1356.5 1152.1h16m-8-8v16M1356.5 1145.1h16m-8-8v16M1356.5 1153.8h16m-8-8v16M1356.5 1155.2h16m-8-8v16M1360.5 1156.1h16m-8-8v16M1360.5 1154.5h16m-8-8v16M1360.5 1151h16m-8-8v16M1364.5 1156.4h16m-8-8v16M1364.5 1156h16m-8-8v16M1368.5 1129.8h16m-8-8v16M1368.5 977.5h16m-8-8v16M1368.5 1019.1h16m-8-8v16M1376.5 1047.8h16m-8-8v16M1376.5 1144.6h16m-8-8v16M1376.5 1142.9h16m-8-8v16M1380.5 1149.1h16m-8-8v16M1380.5 1157.6h16m-8-8v16M1380.5 1147.6h16m-8-8v16M1380.5 1150.3h16m-8-8v16M1380.5 1150.6h16m-8-8v16M1384.5 1155.7h16m-8-8v16M1384.5 1152.5h16m-8-8v16M1384.5 1149.5h16m-8-8v16M1388.5 1157.1h16m-8-8v16M1388.5 1157.2h16m-8-8v16M1388.5 1160.6h16m-8-8v16M1388.5 1144.3h16m-8-8v16M1392.5 1147.3h16m-8-8v16M1396.5 1143.9h16m-8-8v16M1396.5 1160.4h16m-8-8v16M1400.5 1147.4h16m-8-8v16M1400.5 1153.4h16m-8-8v16M1400.5 1157.6h16m-8-8v16M1400.5 1152.5h16m-8-8v16M1404.5 1155h16m-8-8v16M1404.5 1157.4h16m-8-8v16M1408.5 1151.7h16m-8-8v16M1408.5 1157.9h16m-8-8v16M1412.5 1148h16m-8-8v16M1416.5 1153.5h16m-8-8v16M1416.5 1159.2h16m-8-8v16M1416.5 1153.1h16m-8-8v16M1416.5 1163.9h16m-8-8v16M1416.5 1159.4h16m-8-8v16M1416.5 1150.2h16m-8-8v16M1416.5 1168.6h16m-8-8v16M1420.5 1160h16m-8-8v16M1420.5 1145.8h16m-8-8v16M1420.5 1167.9h16m-8-8v16M1424.5 1153h16m-8-8v16M1424.5 1144.5h16m-8-8v16M1424.5 1150.6h16m-8-8v16M1428.5 1080.2h16m-8-8v16M1428.5 1093.1h16m-8-8v16M1428.5 1107.4h16m-8-8v16M1428.5 1104.1h16m-8-8v16M1432.5 1122.2h16m-8-8v16M1436.5 1158.3h16m-8-8v16M1436.5 1148.4h16m-8-8v16M1436.5 1152.8h16m-8-8v16M1440.5 1118.9h16m-8-8v16M1444.5 1103.8h16m-8-8v16M1448.5 1063.7h16m-8-8v16M1448.5 1062h16m-8-8v16M1448.5 1076.1h16m-8-8v16M1452.5 1099.1h16m-8-8v16M1452.5 1129.1h16m-8-8v16M1452.5 1150.9h16m-8-8v16M1456.5 1155.7h16m-8-8v16M1460.5 1158.1h16m-8-8v16M1460.5 1160h16m-8-8v16M1460.5 1155.7h16m-8-8v16M1464.5 1162.6h16m-8-8v16M1464.5 1160.1h16m-8-8v16M1468.5 1151.7h16m-8-8v16M1468.5 1150.5h16m-8-8v16M1472.5 1162.8h16m-8-8v16M1472.5 1153.4h16m-8-8v16M1472.5 1151.9h16m-8-8v16M1472.5 1161.6h16m-8-8v16M1476.5 1158.3h16m-8-8v16M1476.5 1157.5h16m-8-8v16M1476.5 1159.6h16m-8-8v16M1480.5 1152.3h16m-8-8v16M1480.5 1155.5h16m-8-8v16M1484.5 1157.5h16m-8-8v16M1484.5 1150.4h16m-8-8v16M1484.5 1153.4h16m-8-8v16M1488.5 1147.9h16m-8-8v16M1488.5 1145.4h16m-8-8v16M1488.5 1144h16m-8-8v16M1488.5 1148.7h16m-8-8v16M1492.5 1148.1h16m-8-8v16M1492.5 1160.2h16m-8-8v16M1492.5 1159.5h16m-8-8v16M1496.5 1158.3h16m-8-8v16M1496.5 1152.9h16m-8-8v16M1496.5 1158h16m-8-8v16M1496.5 1154.7h16m-8-8v16M1500.5 1152.2h16m-8-8v16M1500.5 1156.9h16m-8-8v16M1500.5 1144.6h16m-8-8v16M1500.5 1146.6h16m-8-8v16M1504.5 1142.7h16m-8-8v16M1504.5 1146.2h16m-8-8v16M1504.5 1147.1h16m-8-8v16M1504.5 1153.4h16m-8-8v16M1504.5 1161.3h16m-8-8v16M1508.5 1150.2h16m-8-8v16M1508.5 1156.9h16m-8-8v16M1512.5 1164h16m-8-8v16M1512.5 1161.4h16m-8-8v16M1512.5 1148.3h16m-8-8v16M1520.5 1100.5h16m-8-8v16M1524.5 1151.2h16m-8-8v16M1524.5 1150.8h16m-8-8v16M1524.5 1147.5h16m-8-8v16M1524.5 1151.8h16m-8-8v16M1528.5 1159.3h16m-8-8v16M1528.5 1158.1h16m-8-8v16M1528.5 1157h16m-8-8v16M1532.5 1159.7h16m-8-8v16M1532.5 1149.9h16m-8-8v16M1532.5 1153.6h16m-8-8v16M1532.5 1159.3h16m-8-8v16M1536.5 1153.8h16m-8-8v16M1536.5 1136.2h16m-8-8v16M1536.5 1138.8h16m-8-8v16M1536.5 1135.6h16m-8-8v16M1540.5 1129.9h16m-8-8v16M1540.5 1147.8h16m-8-8v16M1544.5 1153.9h16m-8-8v16M1544.5 1156.2h16m-8-8v16M1544.5 1157.6h16m-8-8v16M1544.5 1153.4h16m-8-8v16M1548.5 1156.6h16m-8-8v16M1548.5 1159h16m-8-8v16M1548.5 1153.1h16m-8-8v16M1548.5 1158.2h16m-8-8v16M1548.5 1163.6h16m-8-8v16M1552.5 1164h16m-8-8v16M1552.5 1156h16m-8-8v16M1552.5 1160h16m-8-8v16M1552.5 1157.1h16m-8-8v16M1556.5 1146.1h16m-8-8v16M1556.5 1155.6h16m-8-8v16M1560.5 1152.6h16m-8-8v16M1560.5 1153.1h16m-8-8v16M1560.5 1151.8h16m-8-8v16M1564.5 1154.4h16m-8-8v16M1564.5 1158.7h16m-8-8v16M1564.5 1162.6h16m-8-8v16M1564.5 1157.6h16m-8-8v16M1568.5 1166.9h16m-8-8v16M1568.5 1161.2h16m-8-8v16M1568.5 1161.3h16m-8-8v16M1572.5 1154.2h16m-8-8v16M1576.5 1165h16m-8-8v16M1576.5 1160.8h16m-8-8v16M1576.5 1149.1h16m-8-8v16M1576.5 1151.5h16m-8-8v16M1580.5 1141.8h16m-8-8v16M1580.5 1118.6h16m-8-8v16M1580.5 1092.9h16m-8-8v16M1584.5 1112.4h16m-8-8v16M1584.5 1113.6h16m-8-8v16M1584.5 1118.3h16m-8-8v16M1584.5 1119.1h16m-8-8v16M1588.5 1132.4h16m-8-8v16M1588.5 1156.1h16m-8-8v16M1588.5 1157.5h16m-8-8v16M1588.5 1158.4h16m-8-8v16M1592.5 1148.1h16m-8-8v16M1592.5 1148.5h16m-8-8v16M1596.5 1136.4h16m-8-8v16M1596.5 1138.8h16m-8-8v16M1600.5 1131.7h16m-8-8v16M1600.5 1147.4h16m-8-8v16M1600.5 1144.8h16m-8-8v16M1600.5 1155.1h16m-8-8v16M1604.5 1146.2h16m-8-8v16M1604.5 1132.4h16m-8-8v16M1604.5 1127.4h16m-8-8v16M1608.5 1097.7h16m-8-8v16M1608.5 1116.7h16m-8-8v16M1608.5 1107.7h16m-8-8v16M1612.5 1120.6h16m-8-8v16M1616.5 1140.9h16m-8-8v16M1616.5 1150.1h16m-8-8v16M1616.5 1148.4h16m-8-8v16M1616.5 1159.2h16m-8-8v16M1620.5 1158.1h16m-8-8v16M1620.5 1159.2h16m-8-8v16M1620.5 1166.8h16m-8-8v16M1624.5 1163.8h16m-8-8v16M1628.5 1162h16m-8-8v16M1628.5 1160.7h16m-8-8v16M1628.5 1156.3h16m-8-8v16M1632.5 1165.8h16m-8-8v16M1632.5 1160.3h16m-8-8v16M1632.5 1165.9h16m-8-8v16M1636.5 1153.5h16m-8-8v16M1636.5 1154.1h16m-8-8v16M1636.5 1154h16m-8-8v16M1640.5 1144.4h16m-8-8v16M1644.5 1157.2h16m-8-8v16M1644.5 1160.6h16m-8-8v16M1644.5 1159.3h16m-8-8v16M1644.5 1162.4h16m-8-8v16M1648.5 1162.8h16m-8-8v16M1652.5 1168.7h16m-8-8v16M1652.5 1161.5h16m-8-8v16M1656.5 1164.9h16m-8-8v16M1656.5 1161.3h16m-8-8v16M1656.5 1165.8h16m-8-8v16M1656.5 1170.6h16m-8-8v16M1656.5 1165.9h16m-8-8v16M1660.5 1157.2h16m-8-8v16M1660.5 1158.9h16m-8-8v16M1660.5 1160.1h16m-8-8v16M1664.5 1154.5h16m-8-8v16M1664.5 1150.1h16m-8-8v16M1664.5 1158.6h16m-8-8v16M1668.5 1156.6h16m-8-8v16M1668.5 1161.9h16m-8-8v16M1668.5 1158.2h16m-8-8v16M1668.5 1167.8h16m-8-8v16M1672.5 1163.2h16m-8-8v16M1672.5 1161.1h16m-8-8v16M1672.5 1166.7h16m-8-8v16M1672.5 1161.2h16m-8-8v16M1672.5 1157.5h16m-8-8v16M1676.5 1158.1h16m-8-8v16M1676.5 1157.1h16m-8-8v16M1676.5 1163.1h16m-8-8v16M1676.5 1163.7h16m-8-8v16M1676.5 1157.8h16m-8-8v16M1680.5 1165.3h16m-8-8v16M1680.5 1158.7h16m-8-8v16M1684.5 1156.6h16m-8-8v16M1684.5 1165h16m-8-8v16M1688.5 1163.1h16m-8-8v16M1692.5 1153.7h16m-8-8v16M1692.5 1156.5h16m-8-8v16M1692.5 1153.6h16m-8-8v16M1696.5 1153.7h16m-8-8v16M1696.5 1142.8h16m-8-8v16M1696.5 1151.8h16m-8-8v16M1696.5 1158.9h16m-8-8v16M1700.5 1164.2h16m-8-8v16M1708.5 1163.6h16m-8-8v16M1712.5 1162.6h16m-8-8v16M1716.5 1159.1h16m-8-8v16M1716.5 1164.6h16m-8-8v16M1716.5 1156.8h16m-8-8v16M1716.5 1164.9h16m-8-8v16M1720.5 1158.2h16m-8-8v16M1720.5 1159.3h16m-8-8v16M1720.5 1173.8h16m-8-8v16M1720.5 1160h16m-8-8v16M1724.5 1165.5h16m-8-8v16M1724.5 1166.8h16m-8-8v16M1724.5 1162.8h16m-8-8v16M1728.5 1168.3h16m-8-8v16M1728.5 1163.5h16m-8-8v16M1732.5 1152.3h16m-8-8v16M1732.5 1156.9h16m-8-8v16M1732.5 1160h16m-8-8v16M1732.5 1158.1h16m-8-8v16M1736.5 1138.8h16m-8-8v16M1736.5 1105.4h16m-8-8v16M1736.5 1079.4h16m-8-8v16M1740.5 1065.6h16m-8-8v16M1740.5 1081.5h16m-8-8v16M1740.5 1114.6h16m-8-8v16M1744.5 1148h16m-8-8v16M1744.5 1154.1h16m-8-8v16M1744.5 1147.3h16m-8-8v16M1744.5 1159.2h16m-8-8v16M1744.5 1152.9h16m-8-8v16M1748.5 1164.3h16m-8-8v16M1748.5 1159.1h16m-8-8v16M1748.5 1155.7h16m-8-8v16M1748.5 1152.9h16m-8-8v16M1748.5 1158.3h16m-8-8v16M1752.5 1158.4h16m-8-8v16M1752.5 1165.6h16m-8-8v16M1756.5 1166.8h16m-8-8v16M1760.5 1109h16m-8-8v16M1764.5 1140.8h16m-8-8v16M1764.5 1128.3h16m-8-8v16M1764.5 1130.7h16m-8-8v16M1764.5 1148.2h16m-8-8v16M1768.5 1156.5h16m-8-8v16M1768.5 1165h16m-8-8v16M1768.5 1165.4h16m-8-8v16M1772.5 1162h16m-8-8v16M1772.5 1162.9h16m-8-8v16M1772.5 1166h16m-8-8v16M1772.5 1159.1h16m-8-8v16M1772.5 1163.4h16m-8-8v16M1776.5 1160.7h16m-8-8v16M1776.5 1165.4h16m-8-8v16M1776.5 1166.9h16m-8-8v16M1776.5 1162.5h16m-8-8v16M1780.5 1162.3h16m-8-8v16M1780.5 1163.4h16m-8-8v16M1780.5 1169.7h16m-8-8v16M1784.5 1159.4h16m-8-8v16M1784.5 1172.6h16m-8-8v16M1784.5 1164.3h16m-8-8v16M1788.5 1165.4h16m-8-8v16M1788.5 1164.9h16m-8-8v16M1788.5 1155.8h16m-8-8v16M1788.5 1168.9h16m-8-8v16M1792.5 1158.4h16m-8-8v16M1792.5 1164.2h16m-8-8v16M1800.5 1160.3h16m-8-8v16M1800.5 1167.4h16m-8-8v16M1800.5 1161.7h16m-8-8v16M1804.5 1169.1h16m-8-8v16M1804.5 1170.5h16m-8-8v16M1804.5 1166.1h16m-8-8v16M1804.5 1160.9h16m-8-8v16M1808.5 1165.3h16m-8-8v16M1808.5 1163.7h16m-8-8v16M1808.5 1166.7h16m-8-8v16M1812.5 1165.8h16m-8-8v16M1812.5 1162.4h16m-8-8v16M1812.5 1160.5h16m-8-8v16M1816.5 1162.7h16m-8-8v16M1816.5 1157.3h16m-8-8v16M1816.5 1158.9h16m-8-8v16M1820.5 1165.2h16m-8-8v16M1820.5 1163.5h16m-8-8v16M1820.5 1165.1h16m-8-8v16M1824.5 1148.7h16m-8-8v16M1824.5 1167.6h16m-8-8v16M1828.5 1166.8h16m-8-8v16M1828.5 1171.8h16m-8-8v16M1828.5 1169.5h16m-8-8v16M1828.5 1166.9h16m-8-8v16M1832.5 1168.4h16m-8-8v16M1832.5 1160.3h16m-8-8v16M1832.5 1167.1h16m-8-8v16M1836.5 1170.2h16m-8-8v16M1836.5 1168.4h16m-8-8v16M1836.5 1171.8h16m-8-8v16M1836.5 1166.8h16m-8-8v16M1840.5 1162.9h16m-8-8v16M1840.5 1163.3h16m-8-8v16M1840.5 1158.3h16m-8-8v16M1844.5 1148.9h16m-8-8v16M1848.5 1155.8h16m-8-8v16M1848.5 1167h16m-8-8v16M1848.5 1165.1h16m-8-8v16M1848.5 1162.9h16m-8-8v16M1852.5 1160.9h16m-8-8v16M1852.5 1170.4h16m-8-8v16M1852.5 1167.9h16m-8-8v16M1856.5 1163.7h16m-8-8v16M1856.5 1163.9h16m-8-8v16M1856.5 1165.6h16m-8-8v16M1856.5 1159.1h16m-8-8v16M1860.5 1166.5h16m-8-8v16M1864.5 1153.6h16m-8-8v16M1864.5 1152.8h16m-8-8v16M1868.5 1154.9h16m-8-8v16M1868.5 1161.5h16m-8-8v16M1872.5 1164.6h16m-8-8v16M1872.5 1170.8h16m-8-8v16M1872.5 1161.8h16m-8-8v16M1872.5 1160.2h16m-8-8v16M1876.5 1164h16m-8-8v16M1876.5 1164.6h16m-8-8v16M1880.5 1161.9h16m-8-8v16M1884.5 1146.3h16m-8-8v16M1884.5 1149.9h16m-8-8v16M1884.5 1151h16m-8-8v16"/>
<path fill="none" stroke="#000" stroke-width="3" d="M256.5 970.5h16m-8-8v16M256.5 976.6h16m-8-8v16M260.5 984.7h16m-8-8v16M260.5 980.4h16m-8-8v16M260.5 981.9h16m-8-8v16M260.5 970.9h16m-8-8v16M260.5 972.5h16m-8-8v16M260.5 975.3h16m-8-8v16M264.5 970.1h16m-8-8v16M264.5 991h16m-8-8v16M264.5 982.2h16m-8-8v16M264.5 997.1h16m-8-8v16M264.5 991.1h16m-8-8v16M264.5 997h16m-8-8v16M264.5 991.6h16m-8-8v16M264.5 976.3h16m-8-8v16M264.5 977.7h16m-8-8v16M268.5 981.4h16m-8-8v16M268.5 985.5h16m-8-8v16M268.5 980.8h16m-8-8v16M268.5 996.1h16m-8-8v16M268.5 989.6h16m-8-8v16M268.5 971.1h16m-8-8v16M272.5 982.5h16m-8-8v16M272.5 988.5h16m-8-8v16M272.5 995.8h16m-8-8v16M272.5 983h16m-8-8v16M272.5 970.5h16m-8-8v16M276.5 999.7h16m-8-8v16M276.5 975.9h16m-8-8v16M276.5 965.2h16m-8-8v16M276.5 977.8h16m-8-8v16M276.5 997.5h16m-8-8v16M276.5 988.1h16m-8-8v16M280.5 979.6h16m-8-8v16M280.5 987.3h16m-8-8v16M280.5 980.2h16m-8-8v16M280.5 992.1h16m-8-8v16M280.5 986.5h16m-8-8v16M280.5 993.8h16m-8-8v16M284.5 977.2h16m-8-8v16M284.5 1001.7h16m-8-8v16M284.5 982.5h16m-8-8v16M288.5 982.2h16m-8-8v16M288.5 992.1h16m-8-8v16M288.5 992.4h16m-8-8v16M288.5 973.2h16m-8-8v16M288.5 990.2h16m-8-8v16M288.5 982.8h16m-8-8v16M288.5 986.3h16m-8-8v16M288.5 985.4h16m-8-8v16M292.5 991.7h16m-8-8v16M292.5 975.4h16m-8-8v16M292.5 889.7h16m-8-8v16M292.5 743.3h16m-8-8v16M292.5 694.5h16m-8-8v16M292.5 667.4h16m-8-8v16M292.5 737.2h16m-8-8v16M296.5 808.2h16m-8-8v16M296.5 900.1h16m-8-8v16M296.5 928.3h16m-8-8v16M296.5 987.5h16m-8-8v16M296.5 962.6h16m-8-8v16M296.5 932h16m-8-8v16M296.5 886.2h16m-8-8v16M296.5 908.3h16m-8-8v16M300.5 922.1h16m-8-8v16M300.5 970.4h16m-8-8v16M300.5 987.2h16m-8-8v16M300.5 996.3h16m-8-8v16M300.5 996.1h16m-8-8v16M304.5 995.4h16m-8-8v16M304.5 989.6h16m-8-8v16M304.5 1001.7h16m-8-8v16M304.5 1020h16m-8-8v16M304.5 1012.1h16m-8-8v16M308.5 998.1h16m-8-8v16M308.5 1022.2h16m-8-8v16M308.5 1019.1h16m-8-8v16M308.5 995.5h16m-8-8v16M308.5 1011.1h16m-8-8v16M308.5 1018.4h16m-8-8v16M308.5 992.2h16m-8-8v16M312.5 990.6h16m-8-8v16M312.5 1005.2h16m-8-8v16M312.5 1006.5h16m-8-8v16M312.5 1014.5h16m-8-8v16M312.5 1010.8h16m-8-8v16M312.5 1013.6h16m-8-8v16M312.5 1012.3h16m-8-8v16M316.5 1018.6h16m-8-8v16M316.5 994.9h16m-8-8v16M316.5 998.1h16m-8-8v16M316.5 1010.8h16m-8-8v16M316.5 1013.2h16m-8-8v16M316.5 1011.7h16m-8-8v16M320.5 1011.1h16m-8-8v16M320.5 1015.6h16m-8-8v16M320.5 992.1h16m-8-8v16M320.5 1013.2h16m-8-8v16M320.5 1001.2h16m-8-8v16M320.5 989.3h16m-8-8v16M320.5 1015.1h16m-8-8v16M320.5 1002.1h16m-8-8v16M324.5 1006.1h16m-8-8v16M324.5 995.7h16m-8-8v16M324.5 1015.6h16m-8-8v16M324.5 1005.6h16m-8-8v16M324.5 1022.5h16m-8-8v16M328.5 1023.9h16m-8-8v16M328.5 1000.5h16m-8-8v16M328.5 1017.9h16m-8-8v16M328.5 1010.7h16m-8-8v16M328.5 1018h16m-8-8v16M328.5 1018.9h16m-8-8v16M328.5 1008.6h16m-8-8v16M328.5 1017.4h16m-8-8v16M332.5 1014.8h16m-8-8v16M332.5 1004.4h16m-8-8v16M332.5 1009.2h16m-8-8v16M332.5 1012.2h16m-8-8v16M332.5 1021.1h16m-8-8v16M332.5 1028.8h16m-8-8v16M332.5 1007.6h16m-8-8v16M332.5 1011.9h16m-8-8v16M336.5 1010h16m-8-8v16M336.5 1009.7h16m-8-8v16M336.5 1009.1h16m-8-8v16M336.5 1021.9h16m-8-8v16M336.5 1004.1h16m-8-8v16M336.5 1010.4h16m-8-8v16M336.5 1014h16m-8-8v16M336.5 1001.8h16m-8-8v16M340.5 1005.6h16m-8-8v16M340.5 1029.7h16m-8-8v16M340.5 1034.9h16m-8-8v16M340.5 1029.1h16m-8-8v16M340.5 1020.2h16m-8-8v16M340.5 1012.6h16m-8-8v16M340.5 1035.4h16m-8-8v16M340.5 1018.5h16m-8-8v16M344.5 1020.6h16m-8-8v16M344.5 1035.5h16m-8-8v16M344.5 1031h16m-8-8v16M344.5 1018h16m-8-8v16M344.5 1023.3h16m-8-8v16M348.5 1032.1h16m-8-8v16M348.5 1032.5h16m-8-8v16M348.5 1031.7h16m-8-8v16M348.5 1021.1h16m-8-8v16M348.5 1021.4h16m-8-8v16M352.5 1006.5h16m-8-8v16M352.5 1037.3h16m-8-8v16M352.5 1017.1h16m-8-8v16M352.5 1026h16m-8-8v16M352.5 1029.9h16m-8-8v16M352.5 1019.3h16m-8-8v16M356.5 1016.4h16m-8-8v16M356.5 1027.1h16m-8-8v16M356.5 1046.6h16m-8-8v16M356.5 1056.5h16m-8-8v16M356.5 1032.5h16m-8-8v16M356.5 1016.1h16m-8-8v16M356.5 1027.7h16m-8-8v16M360.5 1038.7h16m-8-8v16M360.5 1036.8h16m-8-8v16M360.5 1018.7h16m-8-8v16M360.5 1027.5h16m-8-8v16M360.5 1028.6h16m-8-8v16M360.5 1029.1h16m-8-8v16M360.5 1024.9h16m-8-8v16M360.5 1028h16m-8-8v16M364.5 1039.3h16m-8-8v16M364.5 1025.8h16m-8-8v16M364.5 1021h16m-8-8v16M364.5 1042h16m-8-8v16M364.5 1032.2h16m-8-8v16M364.5 1031.2h16m-8-8v16M364.5 1043h16m-8-8v16M364.5 1016.4h16m-8-8v16M368.5 1025.3h16m-8-8v16M368.5 1028.9h16m-8-8v16M368.5 1055.3h16m-8-8v16M368.5 1030.4h16m-8-8v16M368.5 1033.3h16m-8-8v16M368.5 1032.2h16m-8-8v16M368.5 1035.6h16m-8-8v16M372.5 1023.3h16m-8-8v16M372.5 1030.9h16m-8-8v16M372.5 1034h16m-8-8v16M372.5 1039.2h16m-8-8v16M372.5 1037.9h16m-8-8v16M372.5 1026.6h16m-8-8v16M372.5 1027.2h16m-8-8v16M376.5 1029.5h16m-8-8v16M376.5 1034.6h16m-8-8v16M376.5 1033.8h16m-8-8v16M376.5 1038h16m-8-8v16M376.5 1037.8h16m-8-8v16M376.5 1035.7h16m-8-8v16M376.5 1023.3h16m-8-8v16M376.5 1031.7h16m-8-8v16M376.5 1037.2h16m-8-8v16M380.5 1042.5h16m-8-8v16M380.5 1037h16m-8-8v16M380.5 1040.7h16m-8-8v16M380.5 1047.4h16m-8-8v16M380.5 1038.6h16m-8-8v16M380.5 1030.7h16m-8-8v16M384.5 1040.6h16m-8-8v16M384.5 1037.9h16m-8-8v16M384.5 1052.7h16m-8-8v16M384.5 1041.2h16m-8-8v16M384.5 1046.7h16m-8-8v16M384.5 1034.9h16m-8-8v16M388.5 1038.9h16m-8-8v16M388.5 1040.7h16m-8-8v16M388.5 1049.3h16m-8-8v16M388.5 1037.1h16m-8-8v16M388.5 1024h16m-8-8v16M388.5 1043.2h16m-8-8v16M388.5 1039.1h16m-8-8v16M392.5 1052.6h16m-8-8v16M392.5 1051.5h16m-8-8v16M392.5 1050.1h16m-8-8v16M392.5 1033.4h16m-8-8v16M392.5 1029.8h16m-8-8v16M392.5 1040.7h16m-8-8v16M392.5 1038.4h16m-8-8v16M392.5 1026.7h16m-8-8v16M392.5 1045h16m-8-8v16M396.5 1055.1h16m-8-8v16M396.5 1043.5h16m-8-8v16M396.5 1031.5h16m-8-8v16M396.5 1036h16m-8-8v16M396.5 1052.2h16m-8-8v16M396.5 1046.6h16m-8-8v16M400.5 1043.2h16m-8-8v16M400.5 1042.7h16m-8-8v16M400.5 1047.9h16m-8-8v16M400.5 1045.8h16m-8-8v16M400.5 1046.5h16m-8-8v16M400.5 1041.3h16m-8-8v16M400.5 1045.9h16m-8-8v16M404.5 1060.6h16m-8-8v16M404.5 1063.1h16m-8-8v16M404.5 1061.7h16m-8-8v16M404.5 1053.3h16m-8-8v16M408.5 1029h16m-8-8v16M408.5 1046.1h16m-8-8v16M408.5 1054.5h16m-8-8v16M408.5 1057.8h16m-8-8v16M408.5 1049.6h16m-8-8v16M408.5 1057.6h16m-8-8v16M412.5 1037.9h16m-8-8v16M412.5 1049.8h16m-8-8v16M412.5 1041.5h16m-8-8v16M412.5 1038.5h16m-8-8v16M412.5 1030.7h16m-8-8v16M412.5 1029.9h16m-8-8v16M416.5 996.9h16m-8-8v16M416.5 994.8h16m-8-8v16M416.5 1028.7h16m-8-8v16M416.5 1030.4h16m-8-8v16M416.5 1031h16m-8-8v16M416.5 1047.1h16m-8-8v16M416.5 1038.5h16m-8-8v16M420.5 1047.2h16m-8-8v16M420.5 1060.1h16m-8-8v16M420.5 1058.5h16m-8-8v16M420.5 1044.8h16m-8-8v16M420.5 1048h16m-8-8v16M420.5 1067.7h16m-8-8v16M420.5 1041.5h16m-8-8v16M420.5 1047.9h16m-8-8v16M420.5 1042.1h16m-8-8v16M420.5 1056.4h16m-8-8v16M424.5 1055.9h16m-8-8v16M424.5 1062.9h16m-8-8v16M424.5 1033.2h16m-8-8v16M424.5 1055.6h16m-8-8v16M424.5 1059.8h16m-8-8v16M424.5 1053.4h16m-8-8v16M424.5 1068.5h16m-8-8v16M424.5 1058.1h16m-8-8v16M428.5 1065.5h16m-8-8v16M428.5 1046.8h16m-8-8v16M428.5 1064.3h16m-8-8v16M428.5 1060.1h16m-8-8v16M428.5 1059.9h16m-8-8v16M428.5 1060.8h16m-8-8v16M428.5 1063.3h16m-8-8v16M428.5 1059.2h16m-8-8v16M432.5 1065.2h16m-8-8v16M432.5 1067.5h16m-8-8v16M432.5 1057.6h16m-8-8v16M432.5 1050.3h16m-8-8v16M432.5 1069.8h16m-8-8v16M432.5 1063h16m-8-8v16M432.5 1065.8h16m-8-8v16M432.5 1051.2h16m-8-8v16M436.5 1064.8h16m-8-8v16M436.5 1055.6h16m-8-8v16M436.5 1060.6h16m-8-8v16M436.5 1065h16m-8-8v16M436.5 1054.4h16m-8-8v16M436.5 1054.5h16m-8-8v16M436.5 1059.9h16m-8-8v16M436.5 1068.3h16m-8-8v16M440.5 1060.6h16m-8-8v16M440.5 1059.5h16m-8-8v16M440.5 1052.4h16m-8-8v16M440.5 1067.4h16m-8-8v16M440.5 1069.4h16m-8-8v16M440.5 1075.3h16m-8-8v16M444.5 1061.5h16m-8-8v16M444.5 1073.4h16m-8-8v16M444.5 1070h16m-8-8v16M444.5 1067.4h16m-8-8v16M444.5 1070.6h16m-8-8v16M444.5 1057.5h16m-8-8v16M448.5 1072.2h16m-8-8v16M448.5 1077.3h16m-8-8v16M448.5 1048.1h16m-8-8v16M448.5 1065.5h16m-8-8v16M448.5 1061.1h16m-8-8v16M448.5 1063.4h16m-8-8v16M448.5 1061.9h16m-8-8v16M452.5 1062.9h16m-8-8v16M452.5 1070.9h16m-8-8v16M452.5 1072.8h16m-8-8v16M452.5 1055.3h16m-8-8v16M452.5 1053.1h16m-8-8v16M452.5 1065.3h16m-8-8v16M452.5 1066.3h16m-8-8v16M456.5 1046.9h16m-8-8v16M456.5 1062.4h16m-8-8v16M456.5 1048.1h16m-8-8v16M456.5 1067.9h16m-8-8v16M456.5 1075h16m-8-8v16M460.5 1054.2h16m-8-8v16M460.5 1059.1h16m-8-8v16M460.5 1069h16m-8-8v16M460.5 1081.2h16m-8-8v16M460.5 1067.6h16m-8-8v16M460.5 1067.8h16m-8-8v16M460.5 1075.9h16m-8-8v16M464.5 1067.9h16m-8-8v16M464.5 1067.8h16m-8-8v16M464.5 1057.6h16m-8-8v16M464.5 1053.3h16m-8-8v16M464.5 1069h16m-8-8v16M464.5 1068.7h16m-8-8v16M464.5 1073h16m-8-8v16M464.5 1074.2h16m-8-8v16M468.5 1076.8h16m-8-8v16M468.5 1069.7h16m-8-8v16M468.5 1067.1h16m-8-8v16M468.5 1070.6h16m-8-8v16M468.5 1074.9h16m-8-8v16M468.5 1076.7h16m-8-8v16M468.5 1071.3h16m-8-8v16M468.5 1067.9h16m-8-8v16M472.5 1069.8h16m-8-8v16M472.5 1080.4h16m-8-8v16M472.5 1069.4h16m-8-8v16M472.5 1074.8h16m-8-8v16M472.5 1072.4h16m-8-8v16M472.5 1086.1h16m-8-8v16M472.5 1069.5h16m-8-8v16M472.5 1069h16m-8-8v16M476.5 1071.9h16m-8-8v16M476.5 1075.5h16m-8-8v16M476.5 1068.3h16m-8-8v16M476.5 1068h16m-8-8v16M476.5 1066.7h16m-8-8v16M476.5 1052h16m-8-8v16M476.5 1050.9h16m-8-8v16M476.5 1053.7h16m-8-8v16M480.5 1053.9h16m-8-8v16M480.5 1065.5h16m-8-8v16M480.5 1066.7h16m-8-8v16M480.5 1062.2h16m-8-8v16M484.5 1061.3h16m-8-8v16M484.5 1060h16m-8-8v16M484.5 1051.6h16m-8-8v16M484.5 1057h16m-8-8v16M484.5 1074.7h16m-8-8v16M484.5 1058.4h16m-8-8v16M484.5 1069.8h16m-8-8v16M488.5 1090.2h16m-8-8v16M488.5 1069.5h16m-8-8v16M488.5 1084.7h16m-8-8v16M488.5 1079.2h16m-8-8v16M488.5 1065.1h16m-8-8v16M488.5 1077.7h16m-8-8v16M488.5 1073.1h16m-8-8v16M492.5 1077.7h16m-8-8v16M492.5 1085.5h16m-8-8v16M492.5 1081.4h16m-8-8v16M492.5 1073.1h16m-8-8v16M492.5 1073.5h16m-8-8v16M492.5 1075.7h16m-8-8v16M492.5 1069.2h16m-8-8v16M492.5 1082.6h16m-8-8v16M496.5 1072.8h16m-8-8v16M496.5 1074.5h16m-8-8v16M496.5 1079.9h16m-8-8v16M496.5 1085.3h16m-8-8v16M496.5 1090.1h16m-8-8v16M500.5 1076h16m-8-8v16M500.5 1091h16m-8-8v16M500.5 1081.2h16m-8-8v16M500.5 1085.2h16m-8-8v16M500.5 1095.6h16m-8-8v16M500.5 1081.5h16m-8-8v16M504.5 1075h16m-8-8v16M504.5 1067.6h16m-8-8v16M504.5 1071.8h16m-8-8v16M508.5 1081.1h16m-8-8v16M508.5 1074.2h16m-8-8v16M508.5 1066.6h16m-8-8v16M508.5 1071.6h16m-8-8v16M508.5 1081.7h16m-8-8v16M512.5 1070.9h16m-8-8v16M512.5 1083.4h16m-8-8v16M512.5 1076.3h16m-8-8v16M512.5 1074.5h16m-8-8v16M512.5 1093.3h16m-8-8v16M512.5 1087.4h16m-8-8v16M516.5 1093.8h16m-8-8v16M516.5 1075.2h16m-8-8v16M516.5 1079.3h16m-8-8v16M516.5 1079.4h16m-8-8v16M516.5 1086.6h16m-8-8v16M516.5 1075.7h16m-8-8v16M516.5 1075.5h16m-8-8v16M516.5 1090.2h16m-8-8v16M516.5 1089.8h16m-8-8v16M520.5 1079h16m-8-8v16M520.5 1082.2h16m-8-8v16M520.5 1090.8h16m-8-8v16M520.5 1086.9h16m-8-8v16M520.5 1089.1h16m-8-8v16M520.5 1087.8h16m-8-8v16M524.5 1076h16m-8-8v16M524.5 1068.7h16m-8-8v16M524.5 1084.6h16m-8-8v16M524.5 1074.2h16m-8-8v16M524.5 1092.5h16m-8-8v16M524.5 1084.7h16m-8-8v16M524.5 1082.4h16m-8-8v16M528.5 1091.7h16m-8-8v16M528.5 1097.7h16m-8-8v16M528.5 1096.3h16m-8-8v16M528.5 1081.3h16m-8-8v16M528.5 1084.8h16m-8-8v16M528.5 1082h16m-8-8v16M528.5 1088.9h16m-8-8v16M528.5 1083.1h16m-8-8v16M532.5 1093.1h16m-8-8v16M532.5 1078.9h16m-8-8v16M532.5 1087.3h16m-8-8v16M532.5 1092.5h16m-8-8v16M532.5 1089.8h16m-8-8v16M532.5 1089h16m-8-8v16M532.5 1082.5h16m-8-8v16M536.5 1095.1h16m-8-8v16M536.5 1090.5h16m-8-8v16M536.5 1088.8h16m-8-8v16M536.5 1083h16m-8-8v16M536.5 1090h16m-8-8v16M540.5 1079.9h16m-8-8v16M540.5 1075.1h16m-8-8v16M540.5 1076.8h16m-8-8v16M540.5 1084.9h16m-8-8v16M540.5 1084.2h16m-8-8v16M540.5 1103.5h16m-8-8v16M540.5 1084.7h16m-8-8v16M544.5 1090.6h16m-8-8v16M544.5 1086.3h16m-8-8v16M544.5 1084.6h16m-8-8v16M544.5 1091.9h16m-8-8v16M544.5 1101.5h16m-8-8v16M544.5 1087h16m-8-8v16M544.5 1094.9h16m-8-8v16M544.5 1094h16m-8-8v16M544.5 1092.2h16m-8-8v16M548.5 1106.1h16m-8-8v16M548.5 1088h16m-8-8v16M548.5 1082h16m-8-8v16M548.5 1089.5h16m-8-8v16M548.5 1102.2h16m-8-8v16M548.5 1097h16m-8-8v16M552.5 1085.6h16m-8-8v16M552.5 1099.1h16m-8-8v16M552.5 1092.4h16m-8-8v16M552.5 1078h16m-8-8v16M552.5 1083h16m-8-8v16M552.5 1082.4h16m-8-8v16M552.5 1087.1h16m-8-8v16M556.5 1096.7h16m-8-8v16M556.5 1084h16m-8-8v16M556.5 1067.7h16m-8-8v16M556.5 1061.1h16m-8-8v16M556.5 1056.8h16m-8-8v16M556.5 1048.6h16m-8-8v16M560.5 1026.6h16m-8-8v16M560.5 1034.9h16m-8-8v16M560.5 1031.4h16m-8-8v16M560.5 1038.7h16m-8-8v16M560.5 1018.9h16m-8-8v16M560.5 1060h16m-8-8v16M564.5 1071.7h16m-8-8v16M564.5 1066.1h16m-8-8v16M564.5 1080.9h16m-8-8v16M564.5 1089.7h16m-8-8v16M568.5 1081.7h16m-8-8v16M568.5 1106.2h16m-8-8v16M568.5 1097.5h16m-8-8v16M568.5 1088.7h16m-8-8v16M568.5 1089.3h16m-8-8v16M568.5 1084h16m-8-8v16M568.5 1096.1h16m-8-8v16M572.5 1090.5h16m-8-8v16M572.5 1100.6h16m-8-8v16M572.5 1108.7h16m-8-8v16M572.5 1096.9h16m-8-8v16M572.5 1104.8h16m-8-8v16M572.5 1091.9h16m-8-8v16M572.5 1092.3h16m-8-8v16M572.5 1083.5h16m-8-8v16M576.5 1095.8h16m-8-8v16M576.5 1104.9h16m-8-8v16M576.5 1099.5h16m-8-8v16M576.5 1100.6h16m-8-8v16M576.5 1090.9h16m-8-8v16M576.5 1098.2h16m-8-8v16M576.5 1088.5h16m-8-8v16M576.5 1093.8h16m-8-8v16M580.5 1089.4h16m-8-8v16M580.5 1078.6h16m-8-8v16M580.5 1075.1h16m-8-8v16M580.5 1074.9h16m-8-8v16M584.5 1066.7h16m-8-8v16M584.5 1026.5h16m-8-8v16M584.5 1011.1h16m-8-8v16M584.5 990.3h16m-8-8v16M584.5 967.9h16m-8-8v16M584.5 941h16m-8-8v16M584.5 936.2h16m-8-8v16M584.5 922.9h16m-8-8v16M588.5 573h16m-8-8v16M588.5 586.6h16m-8-8v16M588.5 660.9h16m-8-8v16M588.5 721h16m-8-8v16M588.5 763.3h16m-8-8v16M592.5 667.3h16m-8-8v16M592.5 746.6h16m-8-8v16M592.5 830.4h16m-8-8v16M592.5 1000.6h16m-8-8v16M592.5 1042h16m-8-8v16M592.5 1079.8h16m-8-8v16M592.5 1077.3h16m-8-8v16M592.5 1070h16m-8-8v16M596.5 1066.3h16m-8-8v16M596.5 1085.7h16m-8-8v16M596.5 1073.9h16m-8-8v16M596.5 1078.9h16m-8-8v16M596.5 1085.4h16m-8-8v16M596.5 1091.7h16m-8-8v16M596.5 1085.8h16m-8-8v16M600.5 1086.6h16m-8-8v16M600.5 1068.3h16m-8-8v16M600.5 1062.8h16m-8-8v16M600.5 1079.1h16m-8-8v16M600.5 1073.5h16m-8-8v16M600.5 1090.8h16m-8-8v16M600.5 1075.9h16m-8-8v16M604.5 1100.8h16m-8-8v16M604.5 1099.2h16m-8-8v16M604.5 1097.2h16m-8-8v16M604.5 1103.6h16m-8-8v16M604.5 1102.8h16m-8-8v16M604.5 1101.1h16m-8-8v16M604.5 1100.7h16m-8-8v16M608.5 1099.7h16m-8-8v16M608.5 1096.6h16m-8-8v16M608.5 1109.4h16m-8-8v16M608.5 1096.5h16m-8-8v16M608.5 1088.5h16m-8-8v16M608.5 1097.5h16m-8-8v16M608.5 1101h16m-8-8v16M608.5 1101.8h16m-8-8v16M612.5 1109.2h16m-8-8v16M612.5 1103.9h16m-8-8v16M612.5 1100.3h16m-8-8v16M612.5 1098.5h16m-8-8v16M612.5 1106.4h16m-8-8v16M612.5 1105.6h16m-8-8v16M612.5 1103h16m-8-8v16M612.5 1111.5h16m-8-8v16M616.5 1104.2h16m-8-8v16M616.5 1098.4h16m-8-8v16M616.5 1110.6h16m-8-8v16M616.5 1103.4h16m-8-8v16M616.5 1111.6h16m-8-8v16M616.5 1097.3h16m-8-8v16M616.5 1089.7h16m-8-8v16M620.5 1091.6h16m-8-8v16M620.5 1100.2h16m-8-8v16M620.5 1104.4h16m-8-8v16M620.5 1098.4h16m-8-8v16M620.5 1096.2h16m-8-8v16M624.5 1109.8h16m-8-8v16M624.5 1102.4h16m-8-8v16M624.5 1108.9h16m-8-8v16M624.5 1119.4h16m-8-8v16M624.5 1099.7h16m-8-8v16M624.5 1101h16m-8-8v16M628.5 1104.6h16m-8-8v16M628.5 1105.1h16m-8-8v16M628.5 1108.4h16m-8-8v16M628.5 1110h16m-8-8v16M628.5 1106.5h16m-8-8v16M628.5 1114.1h16m-8-8v16M632.5 1109h16m-8-8v16M632.5 1111.8h16m-8-8v16M632.5 1096.1h16m-8-8v16M632.5 1104.7h16m-8-8v16M632.5 1105.7h16m-8-8v16M632.5 1096.7h16m-8-8v16M632.5 1094.4h16m-8-8v16M632.5 1098h16m-8-8v16M636.5 1094.8h16m-8-8v16M636.5 1102.6h16m-8-8v16M636.5 1094.3h16m-8-8v16M636.5 1094.5h16m-8-8v16M636.5 1088.8h16m-8-8v16M636.5 1053.2h16m-8-8v16M636.5 1015.2h16m-8-8v16M636.5 938.3h16m-8-8v16M640.5 695.5h16m-8-8v16M640.5 599.7h16m-8-8v16M640.5 607.1h16m-8-8v16M640.5 716.5h16m-8-8v16M640.5 957.9h16m-8-8v16M640.5 1007.2h16m-8-8v16M640.5 1049.4h16m-8-8v16M644.5 1030.5h16m-8-8v16M644.5 1030.9h16m-8-8v16M644.5 967.8h16m-8-8v16M644.5 877.5h16m-8-8v16M644.5 809.8h16m-8-8v16M644.5 842.1h16m-8-8v16M644.5 908.5h16m-8-8v16M644.5 975.3h16m-8-8v16M644.5 1029.2h16m-8-8v16M648.5 1043.6h16m-8-8v16M648.5 1077.2h16m-8-8v16M648.5 1053h16m-8-8v16M648.5 1050.6h16m-8-8v16M648.5 1067.4h16m-8-8v16M648.5 1082.1h16m-8-8v16M648.5 1082.3h16m-8-8v16M648.5 1099h16m-8-8v16M648.5 1104.2h16m-8-8v16M652.5 1111.9h16m-8-8v16M652.5 1101.5h16m-8-8v16M652.5 1106.6h16m-8-8v16M652.5 1107.5h16m-8-8v16M652.5 1103.3h16m-8-8v16M656.5 1108.8h16m-8-8v16M656.5 1107.6h16m-8-8v16M656.5 1105.6h16m-8-8v16M656.5 1102.8h16m-8-8v16M656.5 1081.1h16m-8-8v16M656.5 1079.9h16m-8-8v16M656.5 1059.5h16m-8-8v16M656.5 1057.3h16m-8-8v16M660.5 1044.1h16m-8-8v16M660.5 1062.1h16m-8-8v16M660.5 1057.4h16m-8-8v16M660.5 1082.9h16m-8-8v16M660.5 1109.8h16m-8-8v16M660.5 1110h16m-8-8v16M660.5 1105.9h16m-8-8v16M660.5 1109h16m-8-8v16M664.5 1109.5h16m-8-8v16M664.5 1112.1h16m-8-8v16M664.5 1124.8h16m-8-8v16M664.5 1108.6h16m-8-8v16M664.5 1112.6h16m-8-8v16M668.5 1120.3h16m-8-8v16M668.5 1122.3h16m-8-8v16M668.5 1118h16m-8-8v16M668.5 1124.1h16m-8-8v16M668.5 1117.2h16m-8-8v16M668.5 1117.6h16m-8-8v16M668.5 1106.6h16m-8-8v16M668.5 1119.2h16m-8-8v16M672.5 1111.9h16m-8-8v16M672.5 1109.8h16m-8-8v16M672.5 1105h16m-8-8v16M672.5 1096h16m-8-8v16M672.5 1103.8h16m-8-8v16M672.5 1100.3h16m-8-8v16M672.5 1101.7h16m-8-8v16M672.5 1082.1h16m-8-8v16M672.5 1077.9h16m-8-8v16M676.5 1047.4h16m-8-8v16M676.5 1077.7h16m-8-8v16M676.5 1091.6h16m-8-8v16M676.5 1096.5h16m-8-8v16M676.5 1091.8h16m-8-8v16M680.5 995.2h16m-8-8v16M680.5 930.7h16m-8-8v16M680.5 794.3h16m-8-8v16M680.5 624h16m-8-8v16M680.5 466.6h16m-8-8v16M680.5 485.3h16m-8-8v16M680.5 605.5h16m-8-8v16M680.5 916.5h16m-8-8v16M684.5 1021.2h16m-8-8v16M684.5 994.6h16m-8-8v16M684.5 962.9h16m-8-8v16M684.5 893.4h16m-8-8v16M684.5 935.7h16m-8-8v16M688.5 1008.2h16m-8-8v16M688.5 1033.2h16m-8-8v16M688.5 1061.9h16m-8-8v16M688.5 1102.9h16m-8-8v16M688.5 1101.1h16m-8-8v16M688.5 1112.9h16m-8-8v16M688.5 1110.6h16m-8-8v16M692.5 1104.4h16m-8-8v16M692.5 1098.2h16m-8-8v16M692.5 1093.7h16m-8-8v16M692.5 979.7h16m-8-8v16M692.5 898.3h16m-8-8v16M692.5 782.4h16m-8-8v16M696.5 785.7h16m-8-8v16M696.5 1039.1h16m-8-8v16M696.5 1085.9h16m-8-8v16M696.5 1062.3h16m-8-8v16M700.5 1027.6h16m-8-8v16M700.5 1023.2h16m-8-8v16M700.5 1014h16m-8-8v16M700.5 1030.3h16m-8-8v16M700.5 1047.1h16m-8-8v16M700.5 1078h16m-8-8v16M700.5 1106.4h16m-8-8v16M704.5 1117.6h16m-8-8v16M704.5 1114h16m-8-8v16M704.5 1107h16m-8-8v16M704.5 1111.7h16m-8-8v16M704.5 1111.2h16m-8-8v16M704.5 1112.3h16m-8-8v16M704.5 1114.2h16m-8-8v16M704.5 1115.4h16m-8-8v16M708.5 1116.2h16m-8-8v16M708.5 1119.3h16m-8-8v16M708.5 1105.6h16m-8-8v16M708.5 1087.7h16m-8-8v16M708.5 1071.2h16m-8-8v16M708.5 1069.5h16m-8-8v16M712.5 1050.9h16m-8-8v16M712.5 1068.8h16m-8-8v16M712.5 1088h16m-8-8v16M712.5 1086.3h16m-8-8v16M712.5 1122h16m-8-8v16M712.5 1120.1h16m-8-8v16M716.5 1117.3h16m-8-8v16M716.5 1111.2h16m-8-8v16M716.5 1103h16m-8-8v16M716.5 1110.1h16m-8-8v16M716.5 1117.2h16m-8-8v16M716.5 1116h16m-8-8v16M716.5 1114.4h16m-8-8v16M720.5 1124.5h16m-8-8v16M720.5 1117.7h16m-8-8v16M720.5 1123.6h16m-8-8v16M720.5 1118.1h16m-8-8v16M720.5 1103h16m-8-8v16M720.5 1122.1h16m-8-8v16M720.5 1117.2h16m-8-8v16M724.5 1112.4h16m-8-8v16M724.5 1107.5h16m-8-8v16M724.5 1115.3h16m-8-8v16M724.5 1114.3h16m-8-8v16M724.5 1073.4h16m-8-8v16M724.5 1054.8h16m-8-8v16M724.5 1037.9h16m-8-8v16M724.5 1008h16m-8-8v16M728.5 990.9h16m-8-8v16M728.5 991.2h16m-8-8v16M728.5 1021h16m-8-8v16M728.5 1042.2h16m-8-8v16M728.5 1076.3h16m-8-8v16M728.5 1085.8h16m-8-8v16M728.5 1073.3h16m-8-8v16M728.5 1100h16m-8-8v16M732.5 987.6h16m-8-8v16M732.5 785.3h16m-8-8v16M732.5 682.3h16m-8-8v16M732.5 857.3h16m-8-8v16M732.5 994.3h16m-8-8v16M732.5 993.7h16m-8-8v16M736.5 970.6h16m-8-8v16M736.5 946.6h16m-8-8v16M736.5 962.7h16m-8-8v16M736.5 977.3h16m-8-8v16M736.5 1015.8h16m-8-8v16M736.5 1100.2h16m-8-8v16M736.5 1107.4h16m-8-8v16M740.5 1120.3h16m-8-8v16M740.5 1111.6h16m-8-8v16M740.5 1116.3h16m-8-8v16M740.5 1112.9h16m-8-8v16M740.5 1105.1h16m-8-8v16M740.5 1100.6h16m-8-8v16M740.5 1101.3h16m-8-8v16M744.5 1084.6h16m-8-8v16M744.5 1049h16m-8-8v16M744.5 1028.8h16m-8-8v16M744.5 1033.8h16m-8-8v16M744.5 1086.4h16m-8-8v16M748.5 1094.7h16m-8-8v16M748.5 1090.1h16m-8-8v16M748.5 1096.9h16m-8-8v16M748.5 1053.8h16m-8-8v16M748.5 1057.7h16m-8-8v16M748.5 1061.6h16m-8-8v16M752.5 1077.6h16m-8-8v16M752.5 1086.8h16m-8-8v16M752.5 1071.9h16m-8-8v16M752.5 1054.2h16m-8-8v16M752.5 1039.3h16m-8-8v16M752.5 956.4h16m-8-8v16M752.5 965.5h16m-8-8v16M756.5 980.9h16m-8-8v16M756.5 1028.6h16m-8-8v16M756.5 1061.5h16m-8-8v16M756.5 1059.6h16m-8-8v16M756.5 1071.3h16m-8-8v16M756.5 1071.6h16m-8-8v16M756.5 1053.9h16m-8-8v16M756.5 1024.4h16m-8-8v16M756.5 971.4h16m-8-8v16M756.5 891.4h16m-8-8v16M760.5 685.5h16m-8-8v16M760.5 441.3h16m-8-8v16M760.5 238.8h16m-8-8v16M760.5 142h16m-8-8v16M760.5 206h16m-8-8v16M760.5 371.8h16m-8-8v16M760.5 383.2h16m-8-8v16M760.5 401h16m-8-8v16M760.5 468.8h16m-8-8v16M764.5 741.2h16m-8-8v16M764.5 874.8h16m-8-8v16M764.5 915.7h16m-8-8v16M764.5 939.8h16m-8-8v16M764.5 925.1h16m-8-8v16M764.5 949.8h16m-8-8v16M764.5 1008.8h16m-8-8v16M768.5 1074.4h16m-8-8v16M768.5 1097.7h16m-8-8v16M768.5 1110.2h16m-8-8v16M768.5 1112.8h16m-8-8v16M768.5 1109.2h16m-8-8v16M768.5 1109.4h16m-8-8v16M768.5 1108.1h16m-8-8v16M772.5 1120.4h16m-8-8v16M772.5 1113.6h16m-8-8v16M772.5 1111.8h16m-8-8v16M772.5 1105.3h16m-8-8v16M772.5 1079.3h16m-8-8v16M772.5 1074.9h16m-8-8v16M776.5 1061.3h16m-8-8v16M776.5 1036h16m-8-8v16M776.5 1066.5h16m-8-8v16M776.5 1083.6h16m-8-8v16M776.5 1088.3h16m-8-8v16M776.5 1115.8h16m-8-8v16M780.5 1121h16m-8-8v16M780.5 1122h16m-8-8v16M780.5 1124.8h16m-8-8v16M780.5 1115.8h16m-8-8v16M780.5 1135.2h16m-8-8v16M780.5 1131.2h16m-8-8v16M780.5 1125.2h16m-8-8v16M780.5 1121.7h16m-8-8v16M784.5 1136h16m-8-8v16M784.5 1130.6h16m-8-8v16M784.5 1123.7h16m-8-8v16M784.5 1126.2h16m-8-8v16M784.5 1131.6h16m-8-8v16M788.5 1125.1h16m-8-8v16M788.5 1133.7h16m-8-8v16M788.5 1116.2h16m-8-8v16M788.5 1120.9h16m-8-8v16M788.5 1120.1h16m-8-8v16M788.5 1125.9h16m-8-8v16M792.5 1102.8h16m-8-8v16M792.5 1101.4h16m-8-8v16M792.5 1112.1h16m-8-8v16M792.5 1099.1h16m-8-8v16M792.5 1114.9h16m-8-8v16M792.5 1114.2h16m-8-8v16M796.5 1119.6h16m-8-8v16M796.5 1121.8h16m-8-8v16M796.5 1136.1h16m-8-8v16M796.5 1132h16m-8-8v16M800.5 1137.1h16m-8-8v16M800.5 1138.8h16m-8-8v16M800.5 1127.6h16m-8-8v16M800.5 1118.7h16m-8-8v16M800.5 1133.8h16m-8-8v16M800.5 1125h16m-8-8v16M800.5 1131.3h16m-8-8v16M800.5 1131.9h16m-8-8v16M804.5 1120.6h16m-8-8v16M804.5 1131.9h16m-8-8v16M804.5 1137.3h16m-8-8v16M804.5 1128h16m-8-8v16M804.5 1137.2h16m-8-8v16M804.5 1134.7h16m-8-8v16M804.5 1125.5h16m-8-8v16M804.5 1124.1h16m-8-8v16M808.5 1129.3h16m-8-8v16M808.5 1119.2h16m-8-8v16M808.5 1101.7h16m-8-8v16M808.5 1099.5h16m-8-8v16M808.5 1097h16m-8-8v16M812.5 1097.6h16m-8-8v16M812.5 1127.3h16m-8-8v16M812.5 1103.2h16m-8-8v16M812.5 1129.6h16m-8-8v16M812.5 1120.4h16m-8-8v16M812.5 1120.9h16m-8-8v16M812.5 1123.6h16m-8-8v16M812.5 1129h16m-8-8v16M816.5 1127.2h16m-8-8v16M816.5 1134.8h16m-8-8v16M816.5 1145h16m-8-8v16M816.5 1115.6h16m-8-8v16M816.5 1127.4h16m-8-8v16M816.5 1121.4h16m-8-8v16M816.5 1136.5h16m-8-8v16M816.5 1123.5h16m-8-8v16M816.5 1123.1h16m-8-8v16M820.5 1138.4h16m-8-8v16M820.5 1143.9h16m-8-8v16M820.5 1131.4h16m-8-8v16M820.5 1137.3h16m-8-8v16M820.5 1121.3h16m-8-8v16M824.5 1132h16m-8-8v16M824.5 1136h16m-8-8v16M824.5 1133.5h16m-8-8v16M824.5 1126.5h16m-8-8v16M824.5 1132.8h16m-8-8v16M824.5 1138.4h16m-8-8v16M824.5 1130.3h16m-8-8v16M828.5 1121.7h16m-8-8v16M828.5 1110.9h16m-8-8v16M828.5 1117.7h16m-8-8v16M832.5 1058.6h16m-8-8v16M832.5 1039.4h16m-8-8v16M832.5 1019.9h16m-8-8v16M832.5 1023.3h16m-8-8v16M832.5 1036.8h16m-8-8v16M836.5 1082.9h16m-8-8v16M836.5 1074.2h16m-8-8v16M836.5 1069h16m-8-8v16M836.5 1070.4h16m-8-8v16M836.5 1093.3h16m-8-8v16M836.5 1100.1h16m-8-8v16M840.5 1120.1h16m-8-8v16M840.5 1129.5h16m-8-8v16M840.5 1115.9h16m-8-8v16M840.5 1121.5h16m-8-8v16M840.5 1135.4h16m-8-8v16M844.5 1127.8h16m-8-8v16M844.5 1128.6h16m-8-8v16M844.5 1125.1h16m-8-8v16M844.5 1125.4h16m-8-8v16M844.5 1115.3h16m-8-8v16M844.5 1107.5h16m-8-8v16M848.5 1119.8h16m-8-8v16M848.5 1115.9h16m-8-8v16M848.5 1129.9h16m-8-8v16M848.5 1132.6h16m-8-8v16M848.5 1126.1h16m-8-8v16M848.5 1130.8h16m-8-8v16M848.5 1137.3h16m-8-8v16M848.5 1134.3h16m-8-8v16M852.5 1135.8h16m-8-8v16M852.5 1136.1h16m-8-8v16M852.5 1129.7h16m-8-8v16M852.5 1139.1h16m-8-8v16M852.5 1135h16m-8-8v16M852.5 1129h16m-8-8v16M852.5 1120.4h16m-8-8v16M856.5 1130.1h16m-8-8v16M856.5 1135.7h16m-8-8v16M856.5 1139.4h16m-8-8v16M856.5 1139.7h16m-8-8v16M856.5 1140.3h16m-8-8v16M856.5 1137.1h16m-8-8v16M856.5 1137.2h16m-8-8v16M860.5 1136.2h16m-8-8v16M860.5 1141.6h16m-8-8v16M860.5 1125.6h16m-8-8v16M860.5 1130.9h16m-8-8v16M860.5 1127.2h16m-8-8v16M860.5 1136.5h16m-8-8v16M860.5 1131.3h16m-8-8v16M864.5 1141.7h16m-8-8v16M864.5 1128.8h16m-8-8v16M864.5 1125.9h16m-8-8v16M864.5 1132.6h16m-8-8v16M864.5 1130.6h16m-8-8v16M864.5 1127.5h16m-8-8v16M864.5 1137.6h16m-8-8v16M864.5 1131.1h16m-8-8v16M864.5 1135.4h16m-8-8v16M868.5 1133.8h16m-8-8v16M868.5 1126.6h16m-8-8v16M868.5 1123.3h16m-8-8v16M868.5 1133.2h16m-8-8v16M868.5 1120.2h16m-8-8v16M868.5 1127.7h16m-8-8v16M872.5 1127.5h16m-8-8v16M872.5 1140.7h16m-8-8v16M872.5 1128.1h16m-8-8v16M872.5 1144h16m-8-8v16M872.5 1128.7h16m-8-8v16M872.5 1132.5h16m-8-8v16M872.5 1135.3h16m-8-8v16M876.5 1141.4h16m-8-8v16M876.5 1134h16m-8-8v16M876.5 1126.8h16m-8-8v16M876.5 1135.9h16m-8-8v16M876.5 1137h16m-8-8v16M876.5 1136.9h16m-8-8v16M876.5 1125.8h16m-8-8v16M876.5 1139.1h16m-8-8v16M876.5 1129.1h16m-8-8v16M880.5 1140.6h16m-8-8v16M880.5 1129.5h16m-8-8v16M880.5 1133.4h16m-8-8v16M880.5 1146.8h16m-8-8v16M880.5 1131.6h16m-8-8v16M880.5 1136.7h16m-8-8v16M880.5 1117.7h16m-8-8v16M880.5 1121.4h16m-8-8v16M884.5 1083.4h16m-8-8v16M884.5 1049h16m-8-8v16M884.5 1035.2h16m-8-8v16M884.5 1028.8h16m-8-8v16M884.5 1009.2h16m-8-8v16M884.5 1017.9h16m-8-8v16M884.5 1023.9h16m-8-8v16M884.5 1009.3h16m-8-8v16M888.5 973.5h16m-8-8v16M888.5 975.6h16m-8-8v16M888.5 1008.2h16m-8-8v16M888.5 1022.1h16m-8-8v16M888.5 1043.2h16m-8-8v16M888.5 1060.6h16m-8-8v16M892.5 1072.4h16m-8-8v16M892.5 1102.4h16m-8-8v16M892.5 1113.8h16m-8-8v16M892.5 1110.9h16m-8-8v16M892.5 1125.7h16m-8-8v16M892.5 1122.1h16m-8-8v16M892.5 1126.7h16m-8-8v16M892.5 1130.8h16m-8-8v16M892.5 1119h16m-8-8v16M896.5 1126.8h16m-8-8v16M896.5 1131.5h16m-8-8v16M896.5 1123.2h16m-8-8v16M896.5 1122.1h16m-8-8v16M896.5 1125.8h16m-8-8v16M896.5 1112.9h16m-8-8v16M896.5 1121.7h16m-8-8v16M900.5 1116.5h16m-8-8v16M900.5 1127.3h16m-8-8v16M900.5 1138.7h16m-8-8v16M900.5 1130.2h16m-8-8v16M900.5 1141.3h16m-8-8v16M900.5 1136.4h16m-8-8v16M900.5 1128.3h16m-8-8v16M904.5 1130h16m-8-8v16M904.5 1138h16m-8-8v16M904.5 1137.5h16m-8-8v16M904.5 1134.7h16m-8-8v16M904.5 1147.8h16m-8-8v16M904.5 1140.2h16m-8-8v16M904.5 1141.1h16m-8-8v16M908.5 1139.9h16m-8-8v16M908.5 1139.5h16m-8-8v16M908.5 1132.9h16m-8-8v16M908.5 1136.5h16m-8-8v16M908.5 1130.7h16m-8-8v16M912.5 1126.5h16m-8-8v16M912.5 1129h16m-8-8v16M912.5 1120.2h16m-8-8v16M912.5 1115.7h16m-8-8v16M912.5 1090.5h16m-8-8v16M912.5 1038.8h16m-8-8v16M912.5 995.1h16m-8-8v16M912.5 945.8h16m-8-8v16M916.5 941h16m-8-8v16M916.5 926.5h16m-8-8v16M916.5 959.1h16m-8-8v16M916.5 964.3h16m-8-8v16M916.5 940.2h16m-8-8v16M920.5 1075.1h16m-8-8v16M920.5 1099.6h16m-8-8v16M920.5 1101.9h16m-8-8v16M920.5 1119.3h16m-8-8v16M920.5 1128.6h16m-8-8v16M920.5 1140.9h16m-8-8v16M920.5 1134.6h16m-8-8v16M920.5 1135h16m-8-8v16M924.5 1136.5h16m-8-8v16M924.5 1147.2h16m-8-8v16M924.5 1131.5h16m-8-8v16M924.5 1139.1h16m-8-8v16M924.5 1138.4h16m-8-8v16M924.5 1142.7h16m-8-8v16M928.5 1137.3h16m-8-8v16M928.5 1140.2h16m-8-8v16M928.5 1142.7h16m-8-8v16M928.5 1138.8h16m-8-8v16M928.5 1132.4h16m-8-8v16M928.5 1144.1h16m-8-8v16M928.5 1130.8h16m-8-8v16M928.5 1134.3h16m-8-8v16M932.5 1141.1h16m-8-8v16M932.5 1134.7h16m-8-8v16M932.5 1147.6h16m-8-8v16M932.5 1145.3h16m-8-8v16M932.5 1140.5h16m-8-8v16M932.5 1139.8h16m-8-8v16M932.5 1140.4h16m-8-8v16M932.5 1136.6h16m-8-8v16M936.5 1132.7h16m-8-8v16M936.5 1141.9h16m-8-8v16M936.5 1136.6h16m-8-8v16M936.5 1134.1h16m-8-8v16M936.5 1130.3h16m-8-8v16M936.5 1129.1h16m-8-8v16M940.5 1138.8h16m-8-8v16M940.5 1131.8h16m-8-8v16M940.5 1141.2h16m-8-8v16M940.5 1143.1h16m-8-8v16M940.5 1137.6h16m-8-8v16M944.5 1137.8h16m-8-8v16M944.5 1133.5h16m-8-8v16M944.5 1133.4h16m-8-8v16M944.5 1140.4h16m-8-8v16M944.5 1132.5h16m-8-8v16M944.5 1139.1h16m-8-8v16M944.5 1139.5h16m-8-8v16M944.5 1144.7h16m-8-8v16M948.5 1146.7h16m-8-8v16M948.5 1136.6h16m-8-8v16M948.5 1138.2h16m-8-8v16M948.5 1138.5h16m-8-8v16M948.5 1151.2h16m-8-8v16M948.5 1140.4h16m-8-8v16M948.5 1136.5h16m-8-8v16M948.5 1143.7h16m-8-8v16M952.5 1139.3h16m-8-8v16M952.5 1152h16m-8-8v16M952.5 1136.3h16m-8-8v16M952.5 1143h16m-8-8v16M952.5 1135.8h16m-8-8v16M952.5 1134.7h16m-8-8v16M952.5 1143.3h16m-8-8v16M956.5 1125.6h16m-8-8v16M956.5 1135.1h16m-8-8v16M956.5 1137.3h16m-8-8v16M956.5 1122.9h16m-8-8v16M956.5 1117.4h16m-8-8v16M956.5 1129h16m-8-8v16M956.5 1133.2h16m-8-8v16M960.5 1114.9h16m-8-8v16M960.5 1115h16m-8-8v16M960.5 1116.7h16m-8-8v16M960.5 1130.2h16m-8-8v16M960.5 1128.1h16m-8-8v16M960.5 1136.7h16m-8-8v16M960.5 1126.5h16m-8-8v16M960.5 1136.3h16m-8-8v16M964.5 1126.6h16m-8-8v16M964.5 1122.4h16m-8-8v16M964.5 1109.6h16m-8-8v16M964.5 1090h16m-8-8v16M968.5 1042.3h16m-8-8v16M968.5 1021.5h16m-8-8v16M968.5 1003.2h16m-8-8v16M968.5 1002.7h16m-8-8v16M968.5 1021.6h16m-8-8v16M972.5 1066h16m-8-8v16M972.5 1064.5h16m-8-8v16M972.5 1063.8h16m-8-8v16M972.5 1050.8h16m-8-8v16M972.5 1053.7h16m-8-8v16M972.5 1050h16m-8-8v16M972.5 1057.8h16m-8-8v16M972.5 1079.5h16m-8-8v16M976.5 1070.8h16m-8-8v16M976.5 1098.7h16m-8-8v16M976.5 1125h16m-8-8v16M976.5 1131.2h16m-8-8v16M976.5 1134.5h16m-8-8v16M976.5 1132.8h16m-8-8v16M976.5 1145.8h16m-8-8v16M980.5 1140.5h16m-8-8v16M980.5 1140h16m-8-8v16M980.5 1130.6h16m-8-8v16M980.5 1141.9h16m-8-8v16M980.5 1123h16m-8-8v16M980.5 1136.7h16m-8-8v16M980.5 1129.1h16m-8-8v16M980.5 1126.7h16m-8-8v16M980.5 1114.8h16m-8-8v16M984.5 1117.5h16m-8-8v16M984.5 1094.5h16m-8-8v16M984.5 1087.1h16m-8-8v16M984.5 1048.4h16m-8-8v16M984.5 1016.5h16m-8-8v16M984.5 961.2h16m-8-8v16M988.5 948.4h16m-8-8v16M988.5 925h16m-8-8v16M988.5 883.2h16m-8-8v16M988.5 908.9h16m-8-8v16M988.5 941.8h16m-8-8v16M988.5 982.6h16m-8-8v16M988.5 989.3h16m-8-8v16M988.5 974.5h16m-8-8v16M988.5 968.3h16m-8-8v16M992.5 984.2h16m-8-8v16M992.5 1093.4h16m-8-8v16M992.5 1118.8h16m-8-8v16M992.5 1134.2h16m-8-8v16M992.5 1127.8h16m-8-8v16M996.5 1138.2h16m-8-8v16M996.5 1143h16m-8-8v16M996.5 1133.5h16m-8-8v16M1000.5 1145.7h16m-8-8v16M1000.5 1135.2h16m-8-8v16M1000.5 1139h16m-8-8v16M1000.5 1135h16m-8-8v16M1000.5 1140.8h16m-8-8v16M1000.5 1136.9h16m-8-8v16M1000.5 1137.6h16m-8-8v16M1000.5 1138.8h16m-8-8v16M1004.5 1140.4h16m-8-8v16M1004.5 1140.5h16m-8-8v16M1004.5 1136.7h16m-8-8v16M1004.5 1133h16m-8-8v16M1004.5 1142.3h16m-8-8v16M1004.5 1136.8h16m-8-8v16M1004.5 1142.2h16m-8-8v16M1008.5 1131.4h16m-8-8v16M1008.5 1143.1h16m-8-8v16M1008.5 1147.8h16m-8-8v16M1008.5 1144.6h16m-8-8v16M1008.5 1128.6h16m-8-8v16M1008.5 1132.5h16m-8-8v16M1008.5 1141.1h16m-8-8v16M1008.5 1132.1h16m-8-8v16M1012.5 1128.5h16m-8-8v16M1012.5 1120.4h16m-8-8v16M1012.5 1132.8h16m-8-8v16M1012.5 1124.7h16m-8-8v16M1012.5 1126.3h16m-8-8v16M1012.5 1134.5h16m-8-8v16M1012.5 1130.3h16m-8-8v16M1016.5 1141.1h16m-8-8v16M1016.5 1133.3h16m-8-8v16M1016.5 1140.1h16m-8-8v16M1016.5 1145.1h16m-8-8v16M1020.5 1143.1h16m-8-8v16M1020.5 1143.3h16m-8-8v16M1020.5 1142.9h16m-8-8v16M1020.5 1137.4h16m-8-8v16M1020.5 1142.4h16m-8-8v16M1020.5 1143.8h16m-8-8v16M1020.5 1144.4h16m-8-8v16M1020.5 1141.4h16m-8-8v16M1020.5 1147.5h16m-8-8v16M1020.5 1145.6h16m-8-8v16M1024.5 1143.6h16m-8-8v16M1024.5 1136.2h16m-8-8v16M1024.5 1140.5h16m-8-8v16M1024.5 1143h16m-8-8v16M1024.5 1131.6h16m-8-8v16M1024.5 1140.8h16m-8-8v16M1028.5 1140.5h16m-8-8v16M1028.5 1140.2h16m-8-8v16M1028.5 1140.7h16m-8-8v16M1028.5 1142.1h16m-8-8v16M1028.5 1130.8h16m-8-8v16M1032.5 1110.8h16m-8-8v16M1032.5 1098h16m-8-8v16M1032.5 1091.9h16m-8-8v16M1032.5 1108h16m-8-8v16M1032.5 1106.9h16m-8-8v16M1032.5 1119.9h16m-8-8v16M1032.5 1117.2h16m-8-8v16M1036.5 1137h16m-8-8v16M1036.5 1137.7h16m-8-8v16M1036.5 1134.8h16m-8-8v16M1036.5 1137.5h16m-8-8v16M1036.5 1138.3h16m-8-8v16M1036.5 1132.3h16m-8-8v16M1036.5 1138.4h16m-8-8v16M1040.5 1132.1h16m-8-8v16M1040.5 1114.2h16m-8-8v16M1040.5 1104.4h16m-8-8v16M1040.5 1085h16m-8-8v16M1040.5 1015.8h16m-8-8v16M1040.5 924.2h16m-8-8v16M1044.5 911.8h16m-8-8v16M1044.5 954.4h16m-8-8v16M1044.5 947.7h16m-8-8v16M1044.5 973.7h16m-8-8v16M1044.5 1012.5h16m-8-8v16M1044.5 1043.7h16m-8-8v16M1048.5 1074.1h16m-8-8v16M1048.5 1105.3h16m-8-8v16M1048.5 1126.7h16m-8-8v16M1048.5 1129.7h16m-8-8v16M1048.5 1123.7h16m-8-8v16M1048.5 1104.9h16m-8-8v16M1052.5 1101.8h16m-8-8v16M1052.5 1099h16m-8-8v16M1052.5 1098.2h16m-8-8v16M1052.5 1112.7h16m-8-8v16M1052.5 1130.2h16m-8-8v16M1056.5 1134.1h16m-8-8v16M1056.5 1144.7h16m-8-8v16M1056.5 1143h16m-8-8v16M1056.5 1142.1h16m-8-8v16M1056.5 1142.9h16m-8-8v16M1056.5 1130.5h16m-8-8v16M1056.5 1143.6h16m-8-8v16M1056.5 1154.6h16m-8-8v16M1056.5 1147.7h16m-8-8v16M1060.5 1144h16m-8-8v16M1060.5 1149.1h16m-8-8v16M1060.5 1146.7h16m-8-8v16M1060.5 1143.3h16m-8-8v16M1060.5 1145.9h16m-8-8v16M1060.5 1149.5h16m-8-8v16M1060.5 1147.9h16m-8-8v16M1060.5 1147.8h16m-8-8v16M1064.5 1152.1h16m-8-8v16M1064.5 1142.3h16m-8-8v16M1064.5 1142h16m-8-8v16M1064.5 1147.3h16m-8-8v16M1064.5 1138.7h16m-8-8v16M1068.5 1139.5h16m-8-8v16M1068.5 1143.4h16m-8-8v16M1068.5 1148.7h16m-8-8v16M1068.5 1138h16m-8-8v16M1068.5 1133.4h16m-8-8v16M1068.5 1141.9h16m-8-8v16M1068.5 1138.6h16m-8-8v16M1072.5 1136.6h16m-8-8v16M1072.5 1133.5h16m-8-8v16M1072.5 1128.2h16m-8-8v16M1072.5 1142h16m-8-8v16M1072.5 1136.1h16m-8-8v16M1076.5 1137.4h16m-8-8v16M1076.5 1141.7h16m-8-8v16M1076.5 1133.7h16m-8-8v16M1076.5 1145.2h16m-8-8v16M1076.5 1149.9h16m-8-8v16M1076.5 1144.5h16m-8-8v16M1080.5 1149.2h16m-8-8v16M1080.5 1142.6h16m-8-8v16M1080.5 1143h16m-8-8v16M1080.5 1139.9h16m-8-8v16M1080.5 1147h16m-8-8v16M1080.5 1138.1h16m-8-8v16M1084.5 1153.6h16m-8-8v16M1084.5 1144.5h16m-8-8v16M1084.5 1140h16m-8-8v16M1084.5 1150.1h16m-8-8v16M1084.5 1146.9h16m-8-8v16M1084.5 1150.3h16m-8-8v16M1088.5 1146.3h16m-8-8v16M1088.5 1148.8h16m-8-8v16M1088.5 1149.4h16m-8-8v16M1088.5 1131.1h16m-8-8v16M1092.5 1127.4h16m-8-8v16M1092.5 1131.8h16m-8-8v16M1092.5 1133.6h16m-8-8v16M1092.5 1119h16m-8-8v16M1092.5 1129.8h16m-8-8v16M1092.5 1127.7h16m-8-8v16M1092.5 1122.5h16m-8-8v16M1096.5 1129.5h16m-8-8v16M1096.5 1123.7h16m-8-8v16M1096.5 1137h16m-8-8v16M1096.5 1148.2h16m-8-8v16M1096.5 1156.3h16m-8-8v16M1096.5 1146.8h16m-8-8v16M1100.5 1137.8h16m-8-8v16M1100.5 1148.8h16m-8-8v16M1100.5 1147.4h16m-8-8v16M1100.5 1144.6h16m-8-8v16M1100.5 1147.9h16m-8-8v16M1100.5 1142.7h16m-8-8v16M1100.5 1145.2h16m-8-8v16M1104.5 1147.7h16m-8-8v16M1104.5 1152.2h16m-8-8v16M1104.5 1142.1h16m-8-8v16M1104.5 1154.4h16m-8-8v16M1104.5 1143.3h16m-8-8v16M1104.5 1151.4h16m-8-8v16M1104.5 1148.8h16m-8-8v16M1108.5 1145.9h16m-8-8v16M1108.5 1142.2h16m-8-8v16M1108.5 1144.8h16m-8-8v16M1108.5 1152.7h16m-8-8v16M1108.5 1140h16m-8-8v16M1108.5 1131.4h16m-8-8v16M1112.5 1130.9h16m-8-8v16M1112.5 1134.8h16m-8-8v16M1112.5 1119h16m-8-8v16M1112.5 1110.7h16m-8-8v16M1112.5 1128.1h16m-8-8v16M1112.5 1132.5h16m-8-8v16M1116.5 1133.3h16m-8-8v16M1116.5 1147.1h16m-8-8v16M1116.5 1136h16m-8-8v16M1116.5 1149.7h16m-8-8v16M1116.5 1144.8h16m-8-8v16M1116.5 1141.2h16m-8-8v16M1116.5 1143.8h16m-8-8v16M1116.5 1151.1h16m-8-8v16M1120.5 1148.2h16m-8-8v16M1120.5 1142.6h16m-8-8v16M1120.5 1154.2h16m-8-8v16M1120.5 1140.9h16m-8-8v16M1120.5 1145.8h16m-8-8v16M1124.5 1144h16m-8-8v16M1124.5 1145.3h16m-8-8v16M1124.5 1139.3h16m-8-8v16M1124.5 1156.7h16m-8-8v16M1124.5 1141.5h16m-8-8v16M1124.5 1148.6h16m-8-8v16M1124.5 1155h16m-8-8v16M1124.5 1146.9h16m-8-8v16M1128.5 1147.1h16m-8-8v16M1128.5 1139.3h16m-8-8v16M1128.5 1146.6h16m-8-8v16M1128.5 1128h16m-8-8v16M1128.5 1129.4h16m-8-8v16M1128.5 1126.6h16m-8-8v16M1128.5 1111.9h16m-8-8v16M1128.5 1102.5h16m-8-8v16M1132.5 1095.1h16m-8-8v16M1132.5 1095.2h16m-8-8v16M1132.5 1105.3h16m-8-8v16M1132.5 1102.4h16m-8-8v16M1132.5 1112.5h16m-8-8v16M1132.5 1113h16m-8-8v16M1132.5 1110.2h16m-8-8v16M1132.5 1134.3h16m-8-8v16M1132.5 1145.4h16m-8-8v16M1136.5 1151.2h16m-8-8v16M1136.5 1141.1h16m-8-8v16M1136.5 1149.5h16m-8-8v16M1136.5 1146.4h16m-8-8v16M1136.5 1147.2h16m-8-8v16M1136.5 1141.4h16m-8-8v16M1136.5 1151.4h16m-8-8v16M1140.5 1144.6h16m-8-8v16M1140.5 1153.6h16m-8-8v16M1140.5 1155.5h16m-8-8v16M1140.5 1155.6h16m-8-8v16M1140.5 1137.1h16m-8-8v16M1140.5 1153.8h16m-8-8v16M1140.5 1144.8h16m-8-8v16M1144.5 1148.1h16m-8-8v16M1144.5 1154.4h16m-8-8v16M1144.5 1150.5h16m-8-8v16M1144.5 1150.3h16m-8-8v16M1144.5 1152.5h16m-8-8v16M1144.5 1140.2h16m-8-8v16M1144.5 1158.1h16m-8-8v16M1144.5 1147.5h16m-8-8v16M1144.5 1151.7h16m-8-8v16M1148.5 1148.2h16m-8-8v16M1148.5 1144.7h16m-8-8v16M1148.5 1148h16m-8-8v16M1148.5 1146.5h16m-8-8v16M1148.5 1145h16m-8-8v16M1148.5 1140.5h16m-8-8v16M1148.5 1136.1h16m-8-8v16M1148.5 1141.3h16m-8-8v16M1152.5 1149.7h16m-8-8v16M1152.5 1140.6h16m-8-8v16M1152.5 1140.5h16m-8-8v16M1152.5 1134.6h16m-8-8v16M1152.5 1120.2h16m-8-8v16M1152.5 1123.3h16m-8-8v16M1152.5 1111.9h16m-8-8v16M1152.5 1097.8h16m-8-8v16M1152.5 1091.4h16m-8-8v16M1156.5 1096.1h16m-8-8v16M1156.5 1083.7h16m-8-8v16M1156.5 1109.9h16m-8-8v16M1156.5 1122.2h16m-8-8v16M1156.5 1134.1h16m-8-8v16M1160.5 1144.8h16m-8-8v16M1160.5 1139.6h16m-8-8v16M1160.5 1150.6h16m-8-8v16M1160.5 1140.4h16m-8-8v16M1160.5 1148.1h16m-8-8v16M1160.5 1145.8h16m-8-8v16M1160.5 1145.6h16m-8-8v16M1160.5 1142.1h16m-8-8v16M1160.5 1154.4h16m-8-8v16M1164.5 1144.2h16m-8-8v16M1164.5 1151.6h16m-8-8v16M1164.5 1153.5h16m-8-8v16M1164.5 1149.6h16m-8-8v16M1164.5 1151.1h16m-8-8v16M1164.5 1154.8h16m-8-8v16M1164.5 1154.7h16m-8-8v16M1164.5 1143.7h16m-8-8v16M1164.5 1141.4h16m-8-8v16M1168.5 1145.1h16m-8-8v16M1168.5 1153h16m-8-8v16M1168.5 1151h16m-8-8v16M1168.5 1155.7h16m-8-8v16M1168.5 1155.3h16m-8-8v16M1168.5 1152.2h16m-8-8v16M1168.5 1155.6h16m-8-8v16M1172.5 1148.9h16m-8-8v16M1172.5 1151.9h16m-8-8v16M1172.5 1146h16m-8-8v16M1172.5 1150.7h16m-8-8v16M1172.5 1150h16m-8-8v16M1172.5 1151.4h16m-8-8v16M1172.5 1152.3h16m-8-8v16M1172.5 1146.8h16m-8-8v16M1176.5 1147.1h16m-8-8v16M1176.5 1143.8h16m-8-8v16M1176.5 1157.3h16m-8-8v16M1176.5 1150.8h16m-8-8v16M1176.5 1150.2h16m-8-8v16M1176.5 1146.6h16m-8-8v16M1176.5 1148.6h16m-8-8v16M1176.5 1147.7h16m-8-8v16M1176.5 1139.8h16m-8-8v16M1176.5 1141.2h16m-8-8v16M1180.5 1146.3h16m-8-8v16M1180.5 1129.9h16m-8-8v16M1180.5 1137.8h16m-8-8v16M1180.5 1127.9h16m-8-8v16M1180.5 1135.9h16m-8-8v16M1184.5 1143.1h16m-8-8v16M1184.5 1139.9h16m-8-8v16M1184.5 1141.7h16m-8-8v16M1184.5 1144h16m-8-8v16M1184.5 1148.2h16m-8-8v16M1184.5 1164.2h16m-8-8v16M1184.5 1147.1h16m-8-8v16M1184.5 1157.2h16m-8-8v16M1184.5 1147.6h16m-8-8v16M1188.5 1148.1h16m-8-8v16M1188.5 1151.4h16m-8-8v16M1188.5 1150.2h16m-8-8v16M1188.5 1148.6h16m-8-8v16M1192.5 1148.3h16m-8-8v16M1192.5 1145.3h16m-8-8v16M1192.5 1138.1h16m-8-8v16M1192.5 1128.4h16m-8-8v16M1192.5 1125.5h16m-8-8v16M1192.5 1116.8h16m-8-8v16M1192.5 1091.2h16m-8-8v16M1196.5 1092.8h16m-8-8v16M1196.5 1083.8h16m-8-8v16M1196.5 1065.9h16m-8-8v16M1196.5 1090.6h16m-8-8v16M1196.5 1106.7h16m-8-8v16M1196.5 1115.9h16m-8-8v16M1196.5 1128.5h16m-8-8v16M1200.5 1140.9h16m-8-8v16M1200.5 1143.4h16m-8-8v16M1200.5 1148h16m-8-8v16M1200.5 1153.5h16m-8-8v16M1200.5 1155.4h16m-8-8v16M1200.5 1150.6h16m-8-8v16M1200.5 1156.2h16m-8-8v16M1200.5 1145.5h16m-8-8v16M1204.5 1136.8h16m-8-8v16M1204.5 1154h16m-8-8v16M1204.5 1165.8h16m-8-8v16M1204.5 1150.1h16m-8-8v16M1204.5 1144.2h16m-8-8v16M1208.5 1144.3h16m-8-8v16M1208.5 1144.9h16m-8-8v16M1208.5 1141.2h16m-8-8v16M1208.5 1146.1h16m-8-8v16M1208.5 1140.8h16m-8-8v16M1208.5 1143.4h16m-8-8v16M1208.5 1124.8h16m-8-8v16M1212.5 1135.1h16m-8-8v16M1212.5 1129.6h16m-8-8v16M1212.5 1129h16m-8-8v16M1212.5 1132.2h16m-8-8v16M1212.5 1137.7h16m-8-8v16M1212.5 1133.4h16m-8-8v16M1216.5 1146.7h16m-8-8v16M1216.5 1141.2h16m-8-8v16M1216.5 1143.5h16m-8-8v16M1216.5 1149.3h16m-8-8v16M1216.5 1134.1h16m-8-8v16M1216.5 1140.4h16m-8-8v16M1216.5 1125.9h16m-8-8v16M1220.5 1107.6h16m-8-8v16M1220.5 1105.3h16m-8-8v16M1220.5 1106h16m-8-8v16M1220.5 1104.6h16m-8-8v16M1220.5 1106.4h16m-8-8v16M1220.5 1118.3h16m-8-8v16M1224.5 1120.7h16m-8-8v16M1224.5 1133.1h16m-8-8v16M1224.5 1136h16m-8-8v16M1224.5 1152.4h16m-8-8v16M1224.5 1147.7h16m-8-8v16M1224.5 1151.2h16m-8-8v16M1228.5 1148.3h16m-8-8v16M1228.5 1139.6h16m-8-8v16M1228.5 1152.5h16m-8-8v16M1228.5 1149.7h16m-8-8v16M1228.5 1163.2h16m-8-8v16M1228.5 1150.9h16m-8-8v16M1228.5 1145.2h16m-8-8v16M1232.5 1152.7h16m-8-8v16M1232.5 1155h16m-8-8v16M1232.5 1152.4h16m-8-8v16M1232.5 1150.5h16m-8-8v16M1232.5 1153.7h16m-8-8v16M1232.5 1151.2h16m-8-8v16M1232.5 1156.8h16m-8-8v16M1232.5 1151.1h16m-8-8v16M1232.5 1145.7h16m-8-8v16M1232.5 1138.9h16m-8-8v16M1236.5 1143.2h16m-8-8v16M1236.5 1135.3h16m-8-8v16M1236.5 1132h16m-8-8v16M1236.5 1120.7h16m-8-8v16M1236.5 1113.2h16m-8-8v16M1236.5 1108.5h16m-8-8v16M1236.5 1104.1h16m-8-8v16M1240.5 1123.6h16m-8-8v16M1240.5 1133.6h16m-8-8v16M1240.5 1138.3h16m-8-8v16M1244.5 1146.5h16m-8-8v16M1244.5 1140.8h16m-8-8v16M1244.5 1149h16m-8-8v16M1244.5 1149.3h16m-8-8v16M1244.5 1154.8h16m-8-8v16M1244.5 1154.2h16m-8-8v16M1248.5 1155.3h16m-8-8v16M1248.5 1155h16m-8-8v16M1248.5 1151.9h16m-8-8v16M1248.5 1158h16m-8-8v16M1248.5 1156.1h16m-8-8v16M1248.5 1151.3h16m-8-8v16M1248.5 1149h16m-8-8v16M1248.5 1153.6h16m-8-8v16M1252.5 1152.1h16m-8-8v16M1252.5 1148.7h16m-8-8v16M1252.5 1150.6h16m-8-8v16M1252.5 1144.1h16m-8-8v16M1252.5 1139.6h16m-8-8v16M1252.5 1133h16m-8-8v16M1252.5 1112h16m-8-8v16M1252.5 1083.8h16m-8-8v16M1256.5 1067.4h16m-8-8v16M1256.5 1034h16m-8-8v16M1256.5 1023.7h16m-8-8v16M1256.5 1025.3h16m-8-8v16M1256.5 1079.4h16m-8-8v16M1256.5 1098.9h16m-8-8v16M1256.5 1100.6h16m-8-8v16M1260.5 1111.2h16m-8-8v16M1260.5 1094.3h16m-8-8v16M1260.5 1102.6h16m-8-8v16M1260.5 1091.8h16m-8-8v16M1260.5 1112.5h16m-8-8v16M1260.5 1134.3h16m-8-8v16M1264.5 1130.5h16m-8-8v16M1264.5 1141.7h16m-8-8v16M1264.5 1134.6h16m-8-8v16M1264.5 1151.9h16m-8-8v16M1264.5 1149.5h16m-8-8v16M1264.5 1153h16m-8-8v16M1264.5 1149.7h16m-8-8v16M1268.5 1146.9h16m-8-8v16M1268.5 1154.8h16m-8-8v16M1268.5 1141.7h16m-8-8v16M1268.5 1153.2h16m-8-8v16M1268.5 1149.7h16m-8-8v16M1272.5 1148.2h16m-8-8v16M1272.5 1153.1h16m-8-8v16M1272.5 1158.2h16m-8-8v16M1272.5 1148.5h16m-8-8v16M1272.5 1140.2h16m-8-8v16M1272.5 1146.8h16m-8-8v16M1272.5 1142.6h16m-8-8v16M1272.5 1134.8h16m-8-8v16M1276.5 1127h16m-8-8v16M1276.5 1127.1h16m-8-8v16M1276.5 1129.3h16m-8-8v16M1276.5 1145.2h16m-8-8v16M1276.5 1136.3h16m-8-8v16M1280.5 1146.2h16m-8-8v16M1280.5 1123.8h16m-8-8v16M1280.5 1123.6h16m-8-8v16M1280.5 1109.7h16m-8-8v16M1284.5 1118.3h16m-8-8v16M1284.5 1110.4h16m-8-8v16M1284.5 1128.4h16m-8-8v16M1284.5 1131h16m-8-8v16M1284.5 1140.5h16m-8-8v16M1284.5 1142.9h16m-8-8v16M1284.5 1144.9h16m-8-8v16M1284.5 1139.4h16m-8-8v16M1288.5 1141.7h16m-8-8v16M1288.5 1151.4h16m-8-8v16M1288.5 1152.1h16m-8-8v16M1288.5 1150.6h16m-8-8v16M1288.5 1151.9h16m-8-8v16M1288.5 1158.3h16m-8-8v16M1292.5 1146.9h16m-8-8v16M1292.5 1144h16m-8-8v16M1292.5 1139.1h16m-8-8v16M1296.5 1145.4h16m-8-8v16M1296.5 1141.5h16m-8-8v16M1296.5 1132.4h16m-8-8v16M1296.5 1142.4h16m-8-8v16M1296.5 1133h16m-8-8v16M1296.5 1140.5h16m-8-8v16M1296.5 1135.3h16m-8-8v16M1300.5 1149.3h16m-8-8v16M1300.5 1148.8h16m-8-8v16M1300.5 1136.5h16m-8-8v16M1300.5 1154.1h16m-8-8v16M1300.5 1146.6h16m-8-8v16M1300.5 1156.8h16m-8-8v16M1300.5 1153.1h16m-8-8v16M1304.5 1151.4h16m-8-8v16M1304.5 1148.6h16m-8-8v16M1304.5 1155.3h16m-8-8v16M1304.5 1147.7h16m-8-8v16M1304.5 1150.1h16m-8-8v16M1304.5 1154.2h16m-8-8v16M1304.5 1149.8h16m-8-8v16M1308.5 1145.4h16m-8-8v16M1308.5 1153.5h16m-8-8v16M1308.5 1144.4h16m-8-8v16M1308.5 1141.3h16m-8-8v16M1308.5 1139.5h16m-8-8v16M1308.5 1109.2h16m-8-8v16M1308.5 1070.3h16m-8-8v16M1308.5 1066.7h16m-8-8v16M1312.5 1037.6h16m-8-8v16M1312.5 1056.8h16m-8-8v16M1312.5 1093.2h16m-8-8v16M1312.5 1113.7h16m-8-8v16M1312.5 1115.3h16m-8-8v16M1312.5 1099h16m-8-8v16M1312.5 1095.9h16m-8-8v16M1316.5 1095.5h16m-8-8v16M1316.5 1096.5h16m-8-8v16M1316.5 1129.6h16m-8-8v16M1316.5 1137.4h16m-8-8v16M1316.5 1136.1h16m-8-8v16M1316.5 1146.7h16m-8-8v16M1320.5 1144.2h16m-8-8v16M1320.5 1158.1h16m-8-8v16M1320.5 1150.7h16m-8-8v16M1320.5 1152.7h16m-8-8v16M1324.5 1150.9h16m-8-8v16M1324.5 1151.7h16m-8-8v16M1324.5 1152.3h16m-8-8v16M1324.5 1149.4h16m-8-8v16M1324.5 1151.9h16m-8-8v16M1324.5 1150.8h16m-8-8v16M1324.5 1159.3h16m-8-8v16M1324.5 1144.5h16m-8-8v16M1324.5 1156.4h16m-8-8v16M1328.5 1150.1h16m-8-8v16M1328.5 1149.8h16m-8-8v16M1328.5 1151.2h16m-8-8v16M1328.5 1161h16m-8-8v16M1328.5 1157.2h16m-8-8v16M1328.5 1151h16m-8-8v16M1328.5 1154.6h16m-8-8v16M1332.5 1138.9h16m-8-8v16M1332.5 1149.2h16m-8-8v16M1332.5 1156.1h16m-8-8v16M1332.5 1154.6h16m-8-8v16M1332.5 1155.1h16m-8-8v16M1336.5 1149.4h16m-8-8v16M1336.5 1151.9h16m-8-8v16M1336.5 1136.2h16m-8-8v16M1336.5 1132.6h16m-8-8v16M1336.5 1119.6h16m-8-8v16M1336.5 1109.2h16m-8-8v16M1336.5 1105.4h16m-8-8v16M1336.5 1084.4h16m-8-8v16M1340.5 1041.1h16m-8-8v16M1340.5 1036.6h16m-8-8v16M1340.5 1039.6h16m-8-8v16M1340.5 1043.9h16m-8-8v16M1340.5 1030.5h16m-8-8v16M1340.5 1049.6h16m-8-8v16M1340.5 1039.5h16m-8-8v16M1340.5 1022.7h16m-8-8v16M1340.5 1020.8h16m-8-8v16M1344.5 1016.1h16m-8-8v16M1344.5 994.5h16m-8-8v16M1344.5 1005.8h16m-8-8v16M1344.5 994.2h16m-8-8v16M1344.5 1019.8h16m-8-8v16M1344.5 1040.7h16m-8-8v16M1344.5 1024.3h16m-8-8v16M1344.5 1046.6h16m-8-8v16M1348.5 1050.5h16m-8-8v16M1348.5 1038.2h16m-8-8v16M1348.5 1057h16m-8-8v16M1348.5 1066.6h16m-8-8v16M1348.5 1067.1h16m-8-8v16M1348.5 1102.9h16m-8-8v16M1352.5 1124.4h16m-8-8v16M1352.5 1129.6h16m-8-8v16M1352.5 1133.4h16m-8-8v16M1352.5 1148.4h16m-8-8v16M1352.5 1148h16m-8-8v16M1352.5 1151.9h16m-8-8v16M1352.5 1156h16m-8-8v16M1352.5 1155.3h16m-8-8v16M1356.5 1156.2h16m-8-8v16M1356.5 1153.9h16m-8-8v16M1356.5 1146.9h16m-8-8v16M1356.5 1151h16m-8-8v16M1356.5 1153.1h16m-8-8v16M1360.5 1160.3h16m-8-8v16M1360.5 1158.7h16m-8-8v16M1360.5 1155.7h16m-8-8v16M1360.5 1151.9h16m-8-8v16M1360.5 1152.4h16m-8-8v16M1360.5 1152.2h16m-8-8v16M1360.5 1157.5h16m-8-8v16M1364.5 1162.4h16m-8-8v16M1364.5 1154.8h16m-8-8v16M1364.5 1154.6h16m-8-8v16M1364.5 1152.3h16m-8-8v16M1364.5 1154.4h16m-8-8v16M1364.5 1148h16m-8-8v16M1364.5 1144.2h16m-8-8v16M1364.5 1143.6h16m-8-8v16M1368.5 1121.4h16m-8-8v16M1368.5 1108.5h16m-8-8v16M1368.5 1076.1h16m-8-8v16M1368.5 1029.8h16m-8-8v16M1368.5 1021.1h16m-8-8v16M1368.5 964.3h16m-8-8v16M1368.5 972.1h16m-8-8v16M1372.5 1023.5h16m-8-8v16M1372.5 1068.9h16m-8-8v16M1372.5 1094.1h16m-8-8v16M1372.5 1107.9h16m-8-8v16M1372.5 1108h16m-8-8v16M1372.5 1109.1h16m-8-8v16M1372.5 1101.8h16m-8-8v16M1372.5 1078.3h16m-8-8v16M1372.5 1078.2h16m-8-8v16M1376.5 1068.6h16m-8-8v16M1376.5 1051.9h16m-8-8v16M1376.5 1060.8h16m-8-8v16M1376.5 1093h16m-8-8v16M1376.5 1094.9h16m-8-8v16M1376.5 1114.3h16m-8-8v16M1376.5 1119.4h16m-8-8v16M1380.5 1154.9h16m-8-8v16M1380.5 1155.5h16m-8-8v16M1380.5 1157.1h16m-8-8v16M1380.5 1150.5h16m-8-8v16M1380.5 1158.7h16m-8-8v16M1384.5 1151.2h16m-8-8v16M1384.5 1158.7h16m-8-8v16M1384.5 1159.2h16m-8-8v16M1384.5 1161.3h16m-8-8v16M1384.5 1167.6h16m-8-8v16M1384.5 1162.7h16m-8-8v16M1384.5 1160.9h16m-8-8v16M1388.5 1153.9h16m-8-8v16M1388.5 1159.6h16m-8-8v16M1388.5 1155.9h16m-8-8v16M1388.5 1156.5h16m-8-8v16M1388.5 1158.9h16m-8-8v16M1388.5 1152.1h16m-8-8v16M1392.5 1158.9h16m-8-8v16M1392.5 1159.2h16m-8-8v16M1392.5 1156.2h16m-8-8v16M1392.5 1161h16m-8-8v16M1392.5 1155.5h16m-8-8v16M1392.5 1152.5h16m-8-8v16M1392.5 1153.4h16m-8-8v16M1392.5 1155.4h16m-8-8v16M1396.5 1154h16m-8-8v16M1396.5 1148.4h16m-8-8v16M1396.5 1149h16m-8-8v16M1396.5 1142.6h16m-8-8v16M1396.5 1151.3h16m-8-8v16M1396.5 1150.4h16m-8-8v16M1396.5 1157.9h16m-8-8v16M1400.5 1149.5h16m-8-8v16M1400.5 1151.6h16m-8-8v16M1400.5 1157.3h16m-8-8v16M1400.5 1159.2h16m-8-8v16M1400.5 1155.4h16m-8-8v16M1400.5 1158.1h16m-8-8v16M1404.5 1158.6h16m-8-8v16M1404.5 1156.1h16m-8-8v16M1404.5 1161h16m-8-8v16M1404.5 1150.2h16m-8-8v16M1404.5 1156.4h16m-8-8v16M1404.5 1151.1h16m-8-8v16M1404.5 1152.9h16m-8-8v16M1404.5 1157.5h16m-8-8v16M1408.5 1154.6h16m-8-8v16M1408.5 1161.3h16m-8-8v16M1408.5 1159.2h16m-8-8v16M1408.5 1165.8h16m-8-8v16M1408.5 1150.4h16m-8-8v16M1408.5 1163.5h16m-8-8v16M1408.5 1158.1h16m-8-8v16M1408.5 1154.1h16m-8-8v16M1412.5 1151.5h16m-8-8v16M1412.5 1149.6h16m-8-8v16M1412.5 1144h16m-8-8v16M1412.5 1150.3h16m-8-8v16M1412.5 1154.9h16m-8-8v16M1412.5 1149.2h16m-8-8v16M1412.5 1152.2h16m-8-8v16M1412.5 1155.4h16m-8-8v16M1412.5 1154.2h16m-8-8v16M1416.5 1154.6h16m-8-8v16M1416.5 1154h16m-8-8v16M1416.5 1157.9h16m-8-8v16M1420.5 1154.1h16m-8-8v16M1420.5 1164h16m-8-8v16M1420.5 1150.5h16m-8-8v16M1420.5 1149.8h16m-8-8v16M1420.5 1152.4h16m-8-8v16M1420.5 1157h16m-8-8v16M1424.5 1159.1h16m-8-8v16M1424.5 1150.9h16m-8-8v16M1424.5 1158.5h16m-8-8v16M1424.5 1141.1h16m-8-8v16M1424.5 1130.2h16m-8-8v16M1424.5 1128.8h16m-8-8v16M1424.5 1101.6h16m-8-8v16M1428.5 1094.4h16m-8-8v16M1428.5 1096.9h16m-8-8v16M1428.5 1085.3h16m-8-8v16M1428.5 1089.7h16m-8-8v16M1428.5 1119.2h16m-8-8v16M1428.5 1110.9h16m-8-8v16M1432.5 1117h16m-8-8v16M1432.5 1110.9h16m-8-8v16M1432.5 1119.8h16m-8-8v16M1432.5 1130.6h16m-8-8v16M1432.5 1126.5h16m-8-8v16M1432.5 1130.7h16m-8-8v16M1432.5 1130.4h16m-8-8v16M1432.5 1139.3h16m-8-8v16M1432.5 1147.7h16m-8-8v16M1436.5 1152.2h16m-8-8v16M1436.5 1151h16m-8-8v16M1436.5 1153.8h16m-8-8v16M1436.5 1147.8h16m-8-8v16M1436.5 1150.4h16m-8-8v16M1436.5 1157.6h16m-8-8v16M1436.5 1154.7h16m-8-8v16M1440.5 1147.6h16m-8-8v16M1440.5 1153.5h16m-8-8v16M1440.5 1151.1h16m-8-8v16M1440.5 1149.3h16m-8-8v16M1440.5 1152.9h16m-8-8v16M1440.5 1133.3h16m-8-8v16M1440.5 1137.8h16m-8-8v16M1440.5 1126.4h16m-8-8v16M1440.5 1100.9h16m-8-8v16M1444.5 1098.6h16m-8-8v16M1444.5 1093.2h16m-8-8v16M1444.5 1094.8h16m-8-8v16M1444.5 1108.2h16m-8-8v16M1444.5 1100.5h16m-8-8v16M1444.5 1103h16m-8-8v16M1444.5 1105.8h16m-8-8v16M1444.5 1089.9h16m-8-8v16M1444.5 1094.1h16m-8-8v16M1448.5 1086h16m-8-8v16M1448.5 1080.9h16m-8-8v16M1448.5 1076.3h16m-8-8v16M1448.5 1081.8h16m-8-8v16M1448.5 1068.2h16m-8-8v16M1448.5 1075.9h16m-8-8v16M1448.5 1083h16m-8-8v16M1452.5 1104.1h16m-8-8v16M1452.5 1091.7h16m-8-8v16M1452.5 1110.5h16m-8-8v16M1452.5 1126.8h16m-8-8v16M1452.5 1137.7h16m-8-8v16M1452.5 1157.1h16m-8-8v16M1452.5 1156.9h16m-8-8v16M1456.5 1150.5h16m-8-8v16M1456.5 1153.6h16m-8-8v16M1456.5 1154.1h16m-8-8v16M1456.5 1153.3h16m-8-8v16M1456.5 1165.4h16m-8-8v16M1456.5 1158h16m-8-8v16M1456.5 1160.5h16m-8-8v16M1456.5 1162.5h16m-8-8v16M1456.5 1159.7h16m-8-8v16M1460.5 1158.9h16m-8-8v16M1460.5 1164h16m-8-8v16M1460.5 1149.6h16m-8-8v16M1460.5 1162.6h16m-8-8v16M1460.5 1165.3h16m-8-8v16M1460.5 1157.1h16m-8-8v16M1460.5 1156.3h16m-8-8v16M1464.5 1162.9h16m-8-8v16M1464.5 1153.9h16m-8-8v16M1464.5 1161.3h16m-8-8v16M1464.5 1157.6h16m-8-8v16M1464.5 1153.7h16m-8-8v16M1464.5 1153.6h16m-8-8v16M1464.5 1155.8h16m-8-8v16M1468.5 1151h16m-8-8v16M1468.5 1154h16m-8-8v16M1468.5 1149.6h16m-8-8v16M1468.5 1159.2h16m-8-8v16M1468.5 1147.8h16m-8-8v16M1468.5 1157.1h16m-8-8v16M1468.5 1152.2h16m-8-8v16M1472.5 1152.3h16m-8-8v16M1472.5 1144.2h16m-8-8v16M1472.5 1147.9h16m-8-8v16M1472.5 1142.4h16m-8-8v16M1472.5 1154.4h16m-8-8v16M1476.5 1156.6h16m-8-8v16M1476.5 1155.5h16m-8-8v16M1476.5 1155.7h16m-8-8v16M1476.5 1160.4h16m-8-8v16M1476.5 1158.6h16m-8-8v16M1476.5 1161.7h16m-8-8v16M1480.5 1159.6h16m-8-8v16M1480.5 1163.8h16m-8-8v16M1480.5 1159.3h16m-8-8v16M1480.5 1164.4h16m-8-8v16M1480.5 1153.7h16m-8-8v16M1480.5 1161.2h16m-8-8v16M1480.5 1157.2h16m-8-8v16M1484.5 1155.1h16m-8-8v16M1484.5 1153.9h16m-8-8v16M1484.5 1143.9h16m-8-8v16M1484.5 1162.1h16m-8-8v16M1484.5 1147.5h16m-8-8v16M1484.5 1154h16m-8-8v16M1484.5 1136.3h16m-8-8v16M1488.5 1135.9h16m-8-8v16M1488.5 1143.5h16m-8-8v16M1488.5 1146.3h16m-8-8v16M1488.5 1145.1h16m-8-8v16M1488.5 1151.2h16m-8-8v16M1488.5 1152.2h16m-8-8v16M1492.5 1151.4h16m-8-8v16M1492.5 1159.3h16m-8-8v16M1492.5 1155.7h16m-8-8v16M1492.5 1162.2h16m-8-8v16M1492.5 1156.7h16m-8-8v16M1496.5 1154.3h16m-8-8v16M1496.5 1158.4h16m-8-8v16M1496.5 1149.5h16m-8-8v16M1496.5 1144.1h16m-8-8v16M1496.5 1154.5h16m-8-8v16M1496.5 1167.4h16m-8-8v16M1500.5 1143h16m-8-8v16M1500.5 1140.3h16m-8-8v16M1500.5 1149.2h16m-8-8v16M1500.5 1143.4h16m-8-8v16M1500.5 1158.3h16m-8-8v16M1500.5 1141.7h16m-8-8v16M1504.5 1145h16m-8-8v16M1504.5 1151.7h16m-8-8v16M1504.5 1145.1h16m-8-8v16M1504.5 1146.8h16m-8-8v16M1504.5 1160.3h16m-8-8v16M1508.5 1153.7h16m-8-8v16M1508.5 1159.6h16m-8-8v16M1508.5 1157.9h16m-8-8v16M1508.5 1158.2h16m-8-8v16M1508.5 1159.9h16m-8-8v16M1508.5 1161.5h16m-8-8v16M1508.5 1149.6h16m-8-8v16M1508.5 1157.7h16m-8-8v16M1512.5 1161.1h16m-8-8v16M1512.5 1155.2h16m-8-8v16M1512.5 1154.8h16m-8-8v16M1512.5 1158.5h16m-8-8v16M1512.5 1156.8h16m-8-8v16M1512.5 1157.7h16m-8-8v16M1512.5 1160.2h16m-8-8v16M1516.5 1150.6h16m-8-8v16M1516.5 1138.7h16m-8-8v16M1516.5 1150.8h16m-8-8v16M1516.5 1144.4h16m-8-8v16M1516.5 1135.1h16m-8-8v16M1516.5 1136.1h16m-8-8v16M1516.5 1137.1h16m-8-8v16M1516.5 1129.4h16m-8-8v16M1516.5 1118h16m-8-8v16M1516.5 1111.5h16m-8-8v16M1520.5 1110h16m-8-8v16M1520.5 1099.8h16m-8-8v16M1520.5 1105.1h16m-8-8v16M1520.5 1109.9h16m-8-8v16M1520.5 1115.9h16m-8-8v16M1520.5 1116.3h16m-8-8v16M1520.5 1119.8h16m-8-8v16M1520.5 1130.2h16m-8-8v16M1520.5 1133.3h16m-8-8v16M1524.5 1142h16m-8-8v16M1524.5 1152.5h16m-8-8v16M1524.5 1147.1h16m-8-8v16M1524.5 1155.5h16m-8-8v16M1524.5 1153h16m-8-8v16M1524.5 1153.7h16m-8-8v16M1528.5 1160.8h16m-8-8v16M1528.5 1162.9h16m-8-8v16M1528.5 1154.7h16m-8-8v16M1528.5 1161h16m-8-8v16M1528.5 1150.8h16m-8-8v16M1528.5 1160.2h16m-8-8v16M1528.5 1159.7h16m-8-8v16M1532.5 1161.4h16m-8-8v16M1532.5 1156.3h16m-8-8v16M1532.5 1157.5h16m-8-8v16M1532.5 1153h16m-8-8v16M1532.5 1155.2h16m-8-8v16M1532.5 1151.9h16m-8-8v16M1536.5 1143.5h16m-8-8v16M1536.5 1146.4h16m-8-8v16M1536.5 1139h16m-8-8v16M1536.5 1136.9h16m-8-8v16M1536.5 1138.1h16m-8-8v16M1536.5 1134.5h16m-8-8v16M1540.5 1143.7h16m-8-8v16M1540.5 1138.9h16m-8-8v16M1540.5 1145.1h16m-8-8v16M1540.5 1151.7h16m-8-8v16M1540.5 1156.9h16m-8-8v16M1540.5 1146.5h16m-8-8v16M1540.5 1153.1h16m-8-8v16M1540.5 1153.4h16m-8-8v16M1544.5 1147.9h16m-8-8v16M1544.5 1146.1h16m-8-8v16M1544.5 1161.4h16m-8-8v16M1544.5 1157.5h16m-8-8v16M1544.5 1159.9h16m-8-8v16M1548.5 1158.8h16m-8-8v16M1548.5 1155.1h16m-8-8v16M1548.5 1158.4h16m-8-8v16M1548.5 1160.6h16m-8-8v16M1548.5 1161.3h16m-8-8v16M1552.5 1159h16m-8-8v16M1552.5 1158h16m-8-8v16M1552.5 1167.2h16m-8-8v16M1552.5 1154.7h16m-8-8v16M1552.5 1149.4h16m-8-8v16M1556.5 1158.6h16m-8-8v16M1556.5 1157.1h16m-8-8v16M1556.5 1151.4h16m-8-8v16M1556.5 1144.8h16m-8-8v16M1556.5 1149h16m-8-8v16M1556.5 1153.4h16m-8-8v16M1556.5 1155.1h16m-8-8v16M1560.5 1160.7h16m-8-8v16M1560.5 1156.2h16m-8-8v16M1560.5 1154.4h16m-8-8v16M1560.5 1161.2h16m-8-8v16M1560.5 1164.1h16m-8-8v16M1560.5 1154.3h16m-8-8v16M1564.5 1155.3h16m-8-8v16M1564.5 1161.8h16m-8-8v16M1564.5 1155.2h16m-8-8v16M1564.5 1161.7h16m-8-8v16M1564.5 1164h16m-8-8v16M1564.5 1164.7h16m-8-8v16M1568.5 1159.9h16m-8-8v16M1568.5 1162.6h16m-8-8v16M1568.5 1155.1h16m-8-8v16M1568.5 1162.7h16m-8-8v16M1568.5 1163.9h16m-8-8v16M1568.5 1155.9h16m-8-8v16M1572.5 1159.5h16m-8-8v16M1572.5 1167.9h16m-8-8v16M1572.5 1163.2h16m-8-8v16M1572.5 1158.2h16m-8-8v16M1572.5 1160.5h16m-8-8v16M1572.5 1166h16m-8-8v16M1572.5 1157.5h16m-8-8v16M1572.5 1162.7h16m-8-8v16M1572.5 1154.6h16m-8-8v16M1576.5 1160.2h16m-8-8v16M1576.5 1155.4h16m-8-8v16M1576.5 1162.1h16m-8-8v16M1576.5 1163.4h16m-8-8v16M1576.5 1161.9h16m-8-8v16M1576.5 1151.4h16m-8-8v16M1580.5 1154.2h16m-8-8v16M1580.5 1145.2h16m-8-8v16M1580.5 1122.1h16m-8-8v16M1580.5 1106.6h16m-8-8v16M1580.5 1101.7h16m-8-8v16M1580.5 1104.2h16m-8-8v16M1580.5 1090.3h16m-8-8v16M1584.5 1087.3h16m-8-8v16M1584.5 1098h16m-8-8v16M1584.5 1101.4h16m-8-8v16M1584.5 1119.7h16m-8-8v16M1584.5 1127.4h16m-8-8v16M1584.5 1132h16m-8-8v16M1588.5 1132.9h16m-8-8v16M1588.5 1154.5h16m-8-8v16M1588.5 1149.6h16m-8-8v16M1588.5 1152h16m-8-8v16M1592.5 1156.7h16m-8-8v16M1592.5 1155.6h16m-8-8v16M1592.5 1154.4h16m-8-8v16M1592.5 1154.6h16m-8-8v16M1592.5 1151.1h16m-8-8v16M1592.5 1147.5h16m-8-8v16M1592.5 1149.9h16m-8-8v16M1592.5 1146.6h16m-8-8v16M1596.5 1145.3h16m-8-8v16M1596.5 1138.7h16m-8-8v16M1596.5 1129.9h16m-8-8v16M1596.5 1127.3h16m-8-8v16M1596.5 1139.7h16m-8-8v16M1596.5 1121h16m-8-8v16M1596.5 1131.4h16m-8-8v16M1596.5 1133.8h16m-8-8v16M1600.5 1129.7h16m-8-8v16M1600.5 1137.4h16m-8-8v16M1600.5 1143.3h16m-8-8v16M1600.5 1150.2h16m-8-8v16M1600.5 1151.6h16m-8-8v16M1600.5 1150h16m-8-8v16M1604.5 1140.9h16m-8-8v16M1604.5 1155.3h16m-8-8v16M1604.5 1150.1h16m-8-8v16M1604.5 1144.5h16m-8-8v16M1604.5 1144h16m-8-8v16M1604.5 1118h16m-8-8v16M1604.5 1105.7h16m-8-8v16M1608.5 1098.3h16m-8-8v16M1608.5 1095.1h16m-8-8v16M1608.5 1090.6h16m-8-8v16M1608.5 1091.6h16m-8-8v16M1608.5 1092.6h16m-8-8v16M1608.5 1102h16m-8-8v16M1608.5 1104.9h16m-8-8v16M1612.5 1108h16m-8-8v16M1612.5 1124.9h16m-8-8v16M1612.5 1123h16m-8-8v16M1612.5 1111.8h16m-8-8v16M1612.5 1114.1h16m-8-8v16M1612.5 1114.4h16m-8-8v16M1612.5 1115.9h16m-8-8v16M1612.5 1115.4h16m-8-8v16M1612.5 1125.8h16m-8-8v16M1616.5 1121h16m-8-8v16M1616.5 1134.5h16m-8-8v16M1616.5 1133.4h16m-8-8v16M1616.5 1154.3h16m-8-8v16M1616.5 1159h16m-8-8v16M1620.5 1156h16m-8-8v16M1620.5 1168.5h16m-8-8v16M1620.5 1169h16m-8-8v16M1620.5 1165.2h16m-8-8v16M1620.5 1168h16m-8-8v16M1624.5 1154.8h16m-8-8v16M1624.5 1166.7h16m-8-8v16M1624.5 1161.1h16m-8-8v16M1624.5 1168.9h16m-8-8v16M1624.5 1163.1h16m-8-8v16M1624.5 1159.2h16m-8-8v16M1624.5 1162.6h16m-8-8v16M1624.5 1158.2h16m-8-8v16M1624.5 1163.4h16m-8-8v16M1628.5 1163.6h16m-8-8v16M1628.5 1154.5h16m-8-8v16M1628.5 1161.4h16m-8-8v16M1628.5 1164.6h16m-8-8v16M1628.5 1165.2h16m-8-8v16M1628.5 1166.6h16m-8-8v16M1632.5 1162.5h16m-8-8v16M1632.5 1163.7h16m-8-8v16M1632.5 1154.2h16m-8-8v16M1632.5 1171.3h16m-8-8v16M1632.5 1158.7h16m-8-8v16M1632.5 1158.9h16m-8-8v16M1636.5 1163.4h16m-8-8v16M1636.5 1165.5h16m-8-8v16M1636.5 1150.8h16m-8-8v16M1636.5 1157.8h16m-8-8v16M1636.5 1164.9h16m-8-8v16M1636.5 1147.8h16m-8-8v16M1636.5 1147h16m-8-8v16M1640.5 1151.4h16m-8-8v16M1640.5 1152.3h16m-8-8v16M1640.5 1152.2h16m-8-8v16M1640.5 1143.1h16m-8-8v16M1640.5 1143.6h16m-8-8v16M1640.5 1160.6h16m-8-8v16M1640.5 1155.8h16m-8-8v16M1640.5 1155.1h16m-8-8v16M1644.5 1155.7h16m-8-8v16M1644.5 1158.2h16m-8-8v16M1644.5 1160.7h16m-8-8v16M1644.5 1161.9h16m-8-8v16M1644.5 1164.4h16m-8-8v16M1644.5 1162.7h16m-8-8v16M1648.5 1156.8h16m-8-8v16M1648.5 1160.7h16m-8-8v16M1648.5 1160.4h16m-8-8v16M1648.5 1161h16m-8-8v16M1648.5 1158.3h16m-8-8v16M1648.5 1155.7h16m-8-8v16M1648.5 1157.5h16m-8-8v16M1648.5 1163h16m-8-8v16M1652.5 1164.5h16m-8-8v16M1652.5 1159.4h16m-8-8v16M1652.5 1160.8h16m-8-8v16M1652.5 1163.3h16m-8-8v16M1652.5 1170.1h16m-8-8v16M1652.5 1159.9h16m-8-8v16M1652.5 1159.7h16m-8-8v16M1656.5 1168h16m-8-8v16M1656.5 1158.8h16m-8-8v16M1656.5 1161.1h16m-8-8v16M1656.5 1169.2h16m-8-8v16M1660.5 1160h16m-8-8v16M1660.5 1161.1h16m-8-8v16M1660.5 1162.4h16m-8-8v16M1660.5 1157.7h16m-8-8v16M1660.5 1155.1h16m-8-8v16M1660.5 1155.5h16m-8-8v16M1660.5 1160.4h16m-8-8v16M1664.5 1155.3h16m-8-8v16M1664.5 1155.6h16m-8-8v16M1664.5 1146.4h16m-8-8v16M1664.5 1155.8h16m-8-8v16M1664.5 1156.2h16m-8-8v16M1664.5 1165.1h16m-8-8v16M1664.5 1156.5h16m-8-8v16M1668.5 1166.7h16m-8-8v16M1668.5 1157.1h16m-8-8v16M1668.5 1162.8h16m-8-8v16M1668.5 1164.8h16m-8-8v16M1668.5 1163.3h16m-8-8v16M1668.5 1154.5h16m-8-8v16M1672.5 1162.2h16m-8-8v16M1672.5 1160.7h16m-8-8v16M1672.5 1167.4h16m-8-8v16M1672.5 1162.9h16m-8-8v16M1672.5 1158h16m-8-8v16M1676.5 1168.4h16m-8-8v16M1676.5 1165.7h16m-8-8v16M1676.5 1167.9h16m-8-8v16M1676.5 1156.7h16m-8-8v16M1680.5 1160.6h16m-8-8v16M1680.5 1155.9h16m-8-8v16M1680.5 1153.4h16m-8-8v16M1680.5 1155h16m-8-8v16M1680.5 1160.5h16m-8-8v16M1680.5 1157.7h16m-8-8v16M1680.5 1156.4h16m-8-8v16M1680.5 1160.1h16m-8-8v16M1684.5 1161.8h16m-8-8v16M1684.5 1160.3h16m-8-8v16M1684.5 1160.1h16m-8-8v16M1684.5 1164h16m-8-8v16M1684.5 1161.2h16m-8-8v16M1684.5 1166.1h16m-8-8v16M1684.5 1167.3h16m-8-8v16M1684.5 1163.8h16m-8-8v16M1688.5 1157.8h16m-8-8v16M1688.5 1161.9h16m-8-8v16M1688.5 1156.8h16m-8-8v16M1688.5 1163.7h16m-8-8v16M1688.5 1167.8h16m-8-8v16M1688.5 1164.3h16m-8-8v16M1688.5 1155.9h16m-8-8v16M1688.5 1159.9h16m-8-8v16M1688.5 1157.7h16m-8-8v16M1692.5 1157.2h16m-8-8v16M1692.5 1159.4h16m-8-8v16M1692.5 1153.8h16m-8-8v16M1692.5 1152.6h16m-8-8v16M1692.5 1153.1h16m-8-8v16M1696.5 1156.3h16m-8-8v16M1696.5 1147.4h16m-8-8v16M1696.5 1161.7h16m-8-8v16M1696.5 1155.8h16m-8-8v16M1696.5 1160.2h16m-8-8v16M1700.5 1156.5h16m-8-8v16M1700.5 1159.5h16m-8-8v16M1700.5 1162.1h16m-8-8v16M1700.5 1148.5h16m-8-8v16M1700.5 1161.4h16m-8-8v16M1700.5 1164.4h16m-8-8v16M1700.5 1161.2h16m-8-8v16M1700.5 1161.3h16m-8-8v16M1700.5 1160h16m-8-8v16M1704.5 1162.6h16m-8-8v16M1704.5 1168.9h16m-8-8v16M1704.5 1161.3h16m-8-8v16M1704.5 1164.6h16m-8-8v16M1704.5 1164.5h16m-8-8v16M1704.5 1169.2h16m-8-8v16M1704.5 1165.7h16m-8-8v16M1704.5 1166.3h16m-8-8v16M1704.5 1163.6h16m-8-8v16M1704.5 1169.1h16m-8-8v16M1708.5 1163.2h16m-8-8v16M1708.5 1162.8h16m-8-8v16M1708.5 1167.6h16m-8-8v16M1708.5 1165.5h16m-8-8v16M1708.5 1166.3h16m-8-8v16M1708.5 1159.1h16m-8-8v16M1708.5 1172.5h16m-8-8v16M1708.5 1168.5h16m-8-8v16M1712.5 1157.6h16m-8-8v16M1712.5 1163.1h16m-8-8v16M1712.5 1159.5h16m-8-8v16M1712.5 1163h16m-8-8v16M1712.5 1151h16m-8-8v16M1712.5 1154.8h16m-8-8v16M1712.5 1153.5h16m-8-8v16M1712.5 1163.7h16m-8-8v16M1716.5 1159.6h16m-8-8v16M1716.5 1157.6h16m-8-8v16M1716.5 1160.4h16m-8-8v16M1716.5 1159h16m-8-8v16M1716.5 1164.1h16m-8-8v16M1716.5 1159.7h16m-8-8v16M1720.5 1158.6h16m-8-8v16M1720.5 1161h16m-8-8v16M1720.5 1160.7h16m-8-8v16M1720.5 1164.4h16m-8-8v16M1720.5 1163h16m-8-8v16M1720.5 1164.5h16m-8-8v16M1724.5 1168.8h16m-8-8v16M1724.5 1160.8h16m-8-8v16M1724.5 1157.8h16m-8-8v16M1724.5 1165.7h16m-8-8v16M1724.5 1157.5h16m-8-8v16M1724.5 1166.6h16m-8-8v16M1724.5 1155h16m-8-8v16M1728.5 1166.4h16m-8-8v16M1728.5 1159h16m-8-8v16M1728.5 1156.1h16m-8-8v16M1728.5 1156.3h16m-8-8v16M1728.5 1168.1h16m-8-8v16M1728.5 1159.5h16m-8-8v16M1732.5 1157.5h16m-8-8v16M1732.5 1153.3h16m-8-8v16M1732.5 1159.9h16m-8-8v16M1732.5 1157.4h16m-8-8v16M1732.5 1151.8h16m-8-8v16M1736.5 1131.9h16m-8-8v16M1736.5 1107h16m-8-8v16M1736.5 1100.2h16m-8-8v16M1736.5 1079.6h16m-8-8v16M1736.5 1064.4h16m-8-8v16M1736.5 1067.6h16m-8-8v16M1736.5 1038.5h16m-8-8v16M1740.5 1046.7h16m-8-8v16M1740.5 1064.3h16m-8-8v16M1740.5 1066.6h16m-8-8v16M1740.5 1094.7h16m-8-8v16M1740.5 1123.9h16m-8-8v16M1740.5 1129.2h16m-8-8v16M1740.5 1132.8h16m-8-8v16M1744.5 1152.4h16m-8-8v16M1744.5 1157.4h16m-8-8v16M1744.5 1155.7h16m-8-8v16M1744.5 1157.7h16m-8-8v16M1748.5 1157.8h16m-8-8v16M1748.5 1164.9h16m-8-8v16M1748.5 1156.5h16m-8-8v16M1748.5 1161h16m-8-8v16M1748.5 1161.5h16m-8-8v16M1752.5 1162.3h16m-8-8v16M1752.5 1162.6h16m-8-8v16M1752.5 1166.5h16m-8-8v16M1752.5 1160.1h16m-8-8v16M1752.5 1167.7h16m-8-8v16M1752.5 1157.4h16m-8-8v16M1752.5 1157.6h16m-8-8v16M1756.5 1161.2h16m-8-8v16M1756.5 1153h16m-8-8v16M1756.5 1159.3h16m-8-8v16M1756.5 1152.8h16m-8-8v16M1756.5 1151.8h16m-8-8v16M1756.5 1156.2h16m-8-8v16M1756.5 1138.5h16m-8-8v16M1756.5 1132.1h16m-8-8v16M1756.5 1134.7h16m-8-8v16M1760.5 1120.1h16m-8-8v16M1760.5 1124h16m-8-8v16M1760.5 1123.1h16m-8-8v16M1760.5 1117.3h16m-8-8v16M1760.5 1123.2h16m-8-8v16M1760.5 1134.1h16m-8-8v16M1760.5 1124.6h16m-8-8v16M1760.5 1141.9h16m-8-8v16M1764.5 1134.3h16m-8-8v16M1764.5 1128.8h16m-8-8v16M1764.5 1139.9h16m-8-8v16M1764.5 1147h16m-8-8v16M1764.5 1158.7h16m-8-8v16M1764.5 1156.6h16m-8-8v16M1768.5 1153.9h16m-8-8v16M1768.5 1153.5h16m-8-8v16M1768.5 1157.1h16m-8-8v16M1768.5 1158.8h16m-8-8v16M1768.5 1167.3h16m-8-8v16M1768.5 1164.6h16m-8-8v16M1772.5 1168h16m-8-8v16M1772.5 1162.5h16m-8-8v16M1772.5 1174.8h16m-8-8v16M1772.5 1166.8h16m-8-8v16M1772.5 1164.6h16m-8-8v16M1776.5 1165.6h16m-8-8v16M1776.5 1167.1h16m-8-8v16M1776.5 1162h16m-8-8v16M1776.5 1166.3h16m-8-8v16M1776.5 1167.5h16m-8-8v16M1776.5 1166.7h16m-8-8v16M1780.5 1171.1h16m-8-8v16M1780.5 1167.4h16m-8-8v16M1780.5 1163.3h16m-8-8v16M1780.5 1160.2h16m-8-8v16M1780.5 1160.8h16m-8-8v16M1780.5 1167h16m-8-8v16M1780.5 1165.4h16m-8-8v16M1784.5 1158.4h16m-8-8v16M1784.5 1163.1h16m-8-8v16M1784.5 1166h16m-8-8v16M1784.5 1158.8h16m-8-8v16M1784.5 1164h16m-8-8v16M1784.5 1164.2h16m-8-8v16M1784.5 1161.8h16m-8-8v16M1788.5 1162.1h16m-8-8v16M1788.5 1170.1h16m-8-8v16M1788.5 1159.4h16m-8-8v16M1788.5 1158.6h16m-8-8v16M1788.5 1163.2h16m-8-8v16M1788.5 1160.3h16m-8-8v16M1792.5 1160.6h16m-8-8v16M1792.5 1165.2h16m-8-8v16M1792.5 1163.2h16m-8-8v16M1792.5 1159.3h16m-8-8v16M1792.5 1157.1h16m-8-8v16M1792.5 1156.7h16m-8-8v16M1792.5 1160.8h16m-8-8v16M1796.5 1159.9h16m-8-8v16M1796.5 1164.6h16m-8-8v16M1796.5 1163.6h16m-8-8v16M1796.5 1155.1h16m-8-8v16M1796.5 1162.9h16m-8-8v16M1796.5 1160.6h16m-8-8v16M1796.5 1165.9h16m-8-8v16M1796.5 1164.3h16m-8-8v16M1796.5 1171.2h16m-8-8v16M1796.5 1164.9h16m-8-8v16M1800.5 1156.9h16m-8-8v16M1800.5 1160.5h16m-8-8v16M1800.5 1162.5h16m-8-8v16M1800.5 1164.9h16m-8-8v16M1800.5 1165.8h16m-8-8v16M1800.5 1162.9h16m-8-8v16M1800.5 1168.2h16m-8-8v16M1804.5 1169h16m-8-8v16M1804.5 1172h16m-8-8v16M1804.5 1171.6h16m-8-8v16M1804.5 1161h16m-8-8v16M1804.5 1164.5h16m-8-8v16M1804.5 1160.6h16m-8-8v16M1808.5 1167.3h16m-8-8v16M1808.5 1160.3h16m-8-8v16M1808.5 1163.9h16m-8-8v16M1808.5 1170.8h16m-8-8v16M1808.5 1168.3h16m-8-8v16M1808.5 1165.8h16m-8-8v16M1808.5 1163h16m-8-8v16M1812.5 1161.6h16m-8-8v16M1812.5 1160h16m-8-8v16M1812.5 1166.8h16m-8-8v16M1812.5 1166.4h16m-8-8v16M1812.5 1164h16m-8-8v16M1812.5 1166.3h16m-8-8v16M1812.5 1167h16m-8-8v16M1816.5 1158.7h16m-8-8v16M1816.5 1165.7h16m-8-8v16M1816.5 1168.4h16m-8-8v16M1816.5 1163.8h16m-8-8v16M1816.5 1165h16m-8-8v16M1816.5 1164.8h16m-8-8v16M1816.5 1165.1h16m-8-8v16M1820.5 1162.3h16m-8-8v16M1820.5 1153.7h16m-8-8v16M1820.5 1153.1h16m-8-8v16M1820.5 1159.7h16m-8-8v16M1820.5 1154.8h16m-8-8v16M1820.5 1155.4h16m-8-8v16M1820.5 1156.8h16m-8-8v16M1824.5 1156.9h16m-8-8v16M1824.5 1163.1h16m-8-8v16M1824.5 1160.9h16m-8-8v16M1824.5 1159.9h16m-8-8v16M1824.5 1165.9h16m-8-8v16M1824.5 1163.8h16m-8-8v16M1824.5 1159.1h16m-8-8v16M1824.5 1164.5h16m-8-8v16M1828.5 1161.6h16m-8-8v16M1828.5 1166.4h16m-8-8v16M1828.5 1159.7h16m-8-8v16M1828.5 1168.5h16m-8-8v16M1828.5 1163.5h16m-8-8v16M1828.5 1161.8h16m-8-8v16M1832.5 1162h16m-8-8v16M1832.5 1167.9h16m-8-8v16M1832.5 1159.7h16m-8-8v16M1832.5 1166.1h16m-8-8v16M1832.5 1168.5h16m-8-8v16M1832.5 1164.5h16m-8-8v16M1832.5 1160.9h16m-8-8v16M1836.5 1170.8h16m-8-8v16M1836.5 1161.7h16m-8-8v16M1836.5 1156.8h16m-8-8v16M1836.5 1164.5h16m-8-8v16M1836.5 1163.6h16m-8-8v16M1840.5 1159.8h16m-8-8v16M1840.5 1171.7h16m-8-8v16M1840.5 1153.6h16m-8-8v16M1840.5 1160.9h16m-8-8v16M1840.5 1157.4h16m-8-8v16M1840.5 1162.6h16m-8-8v16M1840.5 1153.4h16m-8-8v16M1844.5 1155.8h16m-8-8v16M1844.5 1154.3h16m-8-8v16M1844.5 1156.9h16m-8-8v16M1844.5 1153.7h16m-8-8v16M1844.5 1154.8h16m-8-8v16M1844.5 1152.5h16m-8-8v16M1844.5 1157.4h16m-8-8v16M1844.5 1167.6h16m-8-8v16M1844.5 1155h16m-8-8v16M1848.5 1163.6h16m-8-8v16M1848.5 1168.8h16m-8-8v16M1848.5 1166.1h16m-8-8v16M1848.5 1158.5h16m-8-8v16M1848.5 1159.4h16m-8-8v16M1848.5 1164.5h16m-8-8v16M1852.5 1165h16m-8-8v16M1852.5 1166.9h16m-8-8v16M1852.5 1158.7h16m-8-8v16M1852.5 1165.4h16m-8-8v16M1852.5 1168.1h16m-8-8v16M1852.5 1162.9h16m-8-8v16M1852.5 1161.7h16m-8-8v16M1856.5 1162.5h16m-8-8v16M1856.5 1163h16m-8-8v16M1856.5 1168h16m-8-8v16M1856.5 1165.9h16m-8-8v16M1856.5 1155.4h16m-8-8v16M1856.5 1168.8h16m-8-8v16M1860.5 1163.3h16m-8-8v16M1860.5 1165.2h16m-8-8v16M1860.5 1157.9h16m-8-8v16M1860.5 1154.7h16m-8-8v16M1860.5 1151.7h16m-8-8v16M1860.5 1156h16m-8-8v16M1860.5 1150.2h16m-8-8v16M1860.5 1151h16m-8-8v16M1864.5 1148.5h16m-8-8v16M1864.5 1144.9h16m-8-8v16M1864.5 1143h16m-8-8v16M1864.5 1142.5h16m-8-8v16M1864.5 1151.6h16m-8-8v16M1864.5 1155.3h16m-8-8v16M1864.5 1152.7h16m-8-8v16M1864.5 1159.9h16m-8-8v16M1868.5 1155.2h16m-8-8v16M1868.5 1158.7h16m-8-8v16M1868.5 1156.9h16m-8-8v16M1868.5 1161.2h16m-8-8v16M1868.5 1167.8h16m-8-8v16M1868.5 1162.6h16m-8-8v16M1868.5 1166.7h16m-8-8v16M1868.5 1165.6h16m-8-8v16M1872.5 1163.8h16m-8-8v16M1872.5 1171h16m-8-8v16M1872.5 1166.1h16m-8-8v16M1872.5 1163.3h16m-8-8v16M1876.5 1165.3h16m-8-8v16M1876.5 1169.1h16m-8-8v16M1876.5 1168.7h16m-8-8v16M1876.5 1166.8h16m-8-8v16M1876.5 1163.9h16m-8-8v16M1876.5 1164.9h16m-8-8v16M1876.5 1161.6h16m-8-8v16M1876.5 1162.8h16m-8-8v16M1880.5 1161.2h16m-8-8v16M1880.5 1163.8h16m-8-8v16M1880.5 1164.9h16m-8-8v16M1880.5 1157.6h16m-8-8v16M1880.5 1156.7h16m-8-8v16M1880.5 1158.1h16m-8-8v16M1880.5 1144.3h16m-8-8v16M1880.5 1156.5h16m-8-8v16M1884.5 1152.9h16m-8-8v16M1884.5 1149.7h16m-8-8v16M1884.5 1155.6h16m-8-8v16M1884.5 1149.5h16m-8-8v16M1884.5 1141.8h16m-8-8v16M1884.5 1148.6h16m-8-8v16M1884.5 1153.4h16m-8-8v16M1888.5 1157.3h16m-8-8v16M1888.5 1159.7h16m-8-8v16M1888.5 1158.8h16m-8-8v16M1888.5 1156.7h16m-8-8v16M1888.5 1160.1h16m-8-8v16"/>
<polyline fill="none" stroke="#ff0000" stroke-width="2.6" stroke-linejoin="miter" points="264.5,973.4 283,984.5 292.6,989.2 295,989.5 296.6,988.7 297.8,986.8 298.6,983.2 299.5,970 299.9,951.3 301.7,742 303.9,964.2 304.3,970.7 304.7,967.3 306.4,899 308.3,982 309.1,992.8 309.9,995.9 311.5,998.7 313.9,1001.1 317.5,1003.6 323.6,1007.1 326.8,1008.3 327.6,1008.1 328.4,1006.9 330.7,1000 333.6,1010.9 334.8,1012.6 337.2,1014.2 354.5,1022.8 377.4,1033.1 401.9,1043.3 416.8,1048.6 419.2,1048.8 420.4,1047.3 423.3,1025 426,1048.5 427.2,1051.6 430,1053.5 448.9,1060.5 456.1,1062.8 459.3,1063.3 460.1,1062.9 460.9,1061.2 463.3,1050 465.4,1061.5 467,1065.6 473,1068.2 481.4,1070.2 482.6,1069.7 483.4,1068 486,1052 488.7,1068.9 489.5,1069.6 489.9,1068.8 492.3,1055 494.7,1070.8 495.5,1073.3 497.1,1075 505.1,1077.8 525.6,1083.4 544.9,1088.1 554.5,1089.8 556.6,1089.7 557.8,1088.4 560.4,1080 562.6,1084.5 563.4,1081.2 565.9,1013 567.4,1031.1 568.2,1029.1 568.6,1031.1 570.2,1064.5 571.4,1070.1 573.8,1090.3 575.4,1092.9 579.1,1094.2 583.9,1094.2 586.7,1092.6 588.3,1087.7 591.1,1068.6 591.9,1040.8 593.1,950.4 593.5,939.5 593.9,938.1 594.3,920.2 596,584 597.5,775.1 598.7,641.4 600.3,987.4 601.1,1053.4 602,1065.4 603,1068 604.8,1082.8 605.6,1085.2 608,1070 610.8,1095.7 612,1099.4 613.6,1100.9 618,1102.9 625.7,1104.7 632.9,1105.7 637.7,1105.4 640.1,1104.3 642.1,1101.7 643.3,1098 644.1,1093.2 644.9,1079.7 645.7,1024.4 647.5,679 649,971.8 649.4,1026.8 650.2,1059.6 651,1015.1 652.5,800 654.6,1052.7 655,1059.7 655.8,1056.5 656.2,1058.7 658.2,1098.3 659,1103.7 660.2,1106.3 661.4,1107.1 662.2,1107 663.4,1104.7 664.6,1088.6 666.3,1044 668.2,1095.4 669,1105.5 669.8,1108.7 671.9,1110.7 675.9,1111.2 678.7,1109.9 679.9,1107.4 680.7,1101.2 682.8,1060 684.7,1089.4 685.1,1091.3 685.5,1090.4 686.3,1076.4 686.7,1055.2 687.5,928 689,478 690.7,980.2 691.5,1055.6 691.9,1055 692.3,1036 693.8,911 696,1087.8 696.8,1100.3 697.2,1102.2 698,1103.5 698.8,1102.7 699.6,1099.5 700.4,1088.5 701.6,981.8 703,697 704.8,1034.4 705.6,1076.7 706.4,1064.9 707.9,1013 710,1095.9 711.2,1110.6 712.4,1113.5 714,1114.7 715.2,1113.8 716,1110.3 718.9,1060 720.9,1100 722.1,1113.8 723.3,1117 724.5,1117.9 726.1,1118.2 728.9,1117.3 730.1,1116 730.9,1114.2 731.7,1109.2 732.5,1093.5 734.6,991 736.5,1078 736.9,1085.8 737.3,1085.5 738.5,990.5 740,697 741.8,993.3 742.2,998.2 743.2,954 745.4,1099.5 746.6,1111.9 747.4,1113.8 748.2,1114.3 748.6,1113.9 749.4,1110.9 750.2,1100.9 752.6,1029 755,1091.9 755.4,1091.9 755.8,1086.1 757.3,1052 759,1091.3 759.4,1095.4 759.8,1093.2 762,957 763.8,1071.9 764.2,1077.9 764.7,1075.5 765.1,1064.4 766.3,882 767.9,218 769.1,408.7 769.9,358.4 770,367 771.9,924 772.3,934.1 772.7,924 773,924 773.1,927.1 775.1,1091.7 776.3,1109.9 777.5,1115 778.7,1117.1 779.5,1116.8 779.9,1115.5 780.7,1108 783.2,1046 785.5,1108.9 786.3,1119.2 787.1,1123 788,1124.6 790,1126.3 792.4,1127.2 794.4,1127.2 795.6,1126.3 797.2,1121.1 799.2,1107.4 800,1105 800.8,1107.7 802.8,1122 804.4,1127.7 806,1129.3 808.4,1129.9 812.1,1130 813.7,1129.2 814.5,1127.4 815.3,1122.9 817.7,1096 820.1,1123 820.9,1127.9 821.7,1129.9 822.9,1130.9 824.5,1131.4 830.1,1131.9 833.7,1131.3 836.2,1129.4 837.4,1125.2 838.2,1115.1 840.6,1024 842.2,1069.4 842.6,1075.2 843,1075 843.9,1071 845.8,1114.7 846.6,1125.2 847.4,1129.1 848.6,1130.7 849.4,1130.7 850.2,1129.7 851.4,1125.8 853.4,1115 854,1114 854.6,1115.5 857.5,1130.5 858.3,1132.5 859.5,1133.8 861.9,1134.6 866.3,1135.1 870.3,1135.2 872.3,1134.7 873.9,1132.6 876.3,1124.9 877,1124 877.9,1125.6 879.9,1132.3 881.2,1134.3 882.4,1134.9 884.4,1134.8 886,1134.3 887.6,1133 889.2,1129.5 890,1122.8 890.8,1102.8 892.4,1022 892.8,1017.5 893.6,1032 894,1032.7 895.5,984 896.8,1027.3 898,1044.5 899.6,1105.8 900.8,1127.3 902,1131.2 902.8,1130.8 903.2,1129.7 906,1108 908.1,1127.1 909.3,1133.8 910.5,1135.5 912.5,1136 914.9,1135.4 916.9,1133.7 918.1,1131.4 918.9,1128.3 920.1,1110 922.6,910 924.1,960 925,973 926.5,1079.9 927.8,1122.9 928.6,1130.2 929.8,1133.9 931.8,1136.5 935.4,1138.3 939,1138.8 941,1138.1 942.2,1136.4 944.2,1130.9 945,1130 945.8,1131.2 948.2,1137.7 949.8,1139.4 955.9,1140.1 961.5,1139.4 962.7,1138.3 963.9,1135.5 966.3,1123.5 967,1122 967.9,1124 970.3,1133.7 971.1,1134.4 971.9,1133.1 973.1,1124.8 974,1110.7 976,1044.3 976.7,1032 979.2,1081.2 980,1073.6 981.2,1044.6 981.6,1043.5 983.6,1107.7 984.8,1128.8 985.6,1133.1 986.4,1134.6 987.2,1134.9 988,1134.6 989.2,1132.7 990,1128.6 990.8,1115.5 992.8,1015.3 993.2,1008.5 993.6,1009.9 994,1008.8 994.4,996.4 995.8,918 997.3,989.2 997.7,990.9 998.5,971.4 998.9,976.2 1000.9,1109.8 1001.7,1127.8 1002.5,1133.7 1003.7,1137.1 1006.1,1139.9 1010.1,1141.5 1014.5,1141.7 1015.7,1141 1016.5,1139.7 1019.3,1129 1020,1128 1021,1130.2 1023,1138.9 1024.6,1142 1026.6,1142.9 1030.2,1143.1 1033.4,1142.8 1035.4,1141.8 1036.6,1139.4 1037.4,1134.6 1040,1100 1042.6,1133.4 1043.9,1137.7 1044.7,1137.6 1045.5,1136.4 1046.3,1133.7 1047.1,1126.8 1047.9,1106.6 1050.3,917 1050.7,917.1 1051.9,946.3 1052.7,936.5 1053.1,943 1054.7,1070.6 1055.9,1119.2 1056.3,1122.8 1056.7,1122.6 1059,1099 1061.9,1137.6 1062.7,1141.1 1063.5,1142.6 1065.1,1143.9 1067.2,1144.7 1072,1145.5 1074.8,1144.9 1076.4,1142.9 1078.8,1136.6 1080,1135 1081.2,1136.8 1083.6,1143.4 1085.6,1146 1087.6,1146.7 1090.9,1147 1094.1,1146.9 1095.7,1146.4 1096.9,1144.9 1097.7,1142.5 1100.1,1127.1 1101,1124 1101.7,1126 1104.1,1141.9 1104.9,1144.7 1106.1,1146.7 1108.1,1147.6 1111.7,1147.9 1114.2,1147.6 1115.8,1146.6 1117.4,1142.1 1119.8,1126.5 1120.4,1125 1121.4,1128.6 1123.4,1142.2 1124.6,1146.2 1125.4,1147.3 1127,1148.1 1130.2,1148.3 1132.6,1147.7 1134.2,1145.8 1135.4,1140.8 1138.3,1107.2 1139,1103 1139.9,1108.6 1141.9,1135.4 1143.5,1145.5 1144.7,1147.8 1147.1,1149 1152.3,1149.5 1156.3,1148.8 1157.9,1147 1159.1,1142.3 1162,1108.4 1162.8,1103 1163.6,1107.6 1166,1139.1 1167.2,1146.2 1168.4,1148.7 1170.4,1149.9 1174.8,1150.7 1180.4,1150.8 1183.3,1149.9 1185.3,1146.5 1188.1,1135.6 1189,1134 1190.1,1136.1 1193.3,1147.8 1194.9,1149.7 1197.3,1149.8 1198.5,1148.8 1199.3,1147.1 1200.5,1139.4 1202.9,1097.3 1203.6,1092 1204.1,1095.7 1206.6,1138.2 1207.8,1146.8 1209,1149.4 1210.6,1150.3 1212.2,1150.3 1213.4,1149.5 1214.2,1148.3 1215.8,1142.9 1218.2,1129.7 1219,1128 1219.8,1129.6 1222.6,1143.5 1223.4,1145.3 1224.2,1145 1225,1141.8 1225.8,1134.8 1227.8,1104.3 1228.7,1098 1229.5,1103.1 1231.9,1139.1 1232.7,1145.3 1233.9,1149.5 1235.9,1151.2 1239.1,1151.6 1241.1,1150.7 1242.3,1148.3 1243.9,1137.4 1245.9,1109.7 1246.7,1105 1247.5,1110.4 1249.5,1138.1 1250.7,1147.1 1251.5,1149.7 1252.8,1151.3 1255.2,1151.9 1257.6,1151.3 1259.2,1149.8 1260,1147.8 1261.2,1137.3 1264,1054 1266.4,1114.6 1266.8,1115.3 1267.2,1111.6 1268.4,1092.8 1268.7,1092 1268.8,1092.5 1271.2,1140.1 1272,1147.3 1272.8,1150.2 1274,1151.7 1276.1,1152.4 1278.1,1152.2 1279.3,1150.9 1280.5,1147 1282.9,1129.4 1283.6,1127 1284.5,1130 1286.1,1140.5 1286.9,1142.1 1287.3,1141.3 1289.7,1118.8 1290.6,1114 1291.3,1117.5 1293.7,1144.2 1295.3,1151.3 1296.5,1152.7 1297.7,1153.1 1298.9,1152.8 1300.2,1151.6 1301.8,1147.3 1304.2,1136.4 1305,1135 1306.2,1137.7 1309,1149.6 1310.6,1152.2 1312.2,1152.5 1313.8,1151.3 1314.6,1149.7 1315.8,1141.8 1318.9,1051 1321,1092 1322.7,1075.8 1323.1,1078.4 1325.1,1133.1 1326.3,1147.9 1327.5,1151.9 1329.5,1153.7 1333.9,1154.6 1338.7,1153.9 1341.1,1152.5 1342.7,1150.2 1344.3,1141.3 1345.6,1119.5 1348,1047.4 1348.4,1045.4 1349.6,1052.7 1350,1052.3 1351.8,1034 1354,1067 1354.4,1067.5 1355.6,1062.9 1356,1066.1 1358.4,1128.3 1360,1147.4 1361.2,1151.3 1363.2,1153.4 1366.8,1154.4 1370.1,1153.7 1372.5,1151.1 1373.7,1147.2 1374.9,1130.8 1377.7,963 1379.7,1087.5 1380.5,1110 1381.3,1099.9 1383,1054 1386.1,1144 1386.9,1150.2 1387.7,1152.7 1389.3,1154.7 1391.3,1155.9 1395,1156.7 1397.8,1156 1399.4,1154.3 1402.2,1149.1 1403.4,1148 1404.6,1148.9 1408.2,1155.6 1409.4,1156.7 1411,1157.4 1413,1157.5 1415,1156.8 1419.9,1152 1421.1,1152.5 1423.9,1155.7 1425.9,1157 1429.1,1156.6 1431.1,1154.7 1432.3,1149.6 1433.1,1140 1435.7,1082 1437.9,1115.9 1438.3,1117.6 1439.2,1116.5 1439.6,1116.8 1440,1119.4 1442.4,1149.1 1443.6,1153.9 1444.8,1154.8 1446,1154.4 1447.2,1151.9 1448.4,1143.4 1451.2,1094 1451.6,1092.9 1452,1095.4 1453.6,1109.7 1454.4,1104.4 1455.6,1085.7 1456.4,1080.8 1458.4,1090.1 1459,1095 1462.1,1146.5 1463.3,1153.7 1464.1,1155.6 1465.7,1157.2 1469.3,1158.3 1472.1,1157.8 1473.7,1156.4 1476.9,1150.8 1478,1150 1478.9,1150.6 1481.7,1155.9 1483.3,1157.9 1485.4,1158.9 1487.8,1158.8 1490.2,1156.6 1493.8,1147.5 1495,1146 1496.2,1147.5 1499.8,1156.6 1501.4,1158.2 1503,1158.4 1504.2,1157.7 1505.4,1155.9 1508.7,1146.9 1510,1145 1511.1,1146.3 1513.9,1154.4 1515.5,1157.4 1517.5,1158.7 1520.3,1158.2 1521.5,1156.8 1522.3,1154.8 1523.5,1148.7 1526.3,1118.7 1527.5,1112 1528.3,1115.6 1531.6,1149.3 1532.8,1155.2 1534.4,1158.2 1536,1159 1538,1159.1 1539.2,1158.5 1540.4,1157.1 1542,1153 1544.8,1141.2 1546,1139 1547.2,1141.4 1550.8,1155.9 1552,1158.3 1553.6,1159.8 1556.9,1160.4 1559.3,1159.4 1560.9,1157.4 1564.1,1150.7 1565,1150 1566.1,1151 1569.3,1158 1571.3,1160.2 1573.3,1160.9 1576.1,1161 1582.2,1160 1583.8,1159.1 1585,1157.5 1586.6,1149.5 1587.8,1130.6 1589.4,1090.4 1590.2,1081.2 1593,1110 1595.4,1145.6 1596.6,1154 1597.8,1156.3 1599,1155.6 1600.2,1152.6 1603.9,1132.9 1605,1130 1606.3,1133.4 1609.5,1150.4 1610.7,1152.2 1611.5,1150.6 1612.7,1141.8 1615.1,1103.2 1616,1096 1616.7,1099.6 1618.7,1123.1 1619.1,1124.5 1619.5,1124.3 1621.1,1115.3 1621.6,1115 1625.2,1153.1 1626.4,1158.1 1628.4,1160.5 1631.2,1161.5 1634.8,1162.1 1638.8,1162.1 1641.2,1161.6 1643.6,1159 1646.8,1151.2 1648,1150 1649.3,1151.5 1652.9,1160.1 1654.5,1161.8 1656.9,1162.7 1662.5,1162.9 1665.7,1162.2 1667.7,1160.4 1670.9,1154.8 1672,1154 1673.4,1155.2 1676.6,1160.9 1678.6,1162.4 1680.6,1162.7 1682.6,1162.1 1684.2,1160.6 1687,1156.5 1688,1156 1689,1156.6 1693,1161.9 1694.2,1162.5 1695.9,1162.6 1698.3,1160.7 1701.9,1153.1 1703,1152 1704.3,1153.4 1707.5,1160.6 1708.7,1162.1 1710.3,1163.1 1713.5,1163.5 1716.3,1163 1718,1161.9 1720.8,1158.7 1722,1158 1723.2,1158.6 1726.4,1162.2 1728,1163.1 1731.2,1163.4 1736,1162.8 1738.4,1161.7 1740,1160.1 1741.3,1156.8 1742.1,1151.7 1743.3,1134.5 1745.7,1067.9 1746.5,1058 1746.9,1058.8 1747.7,1069.2 1750.9,1144.6 1752.5,1157.4 1753.3,1159.6 1754.9,1161.4 1757.3,1162.4 1760.1,1162.5 1761.7,1161.8 1762.9,1159.9 1764.6,1151.1 1767.4,1122 1767.8,1122 1768.2,1123.6 1769.8,1132.1 1770.2,1132.7 1771.4,1132.4 1771.8,1133.3 1775.4,1159.4 1776.6,1162.2 1779,1163.8 1785.4,1164.7 1793.1,1164.6 1795.5,1163.7 1798.7,1160.6 1800,1160 1801.1,1160.5 1804.3,1163.7 1806.7,1164.9 1812.4,1165.3 1821.6,1165.2 1823.6,1164.8 1825.2,1163.7 1828.8,1158.8 1830,1158 1831.2,1158.8 1834.1,1163 1835.7,1164.4 1838.5,1165.3 1843.3,1165.2 1845.3,1164.7 1846.9,1163.5 1850.9,1155.9 1852,1155 1852.9,1155.7 1856.1,1162.2 1857.8,1164.1 1860.2,1165.1 1863.4,1165 1865.4,1164.1 1867,1162 1871,1149.3 1872,1148 1873,1149.4 1876.6,1161.2 1877.8,1163.4 1879,1164.5 1881.1,1165.1 1883.5,1165.1 1885.1,1164.6 1886.3,1163.6 1887.9,1160.7 1890.7,1151.9 1891.9,1150 1893.1,1151.5 1896.3,1161.4"/>
<polyline fill="none" stroke="#00ff00" stroke-width="5" points="264.5,973.5 270.8,977.4 277.1,981.3 283.3,985.1 289.6,988.8 295.9,992.5 302.2,996 308.4,999.5 314.7,1002.9 321,1006.3 327.3,1009.5 333.5,1012.7 339.8,1015.8 346.1,1018.9 352.4,1021.9 358.7,1024.8 364.9,1027.7 371.2,1030.5 377.5,1033.2 383.8,1035.9 390,1038.6 396.3,1041.1 402.6,1043.7 408.9,1046.1 415.1,1048.5 421.4,1050.9 427.7,1053.2 434,1055.5 440.3,1057.7 446.5,1059.9 452.8,1062 459.1,1064.1 465.4,1066.1 471.6,1068.1 477.9,1070.1 484.2,1072 490.5,1073.9 496.7,1075.7 503,1077.5 509.3,1079.3 515.6,1081 521.9,1082.7 528.1,1084.3 534.4,1086 540.7,1087.6 547,1089.1 553.2,1090.6 559.5,1092.1 565.8,1093.6 572.1,1095 578.4,1096.4 584.6,1097.8 590.9,1099.2 597.2,1100.5 603.5,1101.8 609.7,1103.1 616,1104.3 622.3,1105.5 628.6,1106.7 634.8,1107.9 641.1,1109 647.4,1110.2 653.7,1111.3 660,1112.3 666.2,1113.4 672.5,1114.4 678.8,1115.5 685.1,1116.5 691.3,1117.4 697.6,1118.4 703.9,1119.4 710.2,1120.3 716.4,1121.2 722.7,1122.1 729,1122.9 735.3,1123.8 741.6,1124.6 747.8,1125.5 754.1,1126.3 760.4,1127.1 766.7,1127.8 772.9,1128.6 779.2,1129.4 785.5,1130.1 791.8,1130.8 798,1131.5 804.3,1132.2 810.6,1132.9 816.9,1133.6 823.2,1134.2 829.4,1134.9 835.7,1135.5 842,1136.1 848.3,1136.7 854.5,1137.3 860.8,1137.9 867.1,1138.5 873.4,1139.1 879.6,1139.6 885.9,1140.2 892.2,1140.7 898.5,1141.2 904.8,1141.8 911,1142.3 917.3,1142.8 923.6,1143.3 929.9,1143.7 936.1,1144.2 942.4,1144.7 948.7,1145.1 955,1145.6 961.2,1146 967.5,1146.5 973.8,1146.9 980.1,1147.3 986.4,1147.7 992.6,1148.1 998.9,1148.5 1005.2,1148.9 1011.5,1149.3 1017.7,1149.7 1024,1150.1 1030.3,1150.4 1036.6,1150.8 1042.8,1151.1 1049.1,1151.5 1055.4,1151.8 1061.7,1152.2 1068,1152.5 1074.2,1152.8 1080.5,1153.2 1086.8,1153.5 1093.1,1153.8 1099.3,1154.1 1105.6,1154.4 1111.9,1154.7 1118.2,1155 1124.4,1155.3 1130.7,1155.6 1137,1155.8 1143.3,1156.1 1149.6,1156.4 1155.8,1156.7 1162.1,1156.9 1168.4,1157.2 1174.7,1157.4 1180.9,1157.7 1187.2,1157.9 1193.5,1158.2 1199.8,1158.4 1206.1,1158.6 1212.3,1158.9 1218.6,1159.1 1224.9,1159.3 1231.2,1159.5 1237.4,1159.8 1243.7,1160 1250,1160.2 1256.3,1160.4 1262.5,1160.6 1268.8,1160.8 1275.1,1161 1281.4,1161.2 1287.7,1161.4 1293.9,1161.6 1300.2,1161.8 1306.5,1162 1312.8,1162.2 1319,1162.3 1325.3,1162.5 1331.6,1162.7 1337.9,1162.9 1344.1,1163 1350.4,1163.2 1356.7,1163.4 1363,1163.5 1369.3,1163.7 1375.5,1163.9 1381.8,1164 1388.1,1164.2 1394.4,1164.3 1400.6,1164.5 1406.9,1164.6 1413.2,1164.8 1419.5,1164.9 1425.7,1165.1 1432,1165.2 1438.3,1165.4 1444.6,1165.5 1450.9,1165.6 1457.1,1165.8 1463.4,1165.9 1469.7,1166 1476,1166.2 1482.2,1166.3 1488.5,1166.4 1494.8,1166.6 1501.1,1166.7 1507.3,1166.8 1513.6,1166.9 1519.9,1167 1526.2,1167.2 1532.5,1167.3 1538.7,1167.4 1545,1167.5 1551.3,1167.6 1557.6,1167.7 1563.8,1167.8 1570.1,1168 1576.4,1168.1 1582.7,1168.2 1588.9,1168.3 1595.2,1168.4 1601.5,1168.5 1607.8,1168.6 1614.1,1168.7 1620.3,1168.8 1626.6,1168.9 1632.9,1169 1639.2,1169.1 1645.4,1169.2 1651.7,1169.3 1658,1169.4 1664.3,1169.4 1670.5,1169.5 1676.8,1169.6 1683.1,1169.7 1689.4,1169.8 1695.7,1169.9 1701.9,1170 1708.2,1170.1 1714.5,1170.1 1720.8,1170.2 1727,1170.3 1733.3,1170.4 1739.6,1170.5 1745.9,1170.5 1752.1,1170.6 1758.4,1170.7 1764.7,1170.8 1771,1170.9 1777.3,1170.9 1783.5,1171 1789.8,1171.1 1796.1,1171.2 1802.4,1171.2 1808.6,1171.3 1814.9,1171.4 1821.2,1171.4 1827.5,1171.5 1833.8,1171.6 1840,1171.6 1846.3,1171.7 1852.6,1171.8 1858.9,1171.8 1865.1,1171.9 1871.4,1172 1877.7,1172 1884,1172.1 1890.2,1172.2 1896.5,1172.2"/>
</g>
<g fill="#000"><rect x="916.1" y="827" width="5" height="35"/><rect x="995" y="827" width="5" height="35"/><rect x="1046.7" y="827" width="5" height="35"/><rect x="1116.8" y="827" width="5" height="35"/><rect x="1373.8" y="827" width="5" height="35"/><rect x="1432.7" y="827" width="5" height="35"/><rect x="1586.4" y="827" width="5" height="35"/><rect x="1618.9" y="827" width="5" height="35"/><rect x="1654.9" y="827" width="5" height="35"/><rect x="1743.5" y="827" width="5" height="35"/><rect x="1763.7" y="827" width="5" height="35"/><rect x="1829.1" y="827" width="5" height="35"/><rect x="1878.5" y="827" width="5" height="35"/></g>
<g fill="#00ffff"><rect x="302.4" y="1272" width="3" height="34"/><rect x="385" y="1272" width="3" height="34"/><rect x="419.9" y="1272" width="3" height="34"/><rect x="451.8" y="1272" width="3" height="34"/><rect x="460.5" y="1272" width="3" height="34"/><rect x="514.5" y="1272" width="3" height="34"/><rect x="563.5" y="1272" width="3" height="34"/><rect x="593.6" y="1272" width="3" height="34"/><rect x="638.8" y="1272" width="3" height="34"/><rect x="647.9" y="1272" width="3" height="34"/><rect x="661.5" y="1272" width="3" height="34"/><rect x="686.7" y="1272" width="3" height="34"/><rect x="324.1" y="1272" width="6.4" height="34"/><rect x="485.5" y="1272" width="6.5" height="34"/><rect x="602.8" y="1272" width="4.7" height="34"/><rect x="701" y="1272" width="5.1" height="34"/><rect x="708.4" y="1272" width="6.3" height="34"/><rect x="716.7" y="1272" width="3.8" height="34"/><rect x="721.5" y="1272" width="4" height="34"/><rect x="727.5" y="1272" width="4" height="34"/><rect x="732.8" y="1272" width="7.2" height="34"/><rect x="763.1" y="1272" width="10.3" height="34"/><rect x="779.3" y="1272" width="5.6" height="34"/><rect x="814.9" y="1272" width="3.3" height="34"/><rect x="828.7" y="1272" width="5.6" height="34"/><rect x="836.8" y="1272" width="3.3" height="34"/><rect x="847.8" y="1272" width="7.9" height="34"/><rect x="874.8" y="1272" width="3.3" height="34"/><rect x="890.9" y="1272" width="3.3" height="34"/><rect x="901.7" y="1272" width="4" height="34"/><rect x="907.7" y="1272" width="3.3" height="34"/><rect x="920.8" y="1272" width="6.3" height="34"/><rect x="937.6" y="1272" width="3.8" height="34"/><rect x="942.7" y="1272" width="3.3" height="34"/><rect x="959.9" y="1272" width="5.6" height="34"/><rect x="970.3" y="1272" width="11.3" height="34"/><rect x="992.1" y="1272" width="8" height="34"/><rect x="1003" y="1272" width="3.3" height="34"/><rect x="1008.2" y="1272" width="6.3" height="34"/><rect x="1019.1" y="1272" width="19.4" height="34"/><rect x="1040.9" y="1272" width="3.6" height="34"/><rect x="1046.2" y="1272" width="6.1" height="34"/><rect x="1057.3" y="1272" width="6" height="34"/><rect x="1070.9" y="1272" width="6.2" height="34"/><rect x="1098" y="1272" width="3.3" height="34"/><rect x="1109.5" y="1272" width="5.6" height="34"/><rect x="1125.4" y="1272" width="3.9" height="34"/><rect x="1136.2" y="1272" width="11.9" height="34"/><rect x="1152.5" y="1272" width="17.2" height="34"/><rect x="1179.8" y="1272" width="11.8" height="34"/><rect x="1196.3" y="1272" width="8.9" height="34"/><rect x="1215.3" y="1272" width="6.2" height="34"/><rect x="1223.5" y="1272" width="9" height="34"/><rect x="1239.8" y="1272" width="8.9" height="34"/><rect x="1256.1" y="1272" width="3.5" height="34"/><rect x="1261.1" y="1272" width="9.6" height="34"/><rect x="1272.6" y="1272" width="11.5" height="34"/><rect x="1286.2" y="1272" width="9" height="34"/><rect x="1296.9" y="1272" width="6.2" height="34"/><rect x="1305.3" y="1272" width="6" height="34"/><rect x="1316.2" y="1272" width="11.4" height="34"/><rect x="1332.5" y="1272" width="6.2" height="34"/><rect x="1343.8" y="1272" width="14.2" height="34"/><rect x="1365.3" y="1272" width="27.8" height="34"/><rect x="1395.2" y="1272" width="17.1" height="34"/><rect x="1414.5" y="1272" width="3.3" height="34"/><rect x="1428.1" y="1272" width="11.4" height="34"/><rect x="1441.7" y="1272" width="17.1" height="34"/><rect x="1460.9" y="1272" width="11.5" height="34"/><rect x="1476.6" y="1272" width="20.5" height="34"/><rect x="1498.5" y="1272" width="20" height="34"/><rect x="1520.4" y="1272" width="6.4" height="34"/><rect x="1528.7" y="1272" width="6.3" height="34"/><rect x="1539.8" y="1272" width="9" height="34"/><rect x="1550.3" y="1272" width="6.2" height="34"/><rect x="1572.3" y="1272" width="6.2" height="34"/><rect x="1580.2" y="1272" width="22.3" height="34"/><rect x="1605.1" y="1272" width="11.4" height="34"/><rect x="1621.5" y="1272" width="17" height="34"/><rect x="1643.4" y="1272" width="25.1" height="34"/><rect x="1670.5" y="1272" width="3.2" height="34"/><rect x="1678.5" y="1272" width="30.7" height="34"/><rect x="1714.1" y="1272" width="17.1" height="34"/><rect x="1732.9" y="1272" width="3.6" height="34"/><rect x="1738.5" y="1272" width="9" height="34"/><rect x="1749.5" y="1272" width="9" height="34"/><rect x="1760.1" y="1272" width="11.9" height="34"/><rect x="1774.1" y="1272" width="6.4" height="34"/><rect x="1782.5" y="1272" width="22" height="34"/><rect x="1806.5" y="1272" width="6.3" height="34"/><rect x="1814.9" y="1272" width="6.3" height="34"/><rect x="1822.9" y="1272" width="20.2" height="34"/><rect x="1847.4" y="1272" width="19.8" height="34"/><rect x="1869.3" y="1272" width="6.2" height="34"/><rect x="1877.7" y="1272" width="19.8" height="34"/></g>
<g fill="#ff00ff"><rect x="590.9" y="1319" width="3" height="34"/><rect x="749.5" y="1319" width="3" height="34"/><rect x="801.3" y="1319" width="3" height="34"/><rect x="915.9" y="1319" width="3" height="34"/><rect x="1000.4" y="1319" width="3" height="34"/><rect x="1095.4" y="1319" width="3" height="34"/><rect x="1193.4" y="1319" width="3" height="34"/><rect x="1204.3" y="1319" width="3" height="34"/><rect x="1228.8" y="1319" width="3" height="34"/><rect x="1430.8" y="1319" width="3" height="34"/><rect x="1452.6" y="1319" width="3" height="34"/><rect x="1468.5" y="1319" width="3" height="34"/><rect x="1534.2" y="1319" width="3" height="34"/><rect x="1542.6" y="1319" width="3" height="34"/><rect x="1553.1" y="1319" width="3" height="34"/><rect x="1594.3" y="1319" width="3" height="34"/><rect x="1635.1" y="1319" width="3" height="34"/><rect x="1657.5" y="1319" width="3" height="34"/><rect x="1747" y="1319" width="3" height="34"/><rect x="1774.2" y="1319" width="3" height="34"/><rect x="1841.5" y="1319" width="3" height="34"/><rect x="1861.6" y="1319" width="3" height="34"/></g>
<g fill="#8000ff"><rect x="490.5" y="1368" width="3" height="32"/><rect x="539.5" y="1368" width="3" height="32"/><rect x="569.2" y="1368" width="3" height="32"/><rect x="670.7" y="1368" width="3" height="32"/><rect x="694.8" y="1368" width="3" height="32"/><rect x="795.5" y="1368" width="3" height="32"/><rect x="833.5" y="1368" width="3" height="32"/><rect x="847.3" y="1368" width="3" height="32"/><rect x="919.8" y="1368" width="3" height="32"/><rect x="945.8" y="1368" width="3" height="32"/><rect x="964.7" y="1368" width="3" height="32"/><rect x="972.7" y="1368" width="3" height="32"/><rect x="982.6" y="1368" width="3" height="32"/><rect x="1044.1" y="1368" width="3" height="32"/><rect x="1054.5" y="1368" width="3" height="32"/><rect x="1086.2" y="1368" width="3" height="32"/><rect x="1149.9" y="1368" width="3" height="32"/><rect x="1161" y="1368" width="3" height="32"/><rect x="1179.8" y="1368" width="3" height="32"/><rect x="1221" y="1368" width="3" height="32"/><rect x="1225.2" y="1368" width="3" height="32"/><rect x="1228.8" y="1368" width="3" height="32"/><rect x="1243" y="1368" width="3" height="32"/><rect x="1261.8" y="1368" width="3" height="32"/><rect x="1264.5" y="1368" width="3" height="32"/><rect x="1272.7" y="1368" width="3" height="32"/><rect x="1311" y="1368" width="3" height="32"/><rect x="1313.5" y="1368" width="3" height="32"/><rect x="1334" y="1368" width="3" height="32"/><rect x="1337.7" y="1368" width="3" height="32"/><rect x="1346.1" y="1368" width="3" height="32"/><rect x="1365.4" y="1368" width="3" height="32"/><rect x="1419.8" y="1368" width="3" height="32"/><rect x="1432.3" y="1368" width="3" height="32"/><rect x="1494" y="1368" width="3" height="32"/><rect x="1498" y="1368" width="3" height="32"/><rect x="1502.4" y="1368" width="3" height="32"/><rect x="1507" y="1368" width="3" height="32"/><rect x="1517" y="1368" width="3" height="32"/><rect x="1523.5" y="1368" width="3" height="32"/><rect x="1537.2" y="1368" width="3" height="32"/><rect x="1539.5" y="1368" width="3" height="32"/><rect x="1558.7" y="1368" width="3" height="32"/><rect x="1578.2" y="1368" width="3" height="32"/><rect x="1585.9" y="1368" width="3" height="32"/><rect x="1597" y="1368" width="3" height="32"/><rect x="1640.7" y="1368" width="3" height="32"/><rect x="1645.9" y="1368" width="3" height="32"/><rect x="1665.4" y="1368" width="3" height="32"/><rect x="1670.6" y="1368" width="3" height="32"/><rect x="1675.9" y="1368" width="3" height="32"/><rect x="1693.6" y="1368" width="3" height="32"/><rect x="1714.5" y="1368" width="3" height="32"/><rect x="1722.3" y="1368" width="3" height="32"/><rect x="1731.9" y="1368" width="3" height="32"/><rect x="1749.7" y="1368" width="3" height="32"/><rect x="1757.9" y="1368" width="3" height="32"/><rect x="1762.5" y="1368" width="3" height="32"/><rect x="1765.5" y="1368" width="3" height="32"/><rect x="1769" y="1368" width="3" height="32"/><rect x="1786.3" y="1368" width="3" height="32"/><rect x="1809.8" y="1368" width="3" height="32"/><rect x="1820.6" y="1368" width="3" height="32"/><rect x="1834.2" y="1368" width="3" height="32"/><rect x="1839.7" y="1368" width="3" height="32"/></g>
<!-- axes -->
<g stroke="#000" stroke-width="5" fill="none">
<line x1="264.5" y1="21" x2="264.5" y2="1457"/>
<line x1="253.5" y1="1430.5" x2="1899" y2="1430.5"/>
<line x1="253.5" y1="23.5" x2="264.5" y2="23.5"/>
<line x1="254" y1="492" x2="264.5" y2="492"/>
<line x1="254" y1="961.5" x2="264.5" y2="961.5"/>
<line x1="240" y1="257" x2="264.5" y2="257"/>
<line x1="240" y1="726.5" x2="264.5" y2="726.5"/>
<line x1="240" y1="1196" x2="264.5" y2="1196"/>
<line x1="515.6" y1="1430" x2="515.6" y2="1457"/>
<line x1="766.7" y1="1430" x2="766.7" y2="1457"/>
<line x1="1017.7" y1="1430" x2="1017.7" y2="1457"/>
<line x1="1268.8" y1="1430" x2="1268.8" y2="1457"/>
<line x1="1519.9" y1="1430" x2="1519.9" y2="1457"/>
<line x1="1771" y1="1430" x2="1771" y2="1457"/>
<line x1="390" y1="1430" x2="390" y2="1444"/>
<line x1="641.1" y1="1430" x2="641.1" y2="1444"/>
<line x1="892.2" y1="1430" x2="892.2" y2="1444"/>
<line x1="1143.3" y1="1430" x2="1143.3" y2="1444"/>
<line x1="1394.4" y1="1430" x2="1394.4" y2="1444"/>
<line x1="1645.4" y1="1430" x2="1645.4" y2="1444"/>
<line x1="1896.5" y1="1430" x2="1896.5" y2="1444"/>
</g>
<g font-size="58.7" text-anchor="end">
<text transform="matrix(0.95,0,0,1.063,220,276.1)">2000</text>
<text transform="matrix(0.919,0,0,1.063,220,745)">1000</text>
<text transform="matrix(0.85,0,0,1.063,220,1213)">0</text>
</g>
<g font-size="58.7" text-anchor="middle">
<text transform="matrix(0.92,0,0,1.063,266.5,1523.2)">10</text>
<text transform="matrix(0.95,0,0,1.063,516.6,1523.2)">20</text>
<text transform="matrix(0.95,0,0,1.063,767.7,1523.2)">30</text>
<text transform="matrix(0.95,0,0,1.063,1016.5,1523.2)">40</text>
<text transform="matrix(0.93,0,0,1.063,1270,1523.2)">50</text>
<text transform="matrix(0.95,0,0,1.063,1520.9,1523.2)">60</text>
<text transform="matrix(0.95,0,0,1.063,1770.5,1523.2)">70</text>
</g>
<g transform="matrix(1,0,0,1.05,0,-35.1)"><text font-size="70" text-anchor="middle" transform="translate(70,725.5) rotate(-90)">Intensity [cts]</text></g>
<g font-size="71"><text x="988" y="1643">2</text><text transform="matrix(0.9,0,0,1.02,1046.6,1644.5)">θ</text><text transform="matrix(1.1,0,0,1,1098.9,1643)">[°]</text></g>
<!-- legend -->
<rect x="876.5" y="196.5" width="796" height="596" fill="#fff" stroke="#000" stroke-width="3"/>
<line x1="875" y1="196.5" x2="1674" y2="196.5" stroke="#606060" stroke-width="3"/>
<line x1="1672.5" y1="195" x2="1672.5" y2="794" stroke="#808080" stroke-width="3"/>
<line x1="940" y1="237.5" x2="957" y2="237.5" stroke="#eee" stroke-width="3"/>
<line x1="947.5" y1="231" x2="947.5" y2="247" stroke="#000" stroke-width="3"/>
<line x1="883" y1="310.5" x2="1011" y2="310.5" stroke="#ff5050" stroke-width="2"/>
<line x1="883" y1="385.5" x2="1011" y2="385.5" stroke="#d8d8d8" stroke-width="2.5"/>
<line x1="880" y1="458" x2="1013" y2="458" stroke="#00ff00" stroke-width="5"/>
<line x1="947.5" y1="517.5" x2="947.5" y2="549" stroke="#00ffff" stroke-width="3"/>
<line x1="947.5" y1="591" x2="947.5" y2="623" stroke="#ff00ff" stroke-width="3"/>
<line x1="947.5" y1="665" x2="947.5" y2="697" stroke="#8000ff" stroke-width="3"/>
<line x1="947.5" y1="737" x2="947.5" y2="772.5" stroke="#000" stroke-width="5"/>
<g font-size="59">
<text transform="matrix(0.952,0,0,1,1023.2,258.0)">Measured</text>
<text transform="matrix(0.952,0,0,1,1023.2,331.6)">Calculated</text>
<text transform="matrix(0.952,0,0,1,1023.2,405.2)">Difference</text>
<text transform="matrix(0.952,0,0,1,1023.2,478.8)">Background</text>
<text transform="matrix(0.952,0,0,1,1023.2,552.4)">Wollastonite</text>
<text transform="matrix(0.952,0,0,1,1023.2,626.0)">Calcite</text>
<text transform="matrix(0.952,0,0,1,1023.2,699.6)">Aragonite</text>
<text transform="matrix(0.952,0,0,1,1023.2,773.2)">Rutile (standard: 10 wt %)</text>
</g>
</svg>
</body></html>
